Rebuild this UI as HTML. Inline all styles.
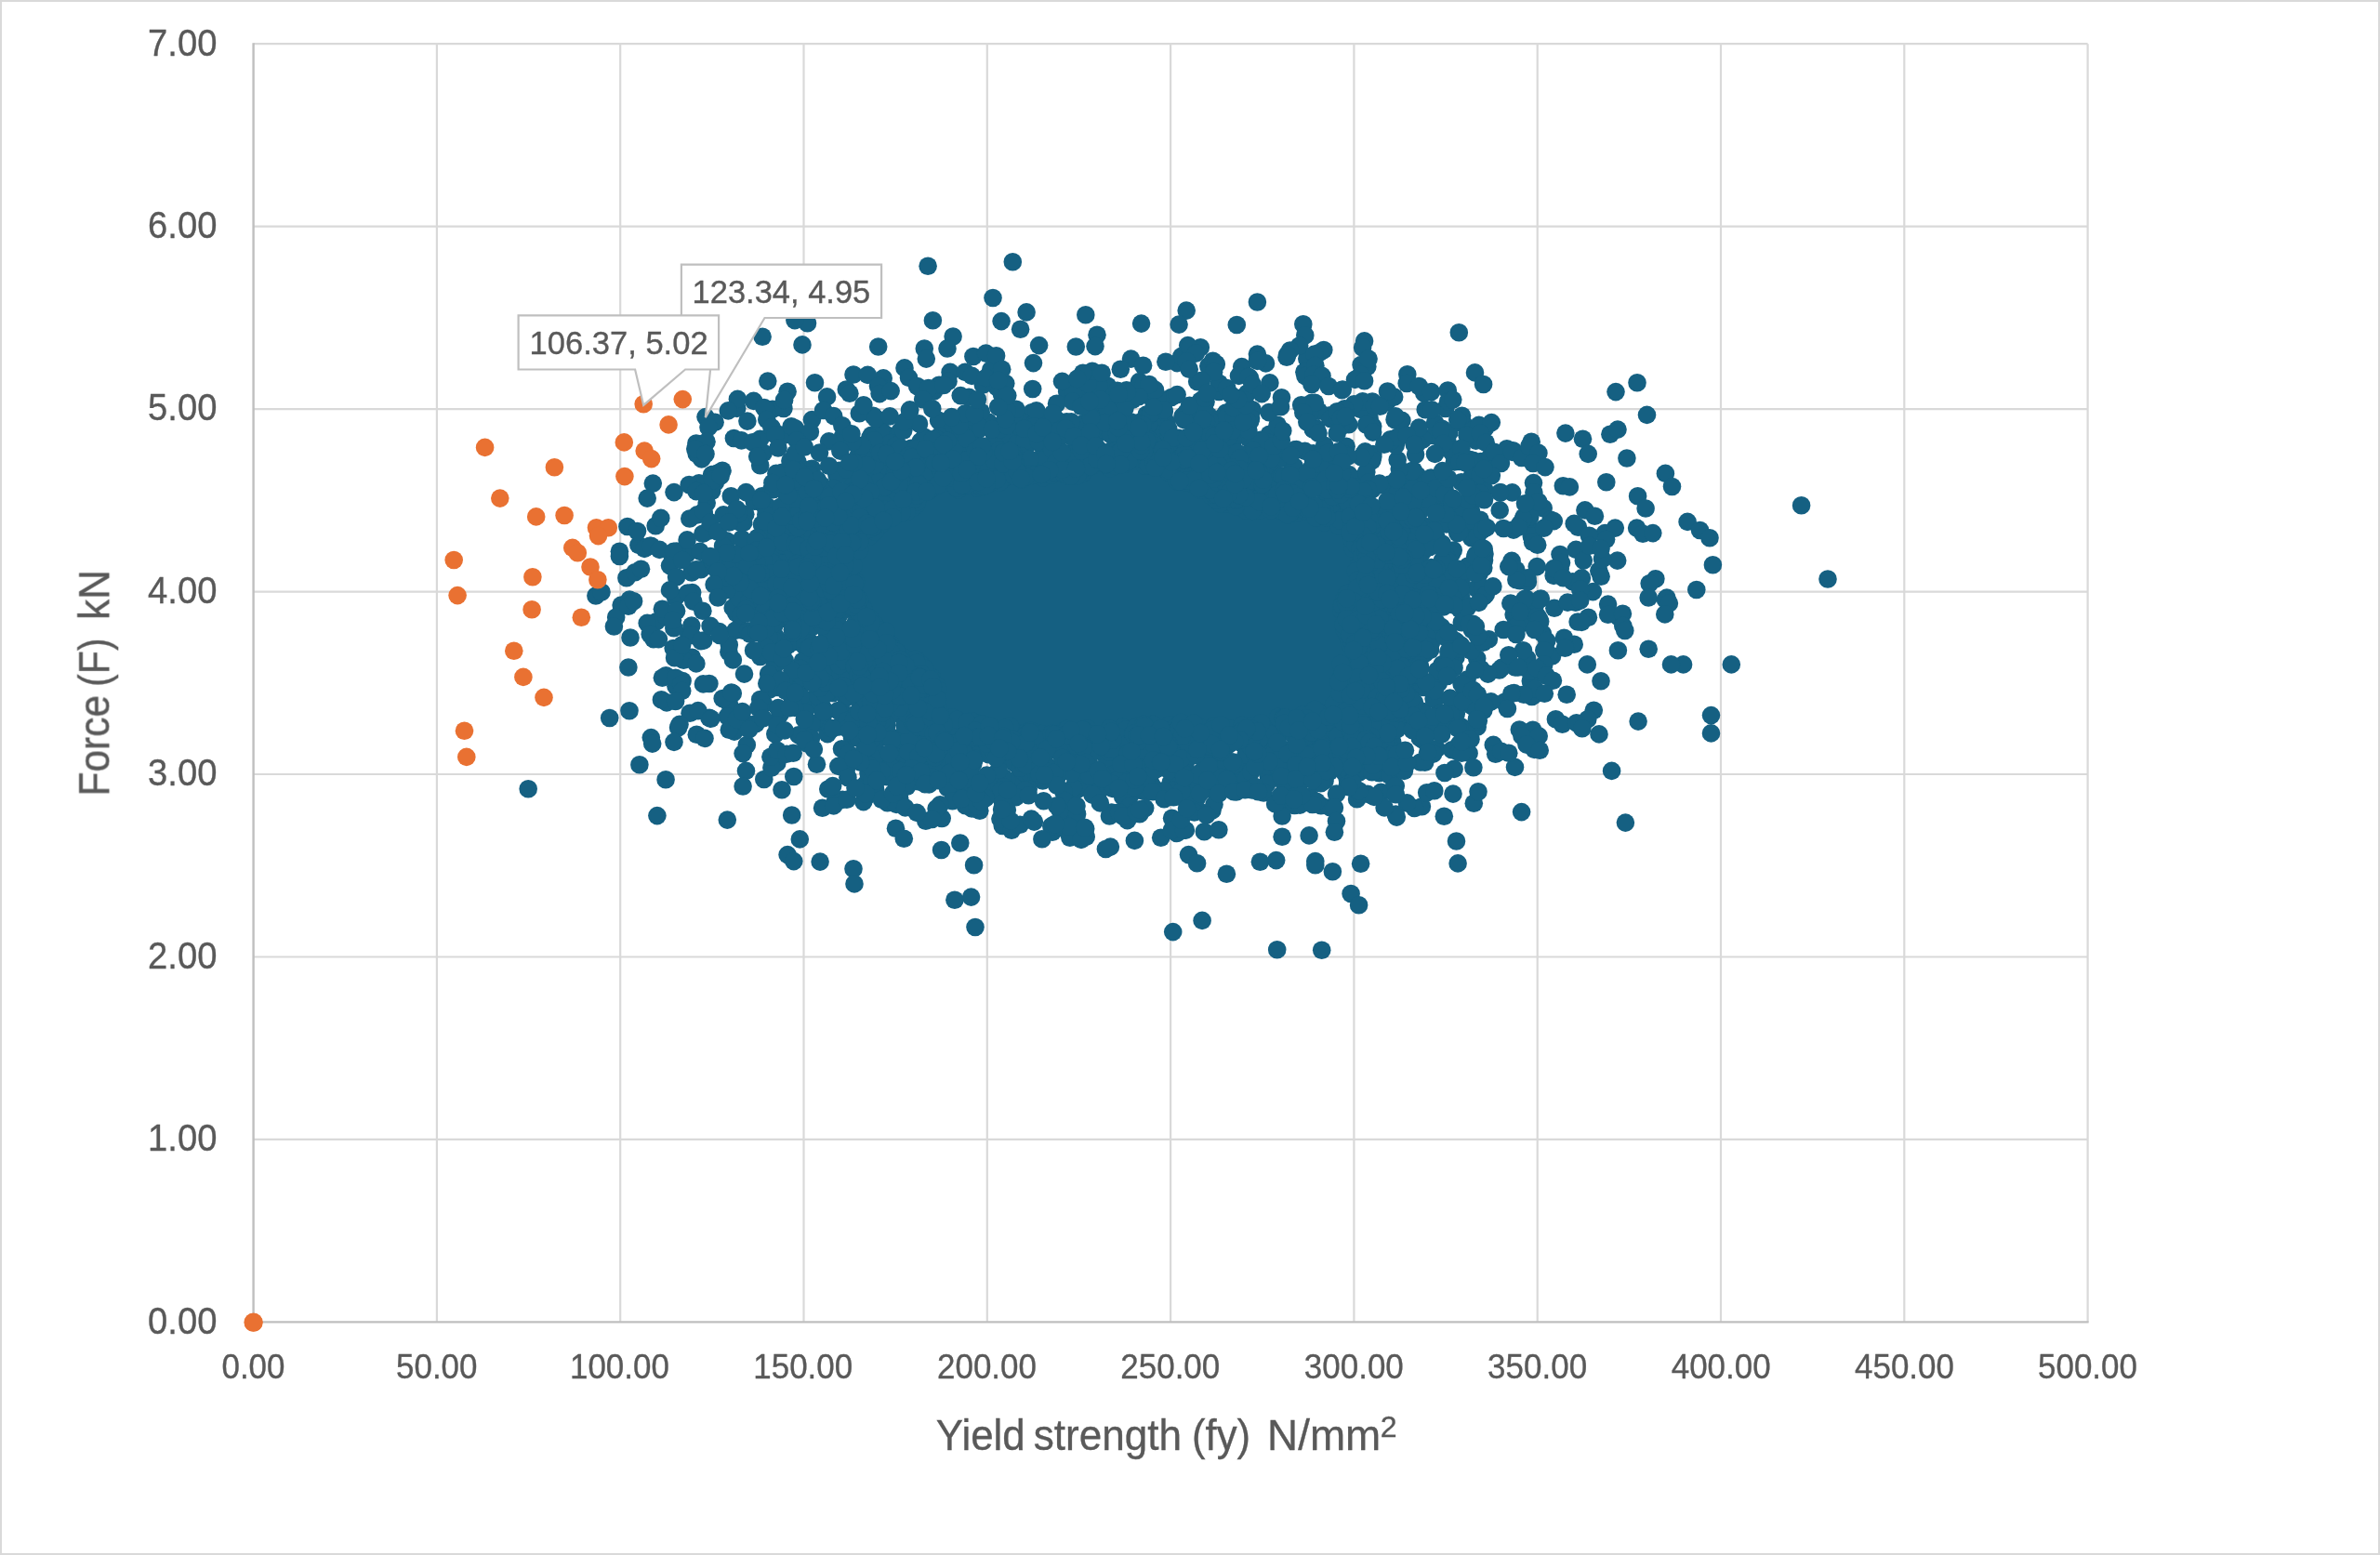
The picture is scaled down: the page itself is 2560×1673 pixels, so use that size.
<!DOCTYPE html><html><head><meta charset="utf-8"><title>chart</title><style>html,body{margin:0;padding:0;background:#fff}svg{display:block}</style></head><body>
<svg width="2560" height="1673" viewBox="0 0 2560 1673" font-family="Liberation Sans, sans-serif">
<defs><filter id="g" x="-5%" y="-30%" width="110%" height="160%" color-interpolation-filters="sRGB"><feOffset dx="0" dy="0"/></filter></defs>
<rect x="0" y="0" width="2560" height="1673" fill="#fff"/>
<rect x="1" y="1" width="2558" height="1671" fill="none" stroke="#D9D9D9" stroke-width="2"/>
<path d="M272.6 1225.9H2245.6M272.6 1029.5H2245.6M272.6 833.0H2245.6M272.6 636.6H2245.6M272.6 440.1H2245.6M272.6 243.7H2245.6M272.6 47.2H2245.6M469.9 47.2V1422.4M667.2 47.2V1422.4M864.5 47.2V1422.4M1061.8 47.2V1422.4M1259.1 47.2V1422.4M1456.4 47.2V1422.4M1653.7 47.2V1422.4M1851.0 47.2V1422.4M2048.3 47.2V1422.4M2245.6 47.2V1422.4" stroke="#D9D9D9" stroke-width="2.2" fill="none"/>
<path d="M272.6 46.2V1422.4M271.6 1422.4H2246.6" stroke="#BFBFBF" stroke-width="2.4" fill="none"/>
<text transform="translate(159.08,1434.70) scale(0.9510,1)" font-size="40.2" fill="#595959" stroke="#595959" stroke-width="0.35" filter="url(#g)" xml:space="preserve">0.00</text>
<text transform="translate(159.08,1238.24) scale(0.9510,1)" font-size="40.2" fill="#595959" stroke="#595959" stroke-width="0.35" filter="url(#g)" xml:space="preserve">1.00</text>
<text transform="translate(159.08,1041.79) scale(0.9510,1)" font-size="40.2" fill="#595959" stroke="#595959" stroke-width="0.35" filter="url(#g)" xml:space="preserve">2.00</text>
<text transform="translate(159.08,845.33) scale(0.9510,1)" font-size="40.2" fill="#595959" stroke="#595959" stroke-width="0.35" filter="url(#g)" xml:space="preserve">3.00</text>
<text transform="translate(159.08,648.87) scale(0.9510,1)" font-size="40.2" fill="#595959" stroke="#595959" stroke-width="0.35" filter="url(#g)" xml:space="preserve">4.00</text>
<text transform="translate(159.08,452.41) scale(0.9510,1)" font-size="40.2" fill="#595959" stroke="#595959" stroke-width="0.35" filter="url(#g)" xml:space="preserve">5.00</text>
<text transform="translate(159.08,255.96) scale(0.9510,1)" font-size="40.2" fill="#595959" stroke="#595959" stroke-width="0.35" filter="url(#g)" xml:space="preserve">6.00</text>
<text transform="translate(159.08,59.50) scale(0.9510,1)" font-size="40.2" fill="#595959" stroke="#595959" stroke-width="0.35" filter="url(#g)" xml:space="preserve">7.00</text>
<text transform="translate(238.44,1483.00) scale(0.9610,1)" font-size="36.4" fill="#595959" stroke="#595959" stroke-width="0.35" filter="url(#g)" xml:space="preserve">0.00</text>
<text transform="translate(425.99,1483.00) scale(0.9610,1)" font-size="36.4" fill="#595959" stroke="#595959" stroke-width="0.35" filter="url(#g)" xml:space="preserve">50.00</text>
<text transform="translate(612.97,1483.00) scale(0.9610,1)" font-size="36.4" fill="#595959" stroke="#595959" stroke-width="0.35" filter="url(#g)" xml:space="preserve">100.00</text>
<text transform="translate(810.27,1483.00) scale(0.9610,1)" font-size="36.4" fill="#595959" stroke="#595959" stroke-width="0.35" filter="url(#g)" xml:space="preserve">150.00</text>
<text transform="translate(1008.01,1483.00) scale(0.9610,1)" font-size="36.4" fill="#595959" stroke="#595959" stroke-width="0.35" filter="url(#g)" xml:space="preserve">200.00</text>
<text transform="translate(1205.31,1483.00) scale(0.9610,1)" font-size="36.4" fill="#595959" stroke="#595959" stroke-width="0.35" filter="url(#g)" xml:space="preserve">250.00</text>
<text transform="translate(1402.82,1483.00) scale(0.9610,1)" font-size="36.4" fill="#595959" stroke="#595959" stroke-width="0.35" filter="url(#g)" xml:space="preserve">300.00</text>
<text transform="translate(1600.12,1483.00) scale(0.9610,1)" font-size="36.4" fill="#595959" stroke="#595959" stroke-width="0.35" filter="url(#g)" xml:space="preserve">350.00</text>
<text transform="translate(1797.69,1483.00) scale(0.9610,1)" font-size="36.4" fill="#595959" stroke="#595959" stroke-width="0.35" filter="url(#g)" xml:space="preserve">400.00</text>
<text transform="translate(1994.99,1483.00) scale(0.9610,1)" font-size="36.4" fill="#595959" stroke="#595959" stroke-width="0.35" filter="url(#g)" xml:space="preserve">450.00</text>
<text transform="translate(2191.98,1483.00) scale(0.9610,1)" font-size="36.4" fill="#595959" stroke="#595959" stroke-width="0.35" filter="url(#g)" xml:space="preserve">500.00</text>
<text transform="translate(1006.81,1560.00) scale(0.9503,1)" font-size="46.2" fill="#595959" stroke="#595959" stroke-width="0.35" filter="url(#g)" xml:space="preserve">Yield</text>
<text transform="translate(1111.69,1560.00) scale(0.9543,1)" font-size="46.2" fill="#595959" stroke="#595959" stroke-width="0.35" filter="url(#g)" xml:space="preserve">strength</text>
<text transform="translate(1281.97,1560.00) scale(0.9461,1)" font-size="46.2" fill="#595959" stroke="#595959" stroke-width="0.35" filter="url(#g)" xml:space="preserve">(fy)</text>
<text transform="translate(1363.12,1560.00) scale(0.9913,1)" font-size="46.2" fill="#595959" stroke="#595959" stroke-width="0.35" filter="url(#g)" xml:space="preserve">N/mm</text>
<text transform="translate(1484.80,1545.80) scale(1.0418,1)" font-size="30.8" fill="#595959" stroke="#595959" stroke-width="0.35" filter="url(#g)" xml:space="preserve">2</text>
<g transform="translate(117.3,853.0) rotate(-90)"><text transform="translate(-3.50,0.00) scale(0.9017,1)" font-size="47.1" fill="#595959" stroke="#595959" stroke-width="0.35" filter="url(#g)" xml:space="preserve">Force</text><text transform="translate(114.14,0.00) scale(0.8695,1)" font-size="47.1" fill="#595959" stroke="#595959" stroke-width="0.35" filter="url(#g)" xml:space="preserve">(F)</text><text transform="translate(186.13,0.00) scale(0.9344,1)" font-size="47.1" fill="#595959" stroke="#595959" stroke-width="0.35" filter="url(#g)" xml:space="preserve">kN</text></g>
<path d="M936 551L935 551L935 551L934 551L934 552L934 552L933 552L933 552L899 595L899 596L899 596L899 596L897 604L897 604L897 605L901 643L901 644L902 644L909 661L909 661L909 662L909 662L930 680L935 685L940 691L943 696L946 702L946 703L946 704L947 704L947 704L947 704L947 705L948 705L948 705L955 709L963 714L970 719L975 724L980 730L984 736L987 742L989 749L989 755L989 764L989 764L989 765L990 765L990 765L990 766L990 766L991 766L991 766L992 767L1000 772L1006 777L1010 781L1010 781L1010 781L1011 781L1011 782L1012 782L1012 782L1012 782L1013 782L1013 782L1091 792L1099 793L1124 797L1124 797L1125 797L1136 797L1136 797L1137 797L1137 797L1159 795L1171 794L1209 792L1209 792L1246 790L1259 789L1272 789L1285 790L1295 791L1296 791L1296 791L1297 791L1297 791L1307 790L1320 790L1346 790L1346 790L1347 790L1347 790L1348 790L1348 790L1349 789L1350 789L1361 786L1373 783L1385 781L1414 776L1415 776L1415 776L1435 771L1435 771L1435 771L1453 764L1454 764L1454 764L1457 762L1457 762L1458 762L1458 761L1458 761L1459 759L1460 759L1460 758L1462 751L1462 750L1462 730L1462 723L1465 716L1468 709L1473 702L1476 698L1477 698L1477 698L1477 697L1477 697L1477 697L1477 696L1477 696L1468 680L1465 673L1464 666L1464 659L1465 652L1468 645L1472 638L1482 624L1482 624L1482 623L1482 623L1482 623L1482 623L1479 609L1479 605L1476 575L1476 575L1476 575L1476 574L1469 565L1468 564L1468 564L1468 564L1467 564L1467 563L1457 559L1445 553L1445 553L1445 553L1444 553L1444 553L1438 552L1425 549L1413 545L1406 542L1405 542L1405 542L1404 542L1404 542L1403 542L1403 542L1392 542L1380 542L1368 541L1356 539L1344 537L1333 534L1322 531L1312 527L1303 523L1294 518L1287 513L1280 508L1275 502L1271 497L1271 497L1271 496L1270 496L1270 496L1270 496L1269 495L1269 495L1268 495L1268 495L1267 495L1262 494L1250 493L1239 490L1228 488L1218 484L1217 484L1217 484L1216 484L1216 484L1215 484L1215 484L1214 483L1214 483L1213 484L1213 484L1212 484L1212 484L1211 484L1211 484L1210 484L1208 486L1198 490L1187 493L1176 496L1164 499L1152 500L1140 501L1095 504L1094 505L1093 505L1058 512L1058 512L1007 522L993 524L989 524L988 524L988 525L987 525L987 525L986 525L986 525L986 525L985 526L979 531L971 536L962 541L953 545L943 549L936 551Z" fill="#156082"/>
<g fill="#156082"><circle cx="827.5" cy="734.5" r="9.8"/><circle cx="1000.6" cy="487.3" r="9.8"/><circle cx="1458.1" cy="685.2" r="9.8"/><circle cx="1500.9" cy="545.9" r="9.8"/><circle cx="1525.1" cy="670.8" r="9.8"/><circle cx="951.5" cy="777.8" r="9.8"/><circle cx="1054.7" cy="499.0" r="9.8"/><circle cx="1351.9" cy="476.9" r="9.8"/><circle cx="1477.1" cy="732.6" r="9.8"/><circle cx="1162.0" cy="816.9" r="9.8"/><circle cx="1448.3" cy="789.9" r="9.8"/><circle cx="986.1" cy="766.9" r="9.8"/><circle cx="801.8" cy="553.3" r="9.8"/><circle cx="1109.4" cy="833.1" r="9.8"/><circle cx="1353.0" cy="521.4" r="9.8"/><circle cx="1551.7" cy="771.3" r="9.8"/><circle cx="905.8" cy="708.0" r="9.8"/><circle cx="1069.9" cy="789.9" r="9.8"/><circle cx="819.4" cy="564.3" r="9.8"/><circle cx="1284.3" cy="457.5" r="9.8"/><circle cx="1237.2" cy="456.1" r="9.8"/><circle cx="1306.2" cy="499.0" r="9.8"/><circle cx="878.4" cy="528.6" r="9.8"/><circle cx="1539.2" cy="539.4" r="9.8"/><circle cx="840.8" cy="547.9" r="9.8"/><circle cx="1242.5" cy="808.2" r="9.8"/><circle cx="1534.6" cy="577.2" r="9.8"/><circle cx="1449.4" cy="525.6" r="9.8"/><circle cx="889.6" cy="615.9" r="9.8"/><circle cx="1160.9" cy="838.7" r="9.8"/><circle cx="993.8" cy="493.2" r="9.8"/><circle cx="1435.3" cy="785.6" r="9.8"/><circle cx="978.5" cy="762.4" r="9.8"/><circle cx="884.5" cy="728.1" r="9.8"/><circle cx="1009.5" cy="773.4" r="9.8"/><circle cx="1277.1" cy="514.6" r="9.8"/><circle cx="1443.0" cy="656.8" r="9.8"/><circle cx="1235.5" cy="471.9" r="9.8"/><circle cx="1337.0" cy="511.2" r="9.8"/><circle cx="1206.0" cy="464.9" r="9.8"/><circle cx="1042.6" cy="506.5" r="9.8"/><circle cx="1232.0" cy="835.3" r="9.8"/><circle cx="792.3" cy="636.0" r="9.8"/><circle cx="898.9" cy="652.1" r="9.8"/><circle cx="1020.5" cy="780.0" r="9.8"/><circle cx="1093.2" cy="467.9" r="9.8"/><circle cx="1508.6" cy="632.5" r="9.8"/><circle cx="1240.9" cy="780.3" r="9.8"/><circle cx="1246.1" cy="502.1" r="9.8"/><circle cx="820.9" cy="679.4" r="9.8"/><circle cx="1237.0" cy="426.7" r="9.8"/><circle cx="1456.3" cy="580.3" r="9.8"/><circle cx="1446.7" cy="818.9" r="9.8"/><circle cx="1152.4" cy="801.3" r="9.8"/><circle cx="1488.0" cy="782.5" r="9.8"/><circle cx="884.4" cy="591.1" r="9.8"/><circle cx="881.3" cy="542.4" r="9.8"/><circle cx="1496.5" cy="608.0" r="9.8"/><circle cx="825.1" cy="572.2" r="9.8"/><circle cx="869.5" cy="688.7" r="9.8"/><circle cx="1121.7" cy="513.6" r="9.8"/><circle cx="983.8" cy="786.0" r="9.8"/><circle cx="953.4" cy="469.4" r="9.8"/><circle cx="1283.4" cy="782.5" r="9.8"/><circle cx="806.0" cy="623.4" r="9.8"/><circle cx="1507.2" cy="686.5" r="9.8"/><circle cx="1517.8" cy="739.1" r="9.8"/><circle cx="1553.1" cy="532.1" r="9.8"/><circle cx="1076.7" cy="484.0" r="9.8"/><circle cx="1254.0" cy="459.4" r="9.8"/><circle cx="841.0" cy="587.5" r="9.8"/><circle cx="1451.8" cy="736.0" r="9.8"/><circle cx="1530.6" cy="630.7" r="9.8"/><circle cx="1503.5" cy="690.2" r="9.8"/><circle cx="1337.0" cy="439.3" r="9.8"/><circle cx="922.7" cy="679.6" r="9.8"/><circle cx="908.3" cy="682.9" r="9.8"/><circle cx="903.0" cy="596.3" r="9.8"/><circle cx="910.2" cy="572.0" r="9.8"/><circle cx="875.5" cy="710.7" r="9.8"/><circle cx="1210.6" cy="498.5" r="9.8"/><circle cx="1443.0" cy="789.8" r="9.8"/><circle cx="905.6" cy="645.1" r="9.8"/><circle cx="1216.2" cy="854.7" r="9.8"/><circle cx="875.9" cy="723.3" r="9.8"/><circle cx="1084.7" cy="441.3" r="9.8"/><circle cx="1518.0" cy="588.9" r="9.8"/><circle cx="923.6" cy="489.5" r="9.8"/><circle cx="1093.2" cy="790.8" r="9.8"/><circle cx="1036.1" cy="848.8" r="9.8"/><circle cx="1141.5" cy="485.6" r="9.8"/><circle cx="949.7" cy="750.5" r="9.8"/><circle cx="1543.3" cy="752.7" r="9.8"/><circle cx="809.2" cy="638.1" r="9.8"/><circle cx="1378.3" cy="492.5" r="9.8"/><circle cx="1467.8" cy="569.4" r="9.8"/><circle cx="1000.2" cy="743.6" r="9.8"/><circle cx="1453.0" cy="566.9" r="9.8"/><circle cx="1591.0" cy="617.4" r="9.8"/><circle cx="948.0" cy="563.9" r="9.8"/><circle cx="1096.8" cy="448.3" r="9.8"/><circle cx="1342.0" cy="542.3" r="9.8"/><circle cx="1514.1" cy="554.6" r="9.8"/><circle cx="1286.7" cy="812.7" r="9.8"/><circle cx="919.3" cy="783.4" r="9.8"/><circle cx="1520.4" cy="778.2" r="9.8"/><circle cx="1255.0" cy="454.8" r="9.8"/><circle cx="1551.2" cy="714.8" r="9.8"/><circle cx="1444.2" cy="750.3" r="9.8"/><circle cx="1299.6" cy="841.4" r="9.8"/><circle cx="896.1" cy="556.1" r="9.8"/><circle cx="1041.3" cy="798.7" r="9.8"/><circle cx="1310.9" cy="504.0" r="9.8"/><circle cx="1201.0" cy="474.0" r="9.8"/><circle cx="1042.5" cy="852.2" r="9.8"/><circle cx="1520.7" cy="600.3" r="9.8"/><circle cx="1169.6" cy="783.7" r="9.8"/><circle cx="982.5" cy="485.4" r="9.8"/><circle cx="961.1" cy="803.0" r="9.8"/><circle cx="1339.6" cy="494.4" r="9.8"/><circle cx="1459.2" cy="648.6" r="9.8"/><circle cx="1601.4" cy="687.7" r="9.8"/><circle cx="902.4" cy="782.0" r="9.8"/><circle cx="895.3" cy="702.7" r="9.8"/><circle cx="1556.6" cy="599.7" r="9.8"/><circle cx="1297.0" cy="432.5" r="9.8"/><circle cx="1152.1" cy="495.3" r="9.8"/><circle cx="1042.2" cy="488.9" r="9.8"/><circle cx="1049.2" cy="502.6" r="9.8"/><circle cx="1470.4" cy="596.4" r="9.8"/><circle cx="1499.4" cy="666.3" r="9.8"/><circle cx="1383.1" cy="520.5" r="9.8"/><circle cx="952.2" cy="816.6" r="9.8"/><circle cx="973.0" cy="792.4" r="9.8"/><circle cx="1259.9" cy="427.5" r="9.8"/><circle cx="1530.4" cy="739.5" r="9.8"/><circle cx="1596.5" cy="602.8" r="9.8"/><circle cx="902.3" cy="569.3" r="9.8"/><circle cx="1335.0" cy="829.9" r="9.8"/><circle cx="1592.1" cy="559.2" r="9.8"/><circle cx="1452.6" cy="761.7" r="9.8"/><circle cx="1295.6" cy="511.4" r="9.8"/><circle cx="1369.1" cy="512.1" r="9.8"/><circle cx="1291.8" cy="788.0" r="9.8"/><circle cx="1588.2" cy="633.4" r="9.8"/><circle cx="1029.6" cy="522.5" r="9.8"/><circle cx="859.0" cy="725.8" r="9.8"/><circle cx="1291.3" cy="784.2" r="9.8"/><circle cx="1011.6" cy="788.0" r="9.8"/><circle cx="1480.4" cy="607.2" r="9.8"/><circle cx="1518.8" cy="715.3" r="9.8"/><circle cx="968.5" cy="754.0" r="9.8"/><circle cx="920.6" cy="626.1" r="9.8"/><circle cx="1485.7" cy="566.0" r="9.8"/><circle cx="1271.5" cy="476.8" r="9.8"/><circle cx="1459.3" cy="719.3" r="9.8"/><circle cx="1388.1" cy="849.2" r="9.8"/><circle cx="820.3" cy="599.4" r="9.8"/><circle cx="1435.4" cy="517.7" r="9.8"/><circle cx="865.2" cy="722.5" r="9.8"/><circle cx="848.0" cy="571.1" r="9.8"/><circle cx="990.3" cy="714.5" r="9.8"/><circle cx="1373.4" cy="531.2" r="9.8"/><circle cx="1136.2" cy="794.0" r="9.8"/><circle cx="1344.7" cy="816.0" r="9.8"/><circle cx="983.1" cy="729.5" r="9.8"/><circle cx="1347.5" cy="817.1" r="9.8"/><circle cx="1529.9" cy="594.4" r="9.8"/><circle cx="863.8" cy="540.3" r="9.8"/><circle cx="880.3" cy="588.3" r="9.8"/><circle cx="1026.4" cy="513.2" r="9.8"/><circle cx="900.1" cy="680.7" r="9.8"/><circle cx="1011.4" cy="454.3" r="9.8"/><circle cx="916.8" cy="608.6" r="9.8"/><circle cx="1557.1" cy="627.8" r="9.8"/><circle cx="988.1" cy="778.7" r="9.8"/><circle cx="875.1" cy="778.9" r="9.8"/><circle cx="1063.3" cy="852.2" r="9.8"/><circle cx="863.2" cy="554.8" r="9.8"/><circle cx="1083.3" cy="481.5" r="9.8"/><circle cx="1503.8" cy="757.3" r="9.8"/><circle cx="952.3" cy="737.4" r="9.8"/><circle cx="999.4" cy="733.4" r="9.8"/><circle cx="1575.2" cy="743.0" r="9.8"/><circle cx="1076.5" cy="787.4" r="9.8"/><circle cx="861.0" cy="655.0" r="9.8"/><circle cx="810.4" cy="617.7" r="9.8"/><circle cx="1149.8" cy="460.1" r="9.8"/><circle cx="1484.1" cy="634.7" r="9.8"/><circle cx="902.8" cy="661.6" r="9.8"/><circle cx="1064.5" cy="848.8" r="9.8"/><circle cx="1257.7" cy="780.0" r="9.8"/><circle cx="1540.5" cy="538.9" r="9.8"/><circle cx="1135.7" cy="506.8" r="9.8"/><circle cx="990.8" cy="506.7" r="9.8"/><circle cx="1443.6" cy="540.2" r="9.8"/><circle cx="1514.6" cy="734.6" r="9.8"/><circle cx="1382.3" cy="829.7" r="9.8"/><circle cx="937.3" cy="696.6" r="9.8"/><circle cx="1449.0" cy="546.8" r="9.8"/><circle cx="1245.4" cy="796.5" r="9.8"/><circle cx="975.5" cy="846.2" r="9.8"/><circle cx="1267.0" cy="856.7" r="9.8"/><circle cx="835.0" cy="574.4" r="9.8"/><circle cx="834.6" cy="685.5" r="9.8"/><circle cx="1166.4" cy="845.0" r="9.8"/><circle cx="1147.3" cy="453.7" r="9.8"/><circle cx="1464.8" cy="712.5" r="9.8"/><circle cx="1249.4" cy="786.2" r="9.8"/><circle cx="1256.7" cy="507.7" r="9.8"/><circle cx="1276.2" cy="783.4" r="9.8"/><circle cx="964.2" cy="748.0" r="9.8"/><circle cx="1255.4" cy="805.7" r="9.8"/><circle cx="1201.9" cy="807.1" r="9.8"/><circle cx="1310.1" cy="502.0" r="9.8"/><circle cx="961.8" cy="757.6" r="9.8"/><circle cx="1283.4" cy="510.0" r="9.8"/><circle cx="955.8" cy="793.0" r="9.8"/><circle cx="1271.4" cy="781.9" r="9.8"/><circle cx="1066.1" cy="510.9" r="9.8"/><circle cx="1037.2" cy="791.5" r="9.8"/><circle cx="845.4" cy="613.1" r="9.8"/><circle cx="982.1" cy="837.4" r="9.8"/><circle cx="1044.1" cy="808.0" r="9.8"/><circle cx="1498.1" cy="548.7" r="9.8"/><circle cx="1442.9" cy="551.1" r="9.8"/><circle cx="1125.7" cy="800.7" r="9.8"/><circle cx="1315.5" cy="448.4" r="9.8"/><circle cx="1301.2" cy="819.1" r="9.8"/><circle cx="1026.9" cy="819.0" r="9.8"/><circle cx="1564.0" cy="636.2" r="9.8"/><circle cx="1407.4" cy="508.5" r="9.8"/><circle cx="894.2" cy="725.2" r="9.8"/><circle cx="1039.2" cy="465.0" r="9.8"/><circle cx="952.7" cy="467.2" r="9.8"/><circle cx="1586.2" cy="675.2" r="9.8"/><circle cx="978.6" cy="490.2" r="9.8"/><circle cx="1566.0" cy="707.0" r="9.8"/><circle cx="1448.1" cy="567.0" r="9.8"/><circle cx="1530.4" cy="796.0" r="9.8"/><circle cx="1233.5" cy="493.4" r="9.8"/><circle cx="1229.2" cy="850.9" r="9.8"/><circle cx="911.6" cy="769.6" r="9.8"/><circle cx="876.1" cy="663.8" r="9.8"/><circle cx="942.9" cy="703.4" r="9.8"/><circle cx="1451.2" cy="799.0" r="9.8"/><circle cx="1227.1" cy="489.2" r="9.8"/><circle cx="920.0" cy="670.6" r="9.8"/><circle cx="1113.8" cy="797.0" r="9.8"/><circle cx="1317.4" cy="538.1" r="9.8"/><circle cx="1358.4" cy="544.7" r="9.8"/><circle cx="1454.7" cy="792.6" r="9.8"/><circle cx="1120.2" cy="478.7" r="9.8"/><circle cx="1179.3" cy="481.2" r="9.8"/><circle cx="1470.3" cy="654.8" r="9.8"/><circle cx="921.8" cy="706.0" r="9.8"/><circle cx="1028.0" cy="779.1" r="9.8"/><circle cx="1389.7" cy="487.2" r="9.8"/><circle cx="990.3" cy="522.2" r="9.8"/><circle cx="1480.5" cy="815.2" r="9.8"/><circle cx="1553.2" cy="611.2" r="9.8"/><circle cx="1515.4" cy="551.3" r="9.8"/><circle cx="934.7" cy="694.7" r="9.8"/><circle cx="1336.6" cy="800.3" r="9.8"/><circle cx="1178.3" cy="420.7" r="9.8"/><circle cx="1418.1" cy="782.0" r="9.8"/><circle cx="1047.0" cy="821.2" r="9.8"/><circle cx="939.9" cy="569.7" r="9.8"/><circle cx="1506.5" cy="543.2" r="9.8"/><circle cx="1341.4" cy="797.6" r="9.8"/><circle cx="846.5" cy="534.6" r="9.8"/><circle cx="1402.9" cy="530.9" r="9.8"/><circle cx="1067.5" cy="487.0" r="9.8"/><circle cx="1482.2" cy="782.7" r="9.8"/><circle cx="871.4" cy="638.1" r="9.8"/><circle cx="1136.0" cy="793.7" r="9.8"/><circle cx="1472.4" cy="557.7" r="9.8"/><circle cx="1465.0" cy="692.4" r="9.8"/><circle cx="1159.0" cy="506.4" r="9.8"/><circle cx="1109.8" cy="443.8" r="9.8"/><circle cx="985.0" cy="492.5" r="9.8"/><circle cx="1099.4" cy="823.0" r="9.8"/><circle cx="1195.3" cy="455.6" r="9.8"/><circle cx="1535.6" cy="699.0" r="9.8"/><circle cx="896.0" cy="684.1" r="9.8"/><circle cx="1487.2" cy="635.9" r="9.8"/><circle cx="880.1" cy="653.9" r="9.8"/><circle cx="1456.3" cy="642.7" r="9.8"/><circle cx="991.6" cy="530.5" r="9.8"/><circle cx="1064.1" cy="505.2" r="9.8"/><circle cx="1255.1" cy="468.8" r="9.8"/><circle cx="967.8" cy="464.5" r="9.8"/><circle cx="1000.6" cy="527.1" r="9.8"/><circle cx="1477.2" cy="665.0" r="9.8"/><circle cx="1494.5" cy="633.7" r="9.8"/><circle cx="1382.0" cy="787.4" r="9.8"/><circle cx="1461.6" cy="536.7" r="9.8"/><circle cx="1300.0" cy="447.2" r="9.8"/><circle cx="1207.5" cy="782.6" r="9.8"/><circle cx="792.4" cy="658.9" r="9.8"/><circle cx="816.8" cy="585.5" r="9.8"/><circle cx="937.4" cy="468.2" r="9.8"/><circle cx="1282.4" cy="789.6" r="9.8"/><circle cx="952.0" cy="682.8" r="9.8"/><circle cx="1003.6" cy="837.2" r="9.8"/><circle cx="1411.2" cy="545.1" r="9.8"/><circle cx="1120.2" cy="813.1" r="9.8"/><circle cx="1237.1" cy="841.2" r="9.8"/><circle cx="1199.8" cy="848.7" r="9.8"/><circle cx="1563.3" cy="592.0" r="9.8"/><circle cx="921.2" cy="506.6" r="9.8"/><circle cx="886.3" cy="767.5" r="9.8"/><circle cx="890.6" cy="713.6" r="9.8"/><circle cx="867.5" cy="799.6" r="9.8"/><circle cx="1424.2" cy="555.9" r="9.8"/><circle cx="899.9" cy="510.8" r="9.8"/><circle cx="1168.3" cy="797.8" r="9.8"/><circle cx="1100.7" cy="836.1" r="9.8"/><circle cx="1319.5" cy="481.9" r="9.8"/><circle cx="1486.0" cy="706.7" r="9.8"/><circle cx="1294.0" cy="805.5" r="9.8"/><circle cx="1455.0" cy="643.0" r="9.8"/><circle cx="882.3" cy="725.5" r="9.8"/><circle cx="1296.0" cy="491.7" r="9.8"/><circle cx="981.2" cy="822.6" r="9.8"/><circle cx="1511.4" cy="517.2" r="9.8"/><circle cx="1516.7" cy="733.0" r="9.8"/><circle cx="889.5" cy="783.8" r="9.8"/><circle cx="1323.2" cy="503.5" r="9.8"/><circle cx="871.0" cy="732.9" r="9.8"/><circle cx="854.8" cy="536.8" r="9.8"/><circle cx="974.7" cy="731.6" r="9.8"/><circle cx="1008.9" cy="761.2" r="9.8"/><circle cx="1399.0" cy="780.0" r="9.8"/><circle cx="1003.7" cy="800.5" r="9.8"/><circle cx="1030.2" cy="797.0" r="9.8"/><circle cx="888.3" cy="642.1" r="9.8"/><circle cx="1271.9" cy="830.2" r="9.8"/><circle cx="1009.6" cy="452.4" r="9.8"/><circle cx="1254.0" cy="461.9" r="9.8"/><circle cx="1357.4" cy="782.8" r="9.8"/><circle cx="1121.6" cy="840.0" r="9.8"/><circle cx="1360.1" cy="821.4" r="9.8"/><circle cx="845.9" cy="666.2" r="9.8"/><circle cx="1226.5" cy="473.9" r="9.8"/><circle cx="1471.3" cy="689.4" r="9.8"/><circle cx="1159.1" cy="849.4" r="9.8"/><circle cx="1195.6" cy="799.1" r="9.8"/><circle cx="924.9" cy="555.3" r="9.8"/><circle cx="1101.0" cy="454.2" r="9.8"/><circle cx="1225.9" cy="829.0" r="9.8"/><circle cx="910.2" cy="750.7" r="9.8"/><circle cx="934.9" cy="528.2" r="9.8"/><circle cx="1472.5" cy="737.9" r="9.8"/><circle cx="1231.9" cy="500.7" r="9.8"/><circle cx="908.0" cy="640.0" r="9.8"/><circle cx="1263.6" cy="783.5" r="9.8"/><circle cx="874.0" cy="629.0" r="9.8"/><circle cx="1292.0" cy="507.9" r="9.8"/><circle cx="1108.3" cy="827.0" r="9.8"/><circle cx="1166.5" cy="810.2" r="9.8"/><circle cx="1534.8" cy="521.2" r="9.8"/><circle cx="989.9" cy="727.4" r="9.8"/><circle cx="1471.9" cy="598.6" r="9.8"/><circle cx="1152.6" cy="802.1" r="9.8"/><circle cx="1447.6" cy="668.2" r="9.8"/><circle cx="1347.1" cy="521.3" r="9.8"/><circle cx="1095.8" cy="836.0" r="9.8"/><circle cx="1304.5" cy="810.7" r="9.8"/><circle cx="1091.1" cy="787.1" r="9.8"/><circle cx="1440.4" cy="556.0" r="9.8"/><circle cx="1122.4" cy="504.5" r="9.8"/><circle cx="1495.1" cy="521.0" r="9.8"/><circle cx="1449.2" cy="838.0" r="9.8"/><circle cx="831.4" cy="618.8" r="9.8"/><circle cx="895.7" cy="745.7" r="9.8"/><circle cx="1544.2" cy="670.8" r="9.8"/><circle cx="1505.2" cy="734.9" r="9.8"/><circle cx="1064.7" cy="800.5" r="9.8"/><circle cx="1040.4" cy="784.9" r="9.8"/><circle cx="832.6" cy="673.5" r="9.8"/><circle cx="941.0" cy="779.0" r="9.8"/><circle cx="1314.2" cy="813.8" r="9.8"/><circle cx="1176.6" cy="790.0" r="9.8"/><circle cx="867.4" cy="708.6" r="9.8"/><circle cx="1245.1" cy="426.8" r="9.8"/><circle cx="1530.3" cy="765.2" r="9.8"/><circle cx="836.4" cy="607.9" r="9.8"/><circle cx="1263.1" cy="506.9" r="9.8"/><circle cx="1546.1" cy="630.4" r="9.8"/><circle cx="1289.2" cy="495.6" r="9.8"/><circle cx="832.0" cy="720.2" r="9.8"/><circle cx="1535.5" cy="789.7" r="9.8"/><circle cx="791.7" cy="659.5" r="9.8"/><circle cx="998.7" cy="528.4" r="9.8"/><circle cx="908.5" cy="728.0" r="9.8"/><circle cx="1461.8" cy="696.5" r="9.8"/><circle cx="1367.0" cy="809.4" r="9.8"/><circle cx="1319.5" cy="530.5" r="9.8"/><circle cx="914.9" cy="650.5" r="9.8"/><circle cx="1167.5" cy="789.1" r="9.8"/><circle cx="1545.6" cy="630.2" r="9.8"/><circle cx="1432.5" cy="807.6" r="9.8"/><circle cx="1010.6" cy="792.1" r="9.8"/><circle cx="1278.6" cy="498.9" r="9.8"/><circle cx="1291.9" cy="462.4" r="9.8"/><circle cx="1416.6" cy="521.1" r="9.8"/><circle cx="940.4" cy="507.1" r="9.8"/><circle cx="1468.7" cy="526.4" r="9.8"/><circle cx="1327.1" cy="485.6" r="9.8"/><circle cx="872.9" cy="663.3" r="9.8"/><circle cx="942.2" cy="674.8" r="9.8"/><circle cx="1148.9" cy="466.9" r="9.8"/><circle cx="1355.1" cy="821.6" r="9.8"/><circle cx="1083.6" cy="504.8" r="9.8"/><circle cx="1441.0" cy="535.4" r="9.8"/><circle cx="857.4" cy="734.8" r="9.8"/><circle cx="939.0" cy="738.9" r="9.8"/><circle cx="1355.2" cy="548.9" r="9.8"/><circle cx="833.2" cy="713.2" r="9.8"/><circle cx="1453.4" cy="785.1" r="9.8"/><circle cx="935.5" cy="790.3" r="9.8"/><circle cx="1444.8" cy="558.3" r="9.8"/><circle cx="1476.8" cy="488.5" r="9.8"/><circle cx="1438.6" cy="549.2" r="9.8"/><circle cx="1327.2" cy="836.5" r="9.8"/><circle cx="1250.5" cy="475.3" r="9.8"/><circle cx="905.4" cy="586.3" r="9.8"/><circle cx="1103.8" cy="788.0" r="9.8"/><circle cx="1321.0" cy="798.1" r="9.8"/><circle cx="1266.5" cy="517.7" r="9.8"/><circle cx="896.5" cy="628.6" r="9.8"/><circle cx="1238.3" cy="473.6" r="9.8"/><circle cx="811.9" cy="642.9" r="9.8"/><circle cx="1515.1" cy="757.8" r="9.8"/><circle cx="1562.9" cy="623.1" r="9.8"/><circle cx="1126.9" cy="805.0" r="9.8"/><circle cx="1229.1" cy="789.7" r="9.8"/><circle cx="1220.9" cy="464.7" r="9.8"/><circle cx="1002.0" cy="791.5" r="9.8"/><circle cx="1448.1" cy="480.2" r="9.8"/><circle cx="882.8" cy="621.5" r="9.8"/><circle cx="1459.6" cy="580.6" r="9.8"/><circle cx="1021.9" cy="507.3" r="9.8"/><circle cx="1537.3" cy="654.9" r="9.8"/><circle cx="1116.9" cy="836.2" r="9.8"/><circle cx="1538.5" cy="699.4" r="9.8"/><circle cx="1462.7" cy="692.1" r="9.8"/><circle cx="879.6" cy="755.2" r="9.8"/><circle cx="1118.7" cy="809.8" r="9.8"/><circle cx="1458.4" cy="584.5" r="9.8"/><circle cx="940.4" cy="693.8" r="9.8"/><circle cx="1065.5" cy="789.5" r="9.8"/><circle cx="905.8" cy="618.3" r="9.8"/><circle cx="968.6" cy="742.7" r="9.8"/><circle cx="930.4" cy="751.3" r="9.8"/><circle cx="1081.1" cy="444.9" r="9.8"/><circle cx="838.3" cy="619.5" r="9.8"/><circle cx="915.8" cy="609.9" r="9.8"/><circle cx="905.5" cy="767.9" r="9.8"/><circle cx="844.5" cy="595.9" r="9.8"/><circle cx="1583.1" cy="759.6" r="9.8"/><circle cx="1325.9" cy="540.1" r="9.8"/><circle cx="1109.8" cy="462.6" r="9.8"/><circle cx="1476.1" cy="586.3" r="9.8"/><circle cx="1373.3" cy="478.6" r="9.8"/><circle cx="1443.5" cy="726.0" r="9.8"/><circle cx="1416.0" cy="778.8" r="9.8"/><circle cx="808.0" cy="614.0" r="9.8"/><circle cx="1395.5" cy="551.9" r="9.8"/><circle cx="1112.4" cy="455.6" r="9.8"/><circle cx="881.6" cy="734.8" r="9.8"/><circle cx="1196.3" cy="832.1" r="9.8"/><circle cx="1153.7" cy="486.6" r="9.8"/><circle cx="1446.7" cy="488.8" r="9.8"/><circle cx="1058.4" cy="787.6" r="9.8"/><circle cx="849.1" cy="593.0" r="9.8"/><circle cx="1527.6" cy="689.7" r="9.8"/><circle cx="781.5" cy="581.7" r="9.8"/><circle cx="1541.0" cy="660.6" r="9.8"/><circle cx="907.9" cy="571.7" r="9.8"/><circle cx="1406.1" cy="783.5" r="9.8"/><circle cx="1517.5" cy="686.6" r="9.8"/><circle cx="1413.9" cy="777.5" r="9.8"/><circle cx="1596.1" cy="641.9" r="9.8"/><circle cx="1512.5" cy="731.8" r="9.8"/><circle cx="934.1" cy="765.0" r="9.8"/><circle cx="962.8" cy="501.7" r="9.8"/><circle cx="917.8" cy="745.2" r="9.8"/><circle cx="1528.2" cy="693.0" r="9.8"/><circle cx="1282.2" cy="491.1" r="9.8"/><circle cx="1151.0" cy="854.5" r="9.8"/><circle cx="950.7" cy="685.0" r="9.8"/><circle cx="1347.0" cy="440.8" r="9.8"/><circle cx="1518.5" cy="525.6" r="9.8"/><circle cx="825.2" cy="659.9" r="9.8"/><circle cx="1459.4" cy="556.8" r="9.8"/><circle cx="866.9" cy="752.8" r="9.8"/><circle cx="1128.2" cy="459.7" r="9.8"/><circle cx="930.1" cy="789.6" r="9.8"/><circle cx="1018.7" cy="793.7" r="9.8"/><circle cx="1061.9" cy="804.0" r="9.8"/><circle cx="1131.1" cy="803.9" r="9.8"/><circle cx="924.0" cy="753.4" r="9.8"/><circle cx="1594.4" cy="632.1" r="9.8"/><circle cx="1493.8" cy="737.2" r="9.8"/><circle cx="947.9" cy="513.7" r="9.8"/><circle cx="868.8" cy="714.7" r="9.8"/><circle cx="1174.0" cy="424.1" r="9.8"/><circle cx="1565.4" cy="557.2" r="9.8"/><circle cx="1235.1" cy="475.0" r="9.8"/><circle cx="891.1" cy="614.9" r="9.8"/><circle cx="825.6" cy="545.0" r="9.8"/><circle cx="843.0" cy="617.0" r="9.8"/><circle cx="1513.0" cy="632.1" r="9.8"/><circle cx="1481.2" cy="705.5" r="9.8"/><circle cx="1239.7" cy="420.5" r="9.8"/><circle cx="1116.2" cy="447.0" r="9.8"/><circle cx="986.2" cy="805.6" r="9.8"/><circle cx="1338.8" cy="797.3" r="9.8"/><circle cx="1582.2" cy="549.4" r="9.8"/><circle cx="1159.4" cy="835.1" r="9.8"/><circle cx="946.5" cy="709.1" r="9.8"/><circle cx="1206.6" cy="491.3" r="9.8"/><circle cx="973.3" cy="525.9" r="9.8"/><circle cx="1187.7" cy="838.3" r="9.8"/><circle cx="889.1" cy="746.2" r="9.8"/><circle cx="1250.0" cy="799.9" r="9.8"/><circle cx="1407.7" cy="508.2" r="9.8"/><circle cx="1489.2" cy="694.8" r="9.8"/><circle cx="1540.7" cy="537.8" r="9.8"/><circle cx="1008.8" cy="502.7" r="9.8"/><circle cx="894.7" cy="725.8" r="9.8"/><circle cx="910.4" cy="827.3" r="9.8"/><circle cx="1217.1" cy="459.8" r="9.8"/><circle cx="941.6" cy="507.3" r="9.8"/><circle cx="1252.6" cy="501.5" r="9.8"/><circle cx="1235.8" cy="448.3" r="9.8"/><circle cx="1350.7" cy="498.7" r="9.8"/><circle cx="1334.0" cy="534.9" r="9.8"/><circle cx="982.7" cy="720.7" r="9.8"/><circle cx="1587.5" cy="596.8" r="9.8"/><circle cx="947.6" cy="462.2" r="9.8"/><circle cx="996.0" cy="756.7" r="9.8"/><circle cx="1305.8" cy="465.3" r="9.8"/><circle cx="1448.4" cy="756.8" r="9.8"/><circle cx="1091.8" cy="486.0" r="9.8"/><circle cx="843.9" cy="587.3" r="9.8"/><circle cx="1475.3" cy="637.5" r="9.8"/><circle cx="867.7" cy="591.0" r="9.8"/><circle cx="1524.4" cy="511.4" r="9.8"/><circle cx="897.4" cy="607.8" r="9.8"/><circle cx="857.4" cy="545.1" r="9.8"/><circle cx="1069.6" cy="468.4" r="9.8"/><circle cx="1424.2" cy="542.1" r="9.8"/><circle cx="1343.1" cy="471.8" r="9.8"/><circle cx="1137.7" cy="798.7" r="9.8"/><circle cx="1271.9" cy="797.6" r="9.8"/><circle cx="1586.1" cy="571.7" r="9.8"/><circle cx="1039.5" cy="808.6" r="9.8"/><circle cx="862.2" cy="736.8" r="9.8"/><circle cx="1321.0" cy="839.2" r="9.8"/><circle cx="984.8" cy="536.5" r="9.8"/><circle cx="1410.3" cy="783.8" r="9.8"/><circle cx="987.5" cy="733.2" r="9.8"/><circle cx="810.9" cy="640.6" r="9.8"/><circle cx="1285.1" cy="842.3" r="9.8"/><circle cx="1203.2" cy="798.9" r="9.8"/><circle cx="935.1" cy="828.9" r="9.8"/><circle cx="1369.5" cy="509.6" r="9.8"/><circle cx="1343.7" cy="524.7" r="9.8"/><circle cx="925.9" cy="692.1" r="9.8"/><circle cx="819.6" cy="533.8" r="9.8"/><circle cx="1429.9" cy="830.3" r="9.8"/><circle cx="925.2" cy="578.2" r="9.8"/><circle cx="833.2" cy="694.3" r="9.8"/><circle cx="1158.2" cy="818.5" r="9.8"/><circle cx="1349.4" cy="502.4" r="9.8"/><circle cx="1164.2" cy="462.4" r="9.8"/><circle cx="1390.8" cy="521.1" r="9.8"/><circle cx="972.8" cy="742.0" r="9.8"/><circle cx="1137.6" cy="804.5" r="9.8"/><circle cx="962.7" cy="523.1" r="9.8"/><circle cx="1217.4" cy="490.9" r="9.8"/><circle cx="1412.7" cy="487.8" r="9.8"/><circle cx="909.9" cy="711.9" r="9.8"/><circle cx="965.7" cy="809.9" r="9.8"/><circle cx="1118.0" cy="830.2" r="9.8"/><circle cx="1163.9" cy="509.5" r="9.8"/><circle cx="1463.9" cy="785.3" r="9.8"/><circle cx="952.1" cy="700.9" r="9.8"/><circle cx="886.0" cy="762.9" r="9.8"/><circle cx="1074.5" cy="509.6" r="9.8"/><circle cx="912.2" cy="771.5" r="9.8"/><circle cx="1338.2" cy="788.3" r="9.8"/><circle cx="1521.3" cy="530.3" r="9.8"/><circle cx="1092.0" cy="843.5" r="9.8"/><circle cx="1535.0" cy="634.4" r="9.8"/><circle cx="931.1" cy="843.7" r="9.8"/><circle cx="1272.0" cy="447.9" r="9.8"/><circle cx="1427.1" cy="543.3" r="9.8"/><circle cx="847.0" cy="662.6" r="9.8"/><circle cx="1517.3" cy="568.4" r="9.8"/><circle cx="1527.1" cy="597.9" r="9.8"/><circle cx="1590.3" cy="684.5" r="9.8"/><circle cx="1159.0" cy="844.7" r="9.8"/><circle cx="1477.9" cy="546.7" r="9.8"/><circle cx="1302.7" cy="508.5" r="9.8"/><circle cx="1451.5" cy="692.3" r="9.8"/><circle cx="1364.1" cy="834.6" r="9.8"/><circle cx="1049.5" cy="451.6" r="9.8"/><circle cx="1453.1" cy="715.9" r="9.8"/><circle cx="1002.2" cy="728.9" r="9.8"/><circle cx="1019.4" cy="847.7" r="9.8"/><circle cx="1231.2" cy="500.7" r="9.8"/><circle cx="928.4" cy="670.4" r="9.8"/><circle cx="1148.8" cy="495.1" r="9.8"/><circle cx="1288.5" cy="460.7" r="9.8"/><circle cx="1582.0" cy="549.1" r="9.8"/><circle cx="881.7" cy="759.7" r="9.8"/><circle cx="1361.6" cy="538.1" r="9.8"/><circle cx="1171.6" cy="792.8" r="9.8"/><circle cx="1343.8" cy="785.9" r="9.8"/><circle cx="1542.7" cy="613.1" r="9.8"/><circle cx="1006.3" cy="518.7" r="9.8"/><circle cx="1408.1" cy="802.8" r="9.8"/><circle cx="1243.4" cy="787.8" r="9.8"/><circle cx="1359.0" cy="507.1" r="9.8"/><circle cx="1457.6" cy="574.0" r="9.8"/><circle cx="937.4" cy="703.3" r="9.8"/><circle cx="1144.9" cy="786.0" r="9.8"/><circle cx="1481.4" cy="629.9" r="9.8"/><circle cx="1223.0" cy="820.3" r="9.8"/><circle cx="1407.0" cy="780.6" r="9.8"/><circle cx="838.2" cy="695.8" r="9.8"/><circle cx="854.9" cy="597.2" r="9.8"/><circle cx="873.6" cy="710.9" r="9.8"/><circle cx="812.8" cy="619.4" r="9.8"/><circle cx="1153.6" cy="470.9" r="9.8"/><circle cx="1370.5" cy="507.8" r="9.8"/><circle cx="859.0" cy="684.0" r="9.8"/><circle cx="1203.1" cy="809.4" r="9.8"/><circle cx="866.7" cy="573.6" r="9.8"/><circle cx="1217.5" cy="810.1" r="9.8"/><circle cx="1449.3" cy="683.8" r="9.8"/><circle cx="1406.7" cy="823.0" r="9.8"/><circle cx="1507.6" cy="763.1" r="9.8"/><circle cx="841.3" cy="508.2" r="9.8"/><circle cx="947.6" cy="793.4" r="9.8"/><circle cx="1101.5" cy="796.4" r="9.8"/><circle cx="952.2" cy="533.5" r="9.8"/><circle cx="1181.9" cy="461.6" r="9.8"/><circle cx="1384.3" cy="520.9" r="9.8"/><circle cx="927.7" cy="535.3" r="9.8"/><circle cx="993.7" cy="794.5" r="9.8"/><circle cx="1134.1" cy="465.0" r="9.8"/><circle cx="1461.0" cy="555.3" r="9.8"/><circle cx="961.7" cy="731.9" r="9.8"/><circle cx="1361.5" cy="814.2" r="9.8"/><circle cx="1169.5" cy="840.6" r="9.8"/><circle cx="1278.2" cy="473.3" r="9.8"/><circle cx="1493.4" cy="729.7" r="9.8"/><circle cx="1240.5" cy="492.3" r="9.8"/><circle cx="1504.9" cy="698.1" r="9.8"/><circle cx="1479.8" cy="608.2" r="9.8"/><circle cx="1180.8" cy="804.4" r="9.8"/><circle cx="886.4" cy="691.7" r="9.8"/><circle cx="1477.0" cy="693.9" r="9.8"/><circle cx="1557.6" cy="600.5" r="9.8"/><circle cx="911.9" cy="743.0" r="9.8"/><circle cx="1250.3" cy="789.1" r="9.8"/><circle cx="893.1" cy="595.9" r="9.8"/><circle cx="921.4" cy="566.6" r="9.8"/><circle cx="1427.6" cy="792.3" r="9.8"/><circle cx="933.9" cy="523.5" r="9.8"/><circle cx="865.3" cy="695.0" r="9.8"/><circle cx="1469.1" cy="690.7" r="9.8"/><circle cx="1220.8" cy="481.2" r="9.8"/><circle cx="975.6" cy="540.8" r="9.8"/><circle cx="1004.9" cy="742.3" r="9.8"/><circle cx="1484.4" cy="588.4" r="9.8"/><circle cx="1379.7" cy="821.1" r="9.8"/><circle cx="829.6" cy="596.9" r="9.8"/><circle cx="957.7" cy="476.5" r="9.8"/><circle cx="1524.6" cy="672.5" r="9.8"/><circle cx="1277.3" cy="493.5" r="9.8"/><circle cx="1238.5" cy="804.1" r="9.8"/><circle cx="1452.1" cy="525.5" r="9.8"/><circle cx="924.3" cy="650.5" r="9.8"/><circle cx="1133.4" cy="797.4" r="9.8"/><circle cx="940.7" cy="671.4" r="9.8"/><circle cx="1305.1" cy="506.2" r="9.8"/><circle cx="1432.8" cy="546.9" r="9.8"/><circle cx="1165.4" cy="841.3" r="9.8"/><circle cx="983.6" cy="754.3" r="9.8"/><circle cx="1506.1" cy="582.6" r="9.8"/><circle cx="806.7" cy="643.4" r="9.8"/><circle cx="986.8" cy="779.0" r="9.8"/><circle cx="1422.2" cy="792.9" r="9.8"/><circle cx="1396.1" cy="799.5" r="9.8"/><circle cx="875.6" cy="662.6" r="9.8"/><circle cx="1056.1" cy="485.9" r="9.8"/><circle cx="844.3" cy="710.7" r="9.8"/><circle cx="1485.1" cy="715.2" r="9.8"/><circle cx="996.9" cy="778.6" r="9.8"/><circle cx="1477.0" cy="753.5" r="9.8"/><circle cx="1091.1" cy="445.8" r="9.8"/><circle cx="798.8" cy="678.2" r="9.8"/><circle cx="1355.0" cy="814.1" r="9.8"/><circle cx="1196.4" cy="848.4" r="9.8"/><circle cx="950.4" cy="703.9" r="9.8"/><circle cx="1255.2" cy="503.8" r="9.8"/><circle cx="1477.5" cy="790.7" r="9.8"/><circle cx="918.2" cy="512.5" r="9.8"/><circle cx="1344.1" cy="543.9" r="9.8"/><circle cx="1292.7" cy="485.3" r="9.8"/><circle cx="890.5" cy="617.2" r="9.8"/><circle cx="1194.0" cy="503.5" r="9.8"/><circle cx="1093.3" cy="793.1" r="9.8"/><circle cx="1443.9" cy="747.9" r="9.8"/><circle cx="860.1" cy="687.4" r="9.8"/><circle cx="1483.5" cy="831.8" r="9.8"/><circle cx="875.5" cy="732.1" r="9.8"/><circle cx="1515.9" cy="635.8" r="9.8"/><circle cx="1522.4" cy="647.7" r="9.8"/><circle cx="1522.1" cy="724.5" r="9.8"/><circle cx="1279.7" cy="513.7" r="9.8"/><circle cx="1211.7" cy="476.0" r="9.8"/><circle cx="1286.6" cy="445.9" r="9.8"/><circle cx="874.7" cy="652.9" r="9.8"/><circle cx="1355.3" cy="781.6" r="9.8"/><circle cx="1009.4" cy="776.3" r="9.8"/><circle cx="1558.0" cy="707.3" r="9.8"/><circle cx="1429.7" cy="812.2" r="9.8"/><circle cx="866.6" cy="604.7" r="9.8"/><circle cx="1038.3" cy="502.1" r="9.8"/><circle cx="1289.1" cy="872.3" r="9.8"/><circle cx="1039.6" cy="457.6" r="9.8"/><circle cx="813.9" cy="539.1" r="9.8"/><circle cx="1471.6" cy="731.8" r="9.8"/><circle cx="1467.0" cy="567.8" r="9.8"/><circle cx="1470.4" cy="580.7" r="9.8"/><circle cx="1487.6" cy="522.3" r="9.8"/><circle cx="863.3" cy="554.1" r="9.8"/><circle cx="1536.3" cy="582.3" r="9.8"/><circle cx="1238.5" cy="483.6" r="9.8"/><circle cx="1164.0" cy="479.8" r="9.8"/><circle cx="1455.4" cy="590.2" r="9.8"/><circle cx="1367.0" cy="518.2" r="9.8"/><circle cx="823.1" cy="545.5" r="9.8"/><circle cx="981.4" cy="546.2" r="9.8"/><circle cx="1131.6" cy="804.3" r="9.8"/><circle cx="919.7" cy="784.1" r="9.8"/><circle cx="964.0" cy="479.2" r="9.8"/><circle cx="1413.8" cy="496.0" r="9.8"/><circle cx="1183.6" cy="464.5" r="9.8"/><circle cx="1089.1" cy="789.2" r="9.8"/><circle cx="1031.2" cy="817.2" r="9.8"/><circle cx="862.7" cy="570.7" r="9.8"/><circle cx="1253.8" cy="491.0" r="9.8"/><circle cx="1518.6" cy="765.3" r="9.8"/><circle cx="1032.0" cy="485.6" r="9.8"/><circle cx="1463.7" cy="586.5" r="9.8"/><circle cx="1347.9" cy="797.2" r="9.8"/><circle cx="1196.7" cy="441.5" r="9.8"/><circle cx="997.5" cy="831.3" r="9.8"/><circle cx="861.9" cy="658.3" r="9.8"/><circle cx="945.9" cy="525.6" r="9.8"/><circle cx="916.5" cy="794.1" r="9.8"/><circle cx="922.5" cy="571.4" r="9.8"/><circle cx="1262.8" cy="795.4" r="9.8"/><circle cx="1504.5" cy="664.2" r="9.8"/><circle cx="1547.6" cy="627.1" r="9.8"/><circle cx="976.2" cy="771.1" r="9.8"/><circle cx="1511.7" cy="590.3" r="9.8"/><circle cx="1514.0" cy="649.9" r="9.8"/><circle cx="1008.6" cy="767.9" r="9.8"/><circle cx="1459.5" cy="548.7" r="9.8"/><circle cx="1366.5" cy="785.6" r="9.8"/><circle cx="1414.7" cy="837.2" r="9.8"/><circle cx="1511.7" cy="578.7" r="9.8"/><circle cx="1504.6" cy="768.8" r="9.8"/><circle cx="1317.7" cy="798.7" r="9.8"/><circle cx="1480.4" cy="737.7" r="9.8"/><circle cx="1472.6" cy="641.1" r="9.8"/><circle cx="1218.3" cy="486.1" r="9.8"/><circle cx="883.9" cy="553.6" r="9.8"/><circle cx="1410.6" cy="503.4" r="9.8"/><circle cx="1314.1" cy="830.6" r="9.8"/><circle cx="966.5" cy="528.9" r="9.8"/><circle cx="1320.9" cy="525.5" r="9.8"/><circle cx="1259.2" cy="841.9" r="9.8"/><circle cx="1511.9" cy="615.8" r="9.8"/><circle cx="1293.5" cy="475.7" r="9.8"/><circle cx="1503.0" cy="569.8" r="9.8"/><circle cx="1557.8" cy="544.2" r="9.8"/><circle cx="849.2" cy="625.6" r="9.8"/><circle cx="1445.9" cy="644.6" r="9.8"/><circle cx="855.5" cy="578.1" r="9.8"/><circle cx="924.9" cy="667.9" r="9.8"/><circle cx="1268.6" cy="779.4" r="9.8"/><circle cx="1502.2" cy="592.0" r="9.8"/><circle cx="1450.7" cy="549.7" r="9.8"/><circle cx="1047.9" cy="499.0" r="9.8"/><circle cx="1153.5" cy="819.9" r="9.8"/><circle cx="917.1" cy="625.7" r="9.8"/><circle cx="1029.9" cy="789.3" r="9.8"/><circle cx="1380.3" cy="492.7" r="9.8"/><circle cx="1301.5" cy="452.6" r="9.8"/><circle cx="970.0" cy="792.1" r="9.8"/><circle cx="1413.7" cy="544.5" r="9.8"/><circle cx="1211.5" cy="785.1" r="9.8"/><circle cx="1459.3" cy="789.2" r="9.8"/><circle cx="1315.4" cy="527.3" r="9.8"/><circle cx="1498.3" cy="706.8" r="9.8"/><circle cx="1582.2" cy="551.7" r="9.8"/><circle cx="1293.1" cy="805.8" r="9.8"/><circle cx="1188.3" cy="493.4" r="9.8"/><circle cx="1171.8" cy="423.3" r="9.8"/><circle cx="919.8" cy="560.8" r="9.8"/><circle cx="901.7" cy="609.6" r="9.8"/><circle cx="924.2" cy="495.7" r="9.8"/><circle cx="1297.1" cy="813.2" r="9.8"/><circle cx="1023.0" cy="464.1" r="9.8"/><circle cx="883.2" cy="733.2" r="9.8"/><circle cx="1431.4" cy="510.9" r="9.8"/><circle cx="818.5" cy="595.4" r="9.8"/><circle cx="1415.4" cy="792.4" r="9.8"/><circle cx="1367.6" cy="808.7" r="9.8"/><circle cx="1373.3" cy="808.6" r="9.8"/><circle cx="1249.9" cy="825.7" r="9.8"/><circle cx="1266.6" cy="812.7" r="9.8"/><circle cx="1432.8" cy="818.7" r="9.8"/><circle cx="1468.3" cy="757.4" r="9.8"/><circle cx="1572.2" cy="627.3" r="9.8"/><circle cx="1404.2" cy="548.9" r="9.8"/><circle cx="1030.5" cy="823.3" r="9.8"/><circle cx="935.0" cy="577.0" r="9.8"/><circle cx="1318.8" cy="444.0" r="9.8"/><circle cx="984.4" cy="747.3" r="9.8"/><circle cx="1397.5" cy="843.8" r="9.8"/><circle cx="1332.7" cy="467.8" r="9.8"/><circle cx="1469.4" cy="716.5" r="9.8"/><circle cx="1235.6" cy="493.5" r="9.8"/><circle cx="1561.3" cy="595.8" r="9.8"/><circle cx="905.5" cy="535.7" r="9.8"/><circle cx="1515.9" cy="575.3" r="9.8"/><circle cx="1534.7" cy="672.8" r="9.8"/><circle cx="920.2" cy="495.7" r="9.8"/><circle cx="1462.4" cy="830.9" r="9.8"/><circle cx="1185.3" cy="832.6" r="9.8"/><circle cx="1226.2" cy="841.0" r="9.8"/><circle cx="1515.7" cy="598.0" r="9.8"/><circle cx="1011.7" cy="809.0" r="9.8"/><circle cx="1419.3" cy="498.3" r="9.8"/><circle cx="932.1" cy="492.0" r="9.8"/><circle cx="1497.0" cy="555.1" r="9.8"/><circle cx="1327.1" cy="514.1" r="9.8"/><circle cx="823.8" cy="553.7" r="9.8"/><circle cx="1565.5" cy="647.5" r="9.8"/><circle cx="1517.4" cy="705.0" r="9.8"/><circle cx="1317.9" cy="532.4" r="9.8"/><circle cx="1126.9" cy="463.9" r="9.8"/><circle cx="1240.4" cy="482.2" r="9.8"/><circle cx="1424.4" cy="829.7" r="9.8"/><circle cx="923.0" cy="690.8" r="9.8"/><circle cx="1036.3" cy="831.8" r="9.8"/><circle cx="1176.3" cy="495.3" r="9.8"/><circle cx="1483.0" cy="767.5" r="9.8"/><circle cx="1563.2" cy="692.7" r="9.8"/><circle cx="1253.9" cy="487.9" r="9.8"/><circle cx="1457.4" cy="576.8" r="9.8"/><circle cx="961.1" cy="707.0" r="9.8"/><circle cx="1088.5" cy="508.4" r="9.8"/><circle cx="946.0" cy="556.7" r="9.8"/><circle cx="864.2" cy="543.9" r="9.8"/><circle cx="853.9" cy="690.6" r="9.8"/><circle cx="1516.3" cy="565.5" r="9.8"/><circle cx="1077.3" cy="496.9" r="9.8"/><circle cx="1297.3" cy="454.2" r="9.8"/><circle cx="1485.1" cy="614.9" r="9.8"/><circle cx="1495.5" cy="621.2" r="9.8"/><circle cx="1425.2" cy="559.6" r="9.8"/><circle cx="1279.0" cy="485.5" r="9.8"/><circle cx="992.2" cy="510.0" r="9.8"/><circle cx="1200.2" cy="804.2" r="9.8"/><circle cx="953.8" cy="780.1" r="9.8"/><circle cx="1381.8" cy="551.5" r="9.8"/><circle cx="1030.8" cy="811.3" r="9.8"/><circle cx="873.3" cy="504.3" r="9.8"/><circle cx="1036.7" cy="484.0" r="9.8"/><circle cx="796.1" cy="595.6" r="9.8"/><circle cx="1363.9" cy="544.2" r="9.8"/><circle cx="958.6" cy="744.9" r="9.8"/><circle cx="1460.5" cy="565.0" r="9.8"/><circle cx="1048.1" cy="843.2" r="9.8"/><circle cx="978.6" cy="535.3" r="9.8"/><circle cx="914.1" cy="498.9" r="9.8"/><circle cx="1224.6" cy="424.4" r="9.8"/><circle cx="1249.2" cy="474.7" r="9.8"/><circle cx="1481.9" cy="828.3" r="9.8"/><circle cx="1180.0" cy="806.0" r="9.8"/><circle cx="1460.8" cy="731.4" r="9.8"/><circle cx="1448.0" cy="812.1" r="9.8"/><circle cx="918.9" cy="774.6" r="9.8"/><circle cx="879.6" cy="748.7" r="9.8"/><circle cx="1424.5" cy="561.5" r="9.8"/><circle cx="887.6" cy="619.8" r="9.8"/><circle cx="808.2" cy="609.0" r="9.8"/><circle cx="1466.1" cy="552.2" r="9.8"/><circle cx="1363.6" cy="528.7" r="9.8"/><circle cx="1091.2" cy="488.0" r="9.8"/><circle cx="1181.7" cy="790.6" r="9.8"/><circle cx="1398.4" cy="816.8" r="9.8"/><circle cx="1542.1" cy="751.8" r="9.8"/><circle cx="962.2" cy="531.3" r="9.8"/><circle cx="1473.5" cy="587.7" r="9.8"/><circle cx="902.0" cy="552.9" r="9.8"/><circle cx="1571.9" cy="782.0" r="9.8"/><circle cx="818.7" cy="539.3" r="9.8"/><circle cx="1090.0" cy="846.1" r="9.8"/><circle cx="972.7" cy="533.7" r="9.8"/><circle cx="1078.1" cy="836.1" r="9.8"/><circle cx="1539.1" cy="514.0" r="9.8"/><circle cx="1103.9" cy="479.7" r="9.8"/><circle cx="1502.0" cy="630.1" r="9.8"/><circle cx="877.8" cy="595.8" r="9.8"/><circle cx="1457.4" cy="533.6" r="9.8"/><circle cx="1582.5" cy="578.6" r="9.8"/><circle cx="912.3" cy="540.2" r="9.8"/><circle cx="1166.5" cy="419.4" r="9.8"/><circle cx="833.3" cy="665.1" r="9.8"/><circle cx="1049.0" cy="795.0" r="9.8"/><circle cx="1175.6" cy="470.3" r="9.8"/><circle cx="878.1" cy="649.3" r="9.8"/><circle cx="1468.4" cy="726.7" r="9.8"/><circle cx="845.0" cy="563.6" r="9.8"/><circle cx="911.3" cy="593.8" r="9.8"/><circle cx="971.0" cy="765.1" r="9.8"/><circle cx="1216.4" cy="802.8" r="9.8"/><circle cx="1200.5" cy="475.6" r="9.8"/><circle cx="902.8" cy="506.2" r="9.8"/><circle cx="1280.7" cy="859.4" r="9.8"/><circle cx="1183.3" cy="485.7" r="9.8"/><circle cx="788.2" cy="653.9" r="9.8"/><circle cx="910.8" cy="614.0" r="9.8"/><circle cx="1010.4" cy="469.1" r="9.8"/><circle cx="1408.8" cy="819.7" r="9.8"/><circle cx="886.0" cy="581.4" r="9.8"/><circle cx="1509.1" cy="622.5" r="9.8"/><circle cx="1050.7" cy="445.4" r="9.8"/><circle cx="894.3" cy="599.6" r="9.8"/><circle cx="1466.3" cy="701.5" r="9.8"/><circle cx="1056.4" cy="794.1" r="9.8"/><circle cx="1513.1" cy="538.1" r="9.8"/><circle cx="1432.5" cy="552.0" r="9.8"/><circle cx="1516.0" cy="718.7" r="9.8"/><circle cx="942.4" cy="702.4" r="9.8"/><circle cx="1357.6" cy="475.2" r="9.8"/><circle cx="1408.6" cy="523.6" r="9.8"/><circle cx="1299.8" cy="501.3" r="9.8"/><circle cx="828.3" cy="740.4" r="9.8"/><circle cx="1124.0" cy="792.1" r="9.8"/><circle cx="1559.7" cy="751.1" r="9.8"/><circle cx="1303.9" cy="791.0" r="9.8"/><circle cx="791.0" cy="678.4" r="9.8"/><circle cx="1258.0" cy="490.2" r="9.8"/><circle cx="869.6" cy="625.4" r="9.8"/><circle cx="1468.6" cy="627.4" r="9.8"/><circle cx="911.0" cy="628.5" r="9.8"/><circle cx="1395.1" cy="838.0" r="9.8"/><circle cx="1536.7" cy="543.4" r="9.8"/><circle cx="1237.1" cy="782.5" r="9.8"/><circle cx="954.9" cy="690.5" r="9.8"/><circle cx="949.4" cy="520.7" r="9.8"/><circle cx="886.3" cy="700.3" r="9.8"/><circle cx="1173.2" cy="807.6" r="9.8"/><circle cx="840.6" cy="571.6" r="9.8"/><circle cx="1316.7" cy="504.8" r="9.8"/><circle cx="912.0" cy="748.2" r="9.8"/><circle cx="1519.9" cy="584.0" r="9.8"/><circle cx="985.0" cy="782.2" r="9.8"/><circle cx="938.0" cy="556.2" r="9.8"/><circle cx="833.0" cy="695.3" r="9.8"/><circle cx="899.2" cy="670.8" r="9.8"/><circle cx="1441.5" cy="766.3" r="9.8"/><circle cx="1094.8" cy="466.6" r="9.8"/><circle cx="855.6" cy="586.0" r="9.8"/><circle cx="1120.9" cy="825.1" r="9.8"/><circle cx="921.3" cy="767.4" r="9.8"/><circle cx="1241.3" cy="487.4" r="9.8"/><circle cx="1135.6" cy="497.3" r="9.8"/><circle cx="1336.8" cy="821.1" r="9.8"/><circle cx="1462.6" cy="765.9" r="9.8"/><circle cx="1008.4" cy="514.7" r="9.8"/><circle cx="1023.5" cy="502.0" r="9.8"/><circle cx="863.4" cy="711.2" r="9.8"/><circle cx="1019.5" cy="809.2" r="9.8"/><circle cx="1568.9" cy="556.1" r="9.8"/><circle cx="1377.0" cy="533.8" r="9.8"/><circle cx="1482.5" cy="812.9" r="9.8"/><circle cx="1092.9" cy="440.3" r="9.8"/><circle cx="1295.0" cy="809.2" r="9.8"/><circle cx="1362.6" cy="513.1" r="9.8"/><circle cx="1370.7" cy="804.4" r="9.8"/><circle cx="1035.4" cy="476.3" r="9.8"/><circle cx="1453.0" cy="782.9" r="9.8"/><circle cx="1007.6" cy="737.8" r="9.8"/><circle cx="1458.0" cy="783.3" r="9.8"/><circle cx="944.5" cy="709.5" r="9.8"/><circle cx="1179.4" cy="434.2" r="9.8"/><circle cx="1243.0" cy="491.9" r="9.8"/><circle cx="916.0" cy="540.1" r="9.8"/><circle cx="1583.4" cy="677.5" r="9.8"/><circle cx="1304.0" cy="871.8" r="9.8"/><circle cx="1051.1" cy="524.9" r="9.8"/><circle cx="1270.1" cy="782.8" r="9.8"/><circle cx="936.8" cy="551.8" r="9.8"/><circle cx="998.1" cy="774.5" r="9.8"/><circle cx="1510.9" cy="778.0" r="9.8"/><circle cx="1250.5" cy="448.5" r="9.8"/><circle cx="1006.2" cy="758.0" r="9.8"/><circle cx="913.6" cy="706.7" r="9.8"/><circle cx="1233.1" cy="446.1" r="9.8"/><circle cx="1188.4" cy="796.3" r="9.8"/><circle cx="829.0" cy="728.2" r="9.8"/><circle cx="903.7" cy="531.3" r="9.8"/><circle cx="1570.3" cy="655.5" r="9.8"/><circle cx="1469.7" cy="650.3" r="9.8"/><circle cx="1181.1" cy="799.8" r="9.8"/><circle cx="1469.7" cy="623.2" r="9.8"/><circle cx="1248.8" cy="823.5" r="9.8"/><circle cx="1545.0" cy="683.2" r="9.8"/><circle cx="940.0" cy="773.4" r="9.8"/><circle cx="905.2" cy="712.6" r="9.8"/><circle cx="1528.2" cy="548.5" r="9.8"/><circle cx="947.5" cy="545.2" r="9.8"/><circle cx="1434.8" cy="771.3" r="9.8"/><circle cx="1000.9" cy="804.3" r="9.8"/><circle cx="865.8" cy="615.0" r="9.8"/><circle cx="896.4" cy="702.7" r="9.8"/><circle cx="869.2" cy="505.5" r="9.8"/><circle cx="1096.7" cy="500.7" r="9.8"/><circle cx="1578.3" cy="651.6" r="9.8"/><circle cx="1478.5" cy="615.4" r="9.8"/><circle cx="897.5" cy="647.7" r="9.8"/><circle cx="1420.0" cy="512.2" r="9.8"/><circle cx="928.9" cy="743.4" r="9.8"/><circle cx="935.8" cy="471.0" r="9.8"/><circle cx="1350.0" cy="505.8" r="9.8"/><circle cx="1376.2" cy="514.5" r="9.8"/><circle cx="1234.7" cy="785.9" r="9.8"/><circle cx="1360.0" cy="539.9" r="9.8"/><circle cx="1282.1" cy="447.3" r="9.8"/><circle cx="1170.0" cy="411.9" r="9.8"/><circle cx="1242.4" cy="419.4" r="9.8"/><circle cx="988.9" cy="763.9" r="9.8"/><circle cx="1467.6" cy="707.5" r="9.8"/><circle cx="1454.4" cy="580.8" r="9.8"/><circle cx="1322.0" cy="800.8" r="9.8"/><circle cx="930.2" cy="754.7" r="9.8"/><circle cx="963.9" cy="507.1" r="9.8"/><circle cx="1308.6" cy="807.6" r="9.8"/><circle cx="930.9" cy="745.5" r="9.8"/><circle cx="787.4" cy="599.4" r="9.8"/><circle cx="1083.5" cy="813.6" r="9.8"/><circle cx="1322.5" cy="784.0" r="9.8"/><circle cx="1119.6" cy="789.5" r="9.8"/><circle cx="848.5" cy="620.0" r="9.8"/><circle cx="1240.3" cy="788.7" r="9.8"/><circle cx="1417.6" cy="789.9" r="9.8"/><circle cx="1476.8" cy="491.6" r="9.8"/><circle cx="1462.2" cy="709.0" r="9.8"/><circle cx="1434.7" cy="791.0" r="9.8"/><circle cx="1548.4" cy="585.5" r="9.8"/><circle cx="1228.1" cy="800.0" r="9.8"/><circle cx="1559.7" cy="619.3" r="9.8"/><circle cx="1281.4" cy="472.3" r="9.8"/><circle cx="1234.2" cy="818.5" r="9.8"/><circle cx="949.9" cy="743.8" r="9.8"/><circle cx="962.1" cy="813.7" r="9.8"/><circle cx="916.3" cy="714.1" r="9.8"/><circle cx="1067.5" cy="793.2" r="9.8"/><circle cx="856.1" cy="594.9" r="9.8"/><circle cx="1234.6" cy="851.7" r="9.8"/><circle cx="1011.7" cy="775.0" r="9.8"/><circle cx="1007.0" cy="472.3" r="9.8"/><circle cx="1465.4" cy="697.7" r="9.8"/><circle cx="1544.7" cy="577.4" r="9.8"/><circle cx="1342.5" cy="538.1" r="9.8"/><circle cx="1477.7" cy="767.4" r="9.8"/><circle cx="995.8" cy="783.0" r="9.8"/><circle cx="1399.1" cy="772.4" r="9.8"/><circle cx="1503.2" cy="530.7" r="9.8"/><circle cx="1515.4" cy="768.5" r="9.8"/><circle cx="928.5" cy="654.5" r="9.8"/><circle cx="991.8" cy="804.8" r="9.8"/><circle cx="1517.5" cy="733.6" r="9.8"/><circle cx="1320.9" cy="542.2" r="9.8"/><circle cx="1209.0" cy="820.9" r="9.8"/><circle cx="1212.7" cy="850.3" r="9.8"/><circle cx="1325.9" cy="474.7" r="9.8"/><circle cx="1394.3" cy="483.6" r="9.8"/><circle cx="1107.4" cy="500.7" r="9.8"/><circle cx="1353.8" cy="783.8" r="9.8"/><circle cx="1211.7" cy="419.8" r="9.8"/><circle cx="922.1" cy="591.9" r="9.8"/><circle cx="1508.1" cy="680.4" r="9.8"/><circle cx="1208.0" cy="497.9" r="9.8"/><circle cx="1513.3" cy="622.3" r="9.8"/><circle cx="1340.8" cy="837.6" r="9.8"/><circle cx="1086.0" cy="469.8" r="9.8"/><circle cx="941.0" cy="571.9" r="9.8"/><circle cx="844.4" cy="650.8" r="9.8"/><circle cx="1030.8" cy="526.7" r="9.8"/><circle cx="1134.3" cy="481.5" r="9.8"/><circle cx="1189.5" cy="463.2" r="9.8"/><circle cx="1524.2" cy="631.8" r="9.8"/><circle cx="1483.3" cy="730.9" r="9.8"/><circle cx="1038.2" cy="506.0" r="9.8"/><circle cx="1375.3" cy="816.3" r="9.8"/><circle cx="1506.3" cy="751.4" r="9.8"/><circle cx="1543.5" cy="649.0" r="9.8"/><circle cx="1151.9" cy="458.1" r="9.8"/><circle cx="1239.4" cy="470.1" r="9.8"/><circle cx="1014.3" cy="487.4" r="9.8"/><circle cx="1527.8" cy="567.9" r="9.8"/><circle cx="1310.7" cy="533.6" r="9.8"/><circle cx="1015.0" cy="511.6" r="9.8"/><circle cx="872.4" cy="521.0" r="9.8"/><circle cx="1077.5" cy="786.9" r="9.8"/><circle cx="1511.1" cy="597.4" r="9.8"/><circle cx="1102.9" cy="791.3" r="9.8"/><circle cx="1386.7" cy="514.9" r="9.8"/><circle cx="962.1" cy="713.3" r="9.8"/><circle cx="1297.6" cy="803.3" r="9.8"/><circle cx="1320.0" cy="505.9" r="9.8"/><circle cx="1050.5" cy="777.8" r="9.8"/><circle cx="971.6" cy="458.1" r="9.8"/><circle cx="1515.7" cy="571.9" r="9.8"/><circle cx="1186.5" cy="494.7" r="9.8"/><circle cx="934.8" cy="569.4" r="9.8"/><circle cx="985.8" cy="542.7" r="9.8"/><circle cx="1145.5" cy="828.9" r="9.8"/><circle cx="1485.9" cy="673.2" r="9.8"/><circle cx="1555.5" cy="597.9" r="9.8"/><circle cx="1466.7" cy="553.9" r="9.8"/><circle cx="928.4" cy="670.5" r="9.8"/><circle cx="1181.4" cy="483.5" r="9.8"/><circle cx="1467.1" cy="685.2" r="9.8"/><circle cx="1469.5" cy="584.1" r="9.8"/><circle cx="954.1" cy="774.9" r="9.8"/><circle cx="1241.2" cy="823.2" r="9.8"/><circle cx="1472.1" cy="640.2" r="9.8"/><circle cx="1476.3" cy="582.6" r="9.8"/><circle cx="941.9" cy="540.5" r="9.8"/><circle cx="1233.8" cy="497.8" r="9.8"/><circle cx="1501.1" cy="663.8" r="9.8"/><circle cx="1580.9" cy="610.4" r="9.8"/><circle cx="1477.2" cy="633.0" r="9.8"/><circle cx="987.9" cy="529.7" r="9.8"/><circle cx="1446.0" cy="677.3" r="9.8"/><circle cx="953.4" cy="715.4" r="9.8"/><circle cx="1399.1" cy="513.0" r="9.8"/><circle cx="1464.8" cy="514.1" r="9.8"/><circle cx="1293.6" cy="508.6" r="9.8"/><circle cx="791.3" cy="637.5" r="9.8"/><circle cx="967.2" cy="705.4" r="9.8"/><circle cx="1520.4" cy="506.3" r="9.8"/><circle cx="1176.2" cy="419.6" r="9.8"/><circle cx="1275.7" cy="444.2" r="9.8"/><circle cx="907.5" cy="679.4" r="9.8"/><circle cx="1491.7" cy="676.3" r="9.8"/><circle cx="1077.4" cy="516.9" r="9.8"/><circle cx="1485.4" cy="756.6" r="9.8"/><circle cx="1528.4" cy="576.9" r="9.8"/><circle cx="1537.8" cy="588.5" r="9.8"/><circle cx="1518.7" cy="700.3" r="9.8"/><circle cx="1450.9" cy="510.6" r="9.8"/><circle cx="1385.8" cy="544.7" r="9.8"/><circle cx="980.2" cy="806.3" r="9.8"/><circle cx="856.1" cy="679.6" r="9.8"/><circle cx="1508.6" cy="565.5" r="9.8"/><circle cx="1295.3" cy="784.7" r="9.8"/><circle cx="1365.9" cy="788.8" r="9.8"/><circle cx="1351.8" cy="814.4" r="9.8"/><circle cx="1316.0" cy="526.9" r="9.8"/><circle cx="1042.1" cy="473.1" r="9.8"/><circle cx="1552.8" cy="652.9" r="9.8"/><circle cx="1136.8" cy="836.5" r="9.8"/><circle cx="1154.5" cy="847.0" r="9.8"/><circle cx="1003.0" cy="770.8" r="9.8"/><circle cx="894.1" cy="652.6" r="9.8"/><circle cx="807.9" cy="600.0" r="9.8"/><circle cx="1028.0" cy="513.4" r="9.8"/><circle cx="986.0" cy="837.7" r="9.8"/><circle cx="1515.5" cy="621.3" r="9.8"/><circle cx="1131.6" cy="829.9" r="9.8"/><circle cx="1158.3" cy="791.1" r="9.8"/><circle cx="1291.7" cy="451.6" r="9.8"/><circle cx="1133.0" cy="504.6" r="9.8"/><circle cx="1339.1" cy="490.8" r="9.8"/><circle cx="1090.8" cy="820.7" r="9.8"/><circle cx="1041.0" cy="810.0" r="9.8"/><circle cx="1292.1" cy="456.7" r="9.8"/><circle cx="867.2" cy="792.0" r="9.8"/><circle cx="781.0" cy="632.4" r="9.8"/><circle cx="1476.9" cy="610.3" r="9.8"/><circle cx="909.2" cy="595.4" r="9.8"/><circle cx="870.0" cy="732.4" r="9.8"/><circle cx="917.2" cy="643.9" r="9.8"/><circle cx="1166.0" cy="817.5" r="9.8"/><circle cx="1208.7" cy="822.7" r="9.8"/><circle cx="1497.8" cy="798.7" r="9.8"/><circle cx="968.3" cy="768.6" r="9.8"/><circle cx="1202.4" cy="811.2" r="9.8"/><circle cx="983.1" cy="779.8" r="9.8"/><circle cx="1463.0" cy="727.7" r="9.8"/><circle cx="1203.6" cy="792.6" r="9.8"/><circle cx="1134.2" cy="806.7" r="9.8"/><circle cx="1137.2" cy="504.1" r="9.8"/><circle cx="1272.2" cy="816.1" r="9.8"/><circle cx="1465.3" cy="763.8" r="9.8"/><circle cx="1505.0" cy="616.1" r="9.8"/><circle cx="887.9" cy="611.1" r="9.8"/><circle cx="1192.0" cy="792.1" r="9.8"/><circle cx="999.6" cy="499.3" r="9.8"/><circle cx="1322.0" cy="484.9" r="9.8"/><circle cx="1465.1" cy="704.5" r="9.8"/><circle cx="954.8" cy="788.9" r="9.8"/><circle cx="1089.0" cy="509.8" r="9.8"/><circle cx="1324.1" cy="531.2" r="9.8"/><circle cx="1292.1" cy="830.4" r="9.8"/><circle cx="1486.8" cy="722.8" r="9.8"/><circle cx="860.4" cy="725.8" r="9.8"/><circle cx="1215.9" cy="453.7" r="9.8"/><circle cx="1450.1" cy="643.6" r="9.8"/><circle cx="1302.9" cy="533.5" r="9.8"/><circle cx="1583.0" cy="556.1" r="9.8"/><circle cx="1023.3" cy="799.8" r="9.8"/><circle cx="1482.0" cy="780.0" r="9.8"/><circle cx="1051.1" cy="504.2" r="9.8"/><circle cx="1164.4" cy="831.1" r="9.8"/><circle cx="1042.0" cy="498.7" r="9.8"/><circle cx="1099.4" cy="492.8" r="9.8"/><circle cx="776.6" cy="607.7" r="9.8"/><circle cx="985.2" cy="532.1" r="9.8"/><circle cx="1287.2" cy="858.9" r="9.8"/><circle cx="1020.5" cy="511.8" r="9.8"/><circle cx="1449.0" cy="539.5" r="9.8"/><circle cx="1374.9" cy="478.5" r="9.8"/><circle cx="928.4" cy="737.7" r="9.8"/><circle cx="943.8" cy="534.8" r="9.8"/><circle cx="962.0" cy="817.0" r="9.8"/><circle cx="1158.1" cy="499.6" r="9.8"/><circle cx="867.7" cy="518.9" r="9.8"/><circle cx="1246.1" cy="472.1" r="9.8"/><circle cx="995.7" cy="768.5" r="9.8"/><circle cx="1463.0" cy="563.1" r="9.8"/><circle cx="1333.9" cy="786.6" r="9.8"/><circle cx="1202.1" cy="818.4" r="9.8"/><circle cx="1490.5" cy="682.2" r="9.8"/><circle cx="1500.2" cy="699.9" r="9.8"/><circle cx="1267.5" cy="784.3" r="9.8"/><circle cx="1024.2" cy="772.1" r="9.8"/><circle cx="1173.9" cy="410.9" r="9.8"/><circle cx="1178.5" cy="807.3" r="9.8"/><circle cx="985.8" cy="792.9" r="9.8"/><circle cx="1009.1" cy="477.8" r="9.8"/><circle cx="1423.1" cy="503.2" r="9.8"/><circle cx="885.4" cy="586.2" r="9.8"/><circle cx="1475.9" cy="495.5" r="9.8"/><circle cx="1265.4" cy="516.7" r="9.8"/><circle cx="1217.6" cy="464.6" r="9.8"/><circle cx="1075.9" cy="495.2" r="9.8"/><circle cx="1296.0" cy="811.7" r="9.8"/><circle cx="1030.8" cy="776.2" r="9.8"/><circle cx="1471.1" cy="553.2" r="9.8"/><circle cx="1475.8" cy="526.7" r="9.8"/><circle cx="1058.5" cy="506.6" r="9.8"/><circle cx="1195.8" cy="450.5" r="9.8"/><circle cx="1455.7" cy="798.8" r="9.8"/><circle cx="1180.6" cy="799.1" r="9.8"/><circle cx="1240.0" cy="779.4" r="9.8"/><circle cx="1365.4" cy="467.3" r="9.8"/><circle cx="1443.5" cy="558.0" r="9.8"/><circle cx="1392.3" cy="792.6" r="9.8"/><circle cx="871.3" cy="615.8" r="9.8"/><circle cx="811.2" cy="539.3" r="9.8"/><circle cx="1187.0" cy="806.4" r="9.8"/><circle cx="935.6" cy="765.6" r="9.8"/><circle cx="1291.2" cy="455.7" r="9.8"/><circle cx="1364.7" cy="797.5" r="9.8"/><circle cx="1392.0" cy="819.0" r="9.8"/><circle cx="958.4" cy="534.4" r="9.8"/><circle cx="826.7" cy="667.2" r="9.8"/><circle cx="909.4" cy="628.1" r="9.8"/><circle cx="1335.5" cy="500.3" r="9.8"/><circle cx="1147.6" cy="499.7" r="9.8"/><circle cx="1497.8" cy="754.1" r="9.8"/><circle cx="1224.1" cy="454.7" r="9.8"/><circle cx="1460.6" cy="692.0" r="9.8"/><circle cx="986.4" cy="539.7" r="9.8"/><circle cx="1063.0" cy="454.0" r="9.8"/><circle cx="1469.8" cy="507.8" r="9.8"/><circle cx="1047.8" cy="803.2" r="9.8"/><circle cx="1330.4" cy="531.4" r="9.8"/><circle cx="1007.8" cy="511.9" r="9.8"/><circle cx="823.9" cy="686.1" r="9.8"/><circle cx="1045.1" cy="775.7" r="9.8"/><circle cx="934.0" cy="831.8" r="9.8"/><circle cx="1545.4" cy="805.6" r="9.8"/><circle cx="1573.8" cy="546.1" r="9.8"/><circle cx="1466.4" cy="489.3" r="9.8"/><circle cx="1315.2" cy="798.5" r="9.8"/><circle cx="1377.8" cy="804.8" r="9.8"/><circle cx="955.8" cy="545.7" r="9.8"/><circle cx="1343.1" cy="488.9" r="9.8"/><circle cx="1022.2" cy="781.2" r="9.8"/><circle cx="1485.5" cy="668.1" r="9.8"/><circle cx="1152.5" cy="831.5" r="9.8"/><circle cx="1348.2" cy="518.3" r="9.8"/><circle cx="1518.4" cy="506.8" r="9.8"/><circle cx="1187.3" cy="803.7" r="9.8"/><circle cx="835.0" cy="696.8" r="9.8"/><circle cx="1374.1" cy="457.3" r="9.8"/><circle cx="1592.7" cy="603.7" r="9.8"/><circle cx="1202.4" cy="839.3" r="9.8"/><circle cx="1344.1" cy="822.1" r="9.8"/><circle cx="945.4" cy="733.1" r="9.8"/><circle cx="1096.7" cy="482.4" r="9.8"/><circle cx="1158.5" cy="500.2" r="9.8"/><circle cx="1541.6" cy="811.1" r="9.8"/><circle cx="928.8" cy="724.5" r="9.8"/><circle cx="931.1" cy="493.4" r="9.8"/><circle cx="1159.8" cy="499.4" r="9.8"/><circle cx="1301.1" cy="848.6" r="9.8"/><circle cx="982.6" cy="715.7" r="9.8"/><circle cx="1453.3" cy="806.8" r="9.8"/><circle cx="1235.7" cy="456.0" r="9.8"/><circle cx="1312.8" cy="541.8" r="9.8"/><circle cx="1364.9" cy="443.6" r="9.8"/><circle cx="909.4" cy="601.5" r="9.8"/><circle cx="883.1" cy="560.4" r="9.8"/><circle cx="1570.8" cy="693.8" r="9.8"/><circle cx="862.4" cy="616.2" r="9.8"/><circle cx="1508.8" cy="574.2" r="9.8"/><circle cx="952.0" cy="507.4" r="9.8"/><circle cx="1330.9" cy="507.0" r="9.8"/><circle cx="1289.6" cy="503.5" r="9.8"/><circle cx="1468.0" cy="804.2" r="9.8"/><circle cx="1185.2" cy="444.5" r="9.8"/><circle cx="1495.4" cy="628.2" r="9.8"/><circle cx="1498.2" cy="568.4" r="9.8"/><circle cx="1417.9" cy="824.5" r="9.8"/><circle cx="1193.6" cy="431.2" r="9.8"/><circle cx="1190.0" cy="460.5" r="9.8"/><circle cx="1059.5" cy="512.4" r="9.8"/><circle cx="984.5" cy="809.6" r="9.8"/><circle cx="863.3" cy="613.5" r="9.8"/><circle cx="1584.3" cy="671.2" r="9.8"/><circle cx="1391.8" cy="776.3" r="9.8"/><circle cx="1196.1" cy="490.9" r="9.8"/><circle cx="1183.3" cy="804.1" r="9.8"/><circle cx="1550.2" cy="682.0" r="9.8"/><circle cx="1334.1" cy="786.2" r="9.8"/><circle cx="987.0" cy="768.9" r="9.8"/><circle cx="1403.6" cy="485.4" r="9.8"/><circle cx="1352.0" cy="813.2" r="9.8"/><circle cx="1108.6" cy="786.3" r="9.8"/><circle cx="884.5" cy="773.0" r="9.8"/><circle cx="1092.3" cy="806.4" r="9.8"/><circle cx="1386.9" cy="519.4" r="9.8"/><circle cx="1372.3" cy="812.0" r="9.8"/><circle cx="1190.3" cy="454.1" r="9.8"/><circle cx="833.5" cy="703.2" r="9.8"/><circle cx="1409.8" cy="826.7" r="9.8"/><circle cx="1560.6" cy="637.0" r="9.8"/><circle cx="1394.6" cy="790.6" r="9.8"/><circle cx="1511.2" cy="589.2" r="9.8"/><circle cx="941.7" cy="527.9" r="9.8"/><circle cx="901.4" cy="672.8" r="9.8"/><circle cx="937.5" cy="673.1" r="9.8"/><circle cx="799.7" cy="562.4" r="9.8"/><circle cx="1250.8" cy="489.1" r="9.8"/><circle cx="961.5" cy="710.5" r="9.8"/><circle cx="892.5" cy="569.5" r="9.8"/><circle cx="1479.7" cy="674.5" r="9.8"/><circle cx="1588.7" cy="708.5" r="9.8"/><circle cx="1148.4" cy="796.2" r="9.8"/><circle cx="1579.0" cy="609.0" r="9.8"/><circle cx="1491.4" cy="703.4" r="9.8"/><circle cx="1083.2" cy="441.7" r="9.8"/><circle cx="1517.6" cy="545.0" r="9.8"/><circle cx="1022.8" cy="519.1" r="9.8"/><circle cx="1292.7" cy="783.3" r="9.8"/><circle cx="1510.6" cy="652.3" r="9.8"/><circle cx="1009.5" cy="813.2" r="9.8"/><circle cx="1425.2" cy="549.4" r="9.8"/><circle cx="1506.3" cy="632.4" r="9.8"/><circle cx="880.9" cy="630.4" r="9.8"/><circle cx="930.2" cy="677.4" r="9.8"/><circle cx="1349.6" cy="809.5" r="9.8"/><circle cx="1391.3" cy="549.1" r="9.8"/><circle cx="1353.3" cy="536.3" r="9.8"/><circle cx="1571.5" cy="641.6" r="9.8"/><circle cx="915.3" cy="787.9" r="9.8"/><circle cx="981.5" cy="777.4" r="9.8"/><circle cx="1464.8" cy="597.6" r="9.8"/><circle cx="1319.8" cy="448.8" r="9.8"/><circle cx="948.4" cy="826.8" r="9.8"/><circle cx="1086.3" cy="781.4" r="9.8"/><circle cx="1089.5" cy="806.1" r="9.8"/><circle cx="1406.3" cy="832.7" r="9.8"/><circle cx="1513.7" cy="768.4" r="9.8"/><circle cx="1189.4" cy="493.3" r="9.8"/><circle cx="961.9" cy="519.7" r="9.8"/><circle cx="1152.2" cy="421.1" r="9.8"/><circle cx="1547.3" cy="735.1" r="9.8"/><circle cx="1188.9" cy="499.5" r="9.8"/><circle cx="807.2" cy="591.2" r="9.8"/><circle cx="1495.4" cy="680.4" r="9.8"/><circle cx="879.1" cy="585.0" r="9.8"/><circle cx="951.9" cy="535.5" r="9.8"/><circle cx="1445.4" cy="769.1" r="9.8"/><circle cx="841.4" cy="659.8" r="9.8"/><circle cx="836.0" cy="739.5" r="9.8"/><circle cx="1493.4" cy="799.6" r="9.8"/><circle cx="1245.9" cy="824.3" r="9.8"/><circle cx="1597.0" cy="596.0" r="9.8"/><circle cx="1243.1" cy="489.7" r="9.8"/><circle cx="1067.5" cy="494.4" r="9.8"/><circle cx="861.4" cy="687.2" r="9.8"/><circle cx="1461.3" cy="622.1" r="9.8"/><circle cx="880.6" cy="543.5" r="9.8"/><circle cx="962.1" cy="500.4" r="9.8"/><circle cx="1557.5" cy="603.5" r="9.8"/><circle cx="1295.6" cy="799.0" r="9.8"/><circle cx="1374.8" cy="771.6" r="9.8"/><circle cx="868.2" cy="587.1" r="9.8"/><circle cx="1506.9" cy="769.1" r="9.8"/><circle cx="1405.8" cy="769.1" r="9.8"/><circle cx="1097.1" cy="826.3" r="9.8"/><circle cx="1340.0" cy="548.8" r="9.8"/><circle cx="1129.4" cy="500.8" r="9.8"/><circle cx="968.0" cy="514.8" r="9.8"/><circle cx="1271.2" cy="825.6" r="9.8"/><circle cx="1085.7" cy="474.8" r="9.8"/><circle cx="1524.2" cy="579.7" r="9.8"/><circle cx="1077.8" cy="456.3" r="9.8"/><circle cx="1392.8" cy="483.9" r="9.8"/><circle cx="1495.4" cy="654.7" r="9.8"/><circle cx="869.5" cy="645.4" r="9.8"/><circle cx="1505.3" cy="504.6" r="9.8"/><circle cx="935.1" cy="664.7" r="9.8"/><circle cx="1068.8" cy="500.3" r="9.8"/><circle cx="995.0" cy="493.2" r="9.8"/><circle cx="1344.7" cy="453.3" r="9.8"/><circle cx="1469.2" cy="765.7" r="9.8"/><circle cx="973.3" cy="708.0" r="9.8"/><circle cx="1457.7" cy="523.9" r="9.8"/><circle cx="1535.4" cy="612.7" r="9.8"/><circle cx="1203.7" cy="464.0" r="9.8"/><circle cx="1233.3" cy="488.5" r="9.8"/><circle cx="949.2" cy="691.8" r="9.8"/><circle cx="1464.0" cy="760.0" r="9.8"/><circle cx="1490.6" cy="800.6" r="9.8"/><circle cx="1483.5" cy="609.2" r="9.8"/><circle cx="939.2" cy="554.0" r="9.8"/><circle cx="915.3" cy="554.8" r="9.8"/><circle cx="1391.9" cy="536.4" r="9.8"/><circle cx="899.7" cy="538.9" r="9.8"/><circle cx="1465.4" cy="776.4" r="9.8"/><circle cx="917.6" cy="713.3" r="9.8"/><circle cx="1252.3" cy="442.7" r="9.8"/><circle cx="1242.5" cy="789.2" r="9.8"/><circle cx="973.7" cy="755.7" r="9.8"/><circle cx="1365.1" cy="476.6" r="9.8"/><circle cx="879.6" cy="543.2" r="9.8"/><circle cx="928.7" cy="755.0" r="9.8"/><circle cx="1017.3" cy="822.4" r="9.8"/><circle cx="1131.0" cy="511.1" r="9.8"/><circle cx="978.5" cy="772.9" r="9.8"/><circle cx="911.6" cy="566.6" r="9.8"/><circle cx="1464.0" cy="766.1" r="9.8"/><circle cx="1247.9" cy="815.7" r="9.8"/><circle cx="848.1" cy="611.5" r="9.8"/><circle cx="1499.1" cy="696.3" r="9.8"/><circle cx="880.9" cy="529.3" r="9.8"/><circle cx="1304.9" cy="815.9" r="9.8"/><circle cx="892.0" cy="728.6" r="9.8"/><circle cx="901.3" cy="764.6" r="9.8"/><circle cx="872.6" cy="511.5" r="9.8"/><circle cx="1079.2" cy="486.7" r="9.8"/><circle cx="1566.3" cy="767.9" r="9.8"/><circle cx="1485.9" cy="808.1" r="9.8"/><circle cx="920.6" cy="498.2" r="9.8"/><circle cx="1029.4" cy="774.4" r="9.8"/><circle cx="951.8" cy="777.5" r="9.8"/><circle cx="1135.0" cy="794.5" r="9.8"/><circle cx="911.7" cy="635.8" r="9.8"/><circle cx="1097.8" cy="811.7" r="9.8"/><circle cx="984.6" cy="778.5" r="9.8"/><circle cx="1389.2" cy="507.0" r="9.8"/><circle cx="892.1" cy="581.0" r="9.8"/><circle cx="1194.7" cy="467.5" r="9.8"/><circle cx="1236.8" cy="445.9" r="9.8"/><circle cx="1072.8" cy="839.6" r="9.8"/><circle cx="945.9" cy="678.0" r="9.8"/><circle cx="1288.1" cy="846.4" r="9.8"/><circle cx="1221.7" cy="782.6" r="9.8"/><circle cx="1433.1" cy="501.3" r="9.8"/><circle cx="967.0" cy="734.2" r="9.8"/><circle cx="1481.4" cy="766.9" r="9.8"/><circle cx="1453.6" cy="754.0" r="9.8"/><circle cx="1334.2" cy="436.6" r="9.8"/><circle cx="1395.9" cy="794.4" r="9.8"/><circle cx="1065.1" cy="808.4" r="9.8"/><circle cx="1585.2" cy="577.1" r="9.8"/><circle cx="955.9" cy="530.2" r="9.8"/><circle cx="1093.4" cy="477.7" r="9.8"/><circle cx="1521.5" cy="755.9" r="9.8"/><circle cx="1495.7" cy="670.6" r="9.8"/><circle cx="1356.3" cy="504.4" r="9.8"/><circle cx="868.4" cy="602.5" r="9.8"/><circle cx="1080.8" cy="783.5" r="9.8"/><circle cx="1342.5" cy="804.6" r="9.8"/><circle cx="1301.0" cy="466.6" r="9.8"/><circle cx="829.8" cy="527.0" r="9.8"/><circle cx="1235.5" cy="500.4" r="9.8"/><circle cx="888.1" cy="747.1" r="9.8"/><circle cx="1255.1" cy="487.5" r="9.8"/><circle cx="1491.8" cy="580.2" r="9.8"/><circle cx="1485.0" cy="749.4" r="9.8"/><circle cx="1189.0" cy="793.4" r="9.8"/><circle cx="804.5" cy="678.7" r="9.8"/><circle cx="1266.3" cy="785.7" r="9.8"/><circle cx="1180.9" cy="796.0" r="9.8"/><circle cx="1502.4" cy="575.9" r="9.8"/><circle cx="1061.0" cy="797.6" r="9.8"/><circle cx="1257.7" cy="469.3" r="9.8"/><circle cx="849.0" cy="517.7" r="9.8"/><circle cx="1434.7" cy="785.2" r="9.8"/><circle cx="1449.8" cy="718.8" r="9.8"/><circle cx="1168.9" cy="811.4" r="9.8"/><circle cx="1559.3" cy="699.4" r="9.8"/><circle cx="794.9" cy="643.5" r="9.8"/><circle cx="861.0" cy="719.3" r="9.8"/><circle cx="1356.0" cy="539.4" r="9.8"/><circle cx="1175.3" cy="826.3" r="9.8"/><circle cx="925.3" cy="586.5" r="9.8"/><circle cx="1074.9" cy="519.1" r="9.8"/><circle cx="1087.7" cy="853.7" r="9.8"/><circle cx="915.7" cy="520.8" r="9.8"/><circle cx="1514.0" cy="652.7" r="9.8"/><circle cx="946.2" cy="817.7" r="9.8"/><circle cx="890.4" cy="590.4" r="9.8"/><circle cx="1157.5" cy="793.5" r="9.8"/><circle cx="936.0" cy="559.1" r="9.8"/><circle cx="1582.6" cy="700.3" r="9.8"/><circle cx="941.1" cy="565.4" r="9.8"/><circle cx="1266.6" cy="796.7" r="9.8"/><circle cx="1197.8" cy="804.9" r="9.8"/><circle cx="1291.4" cy="527.2" r="9.8"/><circle cx="1220.9" cy="475.1" r="9.8"/><circle cx="1263.8" cy="832.2" r="9.8"/><circle cx="889.4" cy="680.8" r="9.8"/><circle cx="916.4" cy="505.0" r="9.8"/><circle cx="912.9" cy="641.6" r="9.8"/><circle cx="831.4" cy="688.0" r="9.8"/><circle cx="1355.2" cy="496.4" r="9.8"/><circle cx="1001.5" cy="824.5" r="9.8"/><circle cx="1523.0" cy="717.0" r="9.8"/><circle cx="1100.9" cy="491.1" r="9.8"/><circle cx="1440.3" cy="566.1" r="9.8"/><circle cx="1386.8" cy="553.2" r="9.8"/><circle cx="941.3" cy="560.2" r="9.8"/><circle cx="1308.7" cy="537.7" r="9.8"/><circle cx="927.3" cy="523.2" r="9.8"/><circle cx="1096.2" cy="488.4" r="9.8"/><circle cx="847.2" cy="694.2" r="9.8"/><circle cx="847.0" cy="611.1" r="9.8"/><circle cx="1458.4" cy="648.7" r="9.8"/><circle cx="1436.2" cy="530.1" r="9.8"/><circle cx="1063.6" cy="811.7" r="9.8"/><circle cx="1406.3" cy="800.5" r="9.8"/><circle cx="1273.2" cy="786.3" r="9.8"/><circle cx="1281.9" cy="520.0" r="9.8"/><circle cx="1101.7" cy="800.4" r="9.8"/><circle cx="910.6" cy="617.9" r="9.8"/><circle cx="881.1" cy="720.8" r="9.8"/><circle cx="1292.6" cy="846.5" r="9.8"/><circle cx="914.1" cy="632.9" r="9.8"/><circle cx="1233.1" cy="823.0" r="9.8"/><circle cx="996.2" cy="781.3" r="9.8"/><circle cx="863.8" cy="659.7" r="9.8"/><circle cx="964.6" cy="734.7" r="9.8"/><circle cx="886.5" cy="648.4" r="9.8"/><circle cx="1251.9" cy="440.9" r="9.8"/><circle cx="1482.3" cy="661.8" r="9.8"/><circle cx="984.2" cy="533.6" r="9.8"/><circle cx="1461.3" cy="608.7" r="9.8"/><circle cx="1514.0" cy="640.2" r="9.8"/><circle cx="1043.0" cy="805.4" r="9.8"/><circle cx="1189.5" cy="801.2" r="9.8"/><circle cx="1479.9" cy="695.9" r="9.8"/><circle cx="1386.0" cy="530.0" r="9.8"/><circle cx="871.0" cy="695.6" r="9.8"/><circle cx="1428.5" cy="504.1" r="9.8"/><circle cx="1273.0" cy="488.2" r="9.8"/><circle cx="1355.8" cy="473.3" r="9.8"/><circle cx="796.7" cy="661.6" r="9.8"/><circle cx="1493.9" cy="766.9" r="9.8"/><circle cx="1434.3" cy="763.4" r="9.8"/><circle cx="1399.3" cy="543.6" r="9.8"/><circle cx="1518.4" cy="728.0" r="9.8"/><circle cx="841.5" cy="606.3" r="9.8"/><circle cx="996.5" cy="732.2" r="9.8"/><circle cx="1468.3" cy="548.7" r="9.8"/><circle cx="1476.6" cy="573.6" r="9.8"/><circle cx="997.5" cy="779.3" r="9.8"/><circle cx="944.6" cy="529.3" r="9.8"/><circle cx="1477.2" cy="568.6" r="9.8"/><circle cx="931.5" cy="497.7" r="9.8"/><circle cx="953.7" cy="703.9" r="9.8"/><circle cx="1563.6" cy="650.5" r="9.8"/><circle cx="1372.0" cy="527.1" r="9.8"/><circle cx="1564.1" cy="643.7" r="9.8"/><circle cx="1496.0" cy="759.9" r="9.8"/><circle cx="1469.7" cy="619.4" r="9.8"/><circle cx="1515.6" cy="685.4" r="9.8"/><circle cx="1517.6" cy="752.0" r="9.8"/><circle cx="820.0" cy="651.9" r="9.8"/><circle cx="1170.4" cy="808.8" r="9.8"/><circle cx="972.4" cy="730.9" r="9.8"/><circle cx="990.2" cy="474.9" r="9.8"/><circle cx="1482.7" cy="757.7" r="9.8"/><circle cx="945.0" cy="518.5" r="9.8"/><circle cx="1481.0" cy="716.6" r="9.8"/><circle cx="1082.0" cy="858.7" r="9.8"/><circle cx="1439.5" cy="767.7" r="9.8"/><circle cx="1592.0" cy="568.8" r="9.8"/><circle cx="1332.8" cy="515.5" r="9.8"/><circle cx="1278.4" cy="513.3" r="9.8"/><circle cx="912.2" cy="547.0" r="9.8"/><circle cx="830.4" cy="605.1" r="9.8"/><circle cx="1479.3" cy="650.3" r="9.8"/><circle cx="958.8" cy="527.6" r="9.8"/><circle cx="1576.9" cy="614.2" r="9.8"/><circle cx="1015.2" cy="780.2" r="9.8"/><circle cx="1502.8" cy="784.6" r="9.8"/><circle cx="1300.8" cy="516.3" r="9.8"/><circle cx="989.4" cy="723.7" r="9.8"/><circle cx="980.1" cy="482.4" r="9.8"/><circle cx="1326.5" cy="529.6" r="9.8"/><circle cx="1306.5" cy="780.8" r="9.8"/><circle cx="1380.2" cy="772.2" r="9.8"/><circle cx="1380.5" cy="773.0" r="9.8"/><circle cx="870.7" cy="646.6" r="9.8"/><circle cx="1401.0" cy="516.1" r="9.8"/><circle cx="985.9" cy="738.2" r="9.8"/><circle cx="1197.9" cy="445.5" r="9.8"/><circle cx="1096.0" cy="511.2" r="9.8"/><circle cx="1275.2" cy="821.6" r="9.8"/><circle cx="1439.3" cy="791.6" r="9.8"/><circle cx="994.9" cy="719.3" r="9.8"/><circle cx="1300.3" cy="805.7" r="9.8"/><circle cx="962.1" cy="511.2" r="9.8"/><circle cx="1554.0" cy="526.5" r="9.8"/><circle cx="960.0" cy="716.2" r="9.8"/><circle cx="1318.6" cy="821.4" r="9.8"/><circle cx="1019.5" cy="484.0" r="9.8"/><circle cx="863.4" cy="728.8" r="9.8"/><circle cx="1416.9" cy="547.2" r="9.8"/><circle cx="1001.7" cy="827.3" r="9.8"/><circle cx="1061.6" cy="503.0" r="9.8"/><circle cx="1055.2" cy="443.3" r="9.8"/><circle cx="1192.8" cy="425.4" r="9.8"/><circle cx="969.8" cy="744.2" r="9.8"/><circle cx="1305.6" cy="532.0" r="9.8"/><circle cx="1116.2" cy="495.3" r="9.8"/><circle cx="1083.2" cy="493.1" r="9.8"/><circle cx="1114.8" cy="441.8" r="9.8"/><circle cx="1337.5" cy="524.6" r="9.8"/><circle cx="912.0" cy="639.8" r="9.8"/><circle cx="1494.9" cy="778.2" r="9.8"/><circle cx="1371.4" cy="523.2" r="9.8"/><circle cx="1461.3" cy="550.0" r="9.8"/><circle cx="1560.2" cy="768.9" r="9.8"/><circle cx="1382.0" cy="776.1" r="9.8"/><circle cx="1301.4" cy="526.9" r="9.8"/><circle cx="899.6" cy="638.8" r="9.8"/><circle cx="1186.8" cy="495.7" r="9.8"/><circle cx="988.5" cy="530.2" r="9.8"/><circle cx="1207.6" cy="857.0" r="9.8"/><circle cx="1471.2" cy="794.9" r="9.8"/><circle cx="1451.2" cy="562.5" r="9.8"/><circle cx="1014.9" cy="493.8" r="9.8"/><circle cx="1445.8" cy="830.8" r="9.8"/><circle cx="1463.3" cy="668.3" r="9.8"/><circle cx="1327.4" cy="448.8" r="9.8"/><circle cx="1241.2" cy="479.0" r="9.8"/><circle cx="1432.8" cy="488.6" r="9.8"/><circle cx="1036.7" cy="521.7" r="9.8"/><circle cx="1472.3" cy="518.9" r="9.8"/><circle cx="1225.5" cy="410.6" r="9.8"/><circle cx="1492.9" cy="587.9" r="9.8"/><circle cx="983.8" cy="783.5" r="9.8"/><circle cx="1230.2" cy="779.4" r="9.8"/><circle cx="1150.3" cy="511.8" r="9.8"/><circle cx="1454.8" cy="810.4" r="9.8"/><circle cx="907.0" cy="556.7" r="9.8"/><circle cx="1199.4" cy="500.7" r="9.8"/><circle cx="1533.2" cy="631.5" r="9.8"/><circle cx="924.2" cy="731.4" r="9.8"/><circle cx="1165.3" cy="455.5" r="9.8"/><circle cx="1262.2" cy="850.5" r="9.8"/><circle cx="1566.8" cy="690.6" r="9.8"/><circle cx="1488.9" cy="763.0" r="9.8"/><circle cx="911.6" cy="689.1" r="9.8"/><circle cx="917.8" cy="528.9" r="9.8"/><circle cx="810.2" cy="659.5" r="9.8"/><circle cx="1545.9" cy="721.4" r="9.8"/><circle cx="826.6" cy="724.9" r="9.8"/><circle cx="1368.2" cy="548.3" r="9.8"/><circle cx="1302.2" cy="837.2" r="9.8"/><circle cx="876.8" cy="634.0" r="9.8"/><circle cx="1053.0" cy="461.6" r="9.8"/><circle cx="1070.3" cy="478.7" r="9.8"/><circle cx="1339.9" cy="812.3" r="9.8"/><circle cx="1327.4" cy="518.9" r="9.8"/><circle cx="1217.6" cy="795.9" r="9.8"/><circle cx="992.1" cy="528.2" r="9.8"/><circle cx="1347.8" cy="485.0" r="9.8"/><circle cx="1059.7" cy="503.3" r="9.8"/><circle cx="821.4" cy="625.7" r="9.8"/><circle cx="943.5" cy="817.6" r="9.8"/><circle cx="1478.4" cy="705.9" r="9.8"/><circle cx="922.3" cy="683.0" r="9.8"/><circle cx="977.4" cy="795.0" r="9.8"/><circle cx="1257.8" cy="828.7" r="9.8"/><circle cx="972.9" cy="780.3" r="9.8"/><circle cx="1353.2" cy="501.8" r="9.8"/><circle cx="1131.2" cy="487.8" r="9.8"/><circle cx="917.7" cy="535.1" r="9.8"/><circle cx="1465.2" cy="814.8" r="9.8"/><circle cx="1477.1" cy="639.2" r="9.8"/><circle cx="1373.5" cy="821.8" r="9.8"/><circle cx="1042.1" cy="808.2" r="9.8"/><circle cx="822.8" cy="560.5" r="9.8"/><circle cx="1183.0" cy="849.9" r="9.8"/><circle cx="910.8" cy="691.6" r="9.8"/><circle cx="1473.2" cy="756.5" r="9.8"/><circle cx="1292.6" cy="799.3" r="9.8"/><circle cx="1413.0" cy="805.5" r="9.8"/><circle cx="1316.5" cy="801.3" r="9.8"/><circle cx="1441.9" cy="757.1" r="9.8"/><circle cx="780.2" cy="604.4" r="9.8"/><circle cx="1001.8" cy="522.8" r="9.8"/><circle cx="1512.0" cy="637.8" r="9.8"/><circle cx="1025.1" cy="807.2" r="9.8"/><circle cx="930.8" cy="566.4" r="9.8"/><circle cx="1013.5" cy="480.2" r="9.8"/><circle cx="1504.1" cy="741.4" r="9.8"/><circle cx="1291.3" cy="803.2" r="9.8"/><circle cx="1471.1" cy="573.4" r="9.8"/><circle cx="1156.7" cy="501.2" r="9.8"/><circle cx="1041.1" cy="494.9" r="9.8"/><circle cx="1473.6" cy="655.2" r="9.8"/><circle cx="1052.1" cy="515.8" r="9.8"/><circle cx="1532.9" cy="703.0" r="9.8"/><circle cx="1565.3" cy="689.4" r="9.8"/><circle cx="1469.9" cy="804.5" r="9.8"/><circle cx="926.9" cy="791.4" r="9.8"/><circle cx="1504.8" cy="767.4" r="9.8"/><circle cx="1112.5" cy="458.7" r="9.8"/><circle cx="1443.7" cy="651.3" r="9.8"/><circle cx="1342.9" cy="463.1" r="9.8"/><circle cx="876.9" cy="696.1" r="9.8"/><circle cx="1122.5" cy="495.0" r="9.8"/><circle cx="1065.1" cy="519.2" r="9.8"/><circle cx="1422.5" cy="802.9" r="9.8"/><circle cx="1595.4" cy="691.2" r="9.8"/><circle cx="1559.4" cy="705.0" r="9.8"/><circle cx="1158.9" cy="485.7" r="9.8"/><circle cx="1291.3" cy="431.1" r="9.8"/><circle cx="1102.0" cy="483.7" r="9.8"/><circle cx="971.3" cy="533.7" r="9.8"/><circle cx="1142.2" cy="490.3" r="9.8"/><circle cx="1205.0" cy="494.5" r="9.8"/><circle cx="1518.7" cy="590.3" r="9.8"/><circle cx="1352.9" cy="805.4" r="9.8"/><circle cx="875.2" cy="588.3" r="9.8"/><circle cx="1280.2" cy="845.3" r="9.8"/><circle cx="987.6" cy="840.8" r="9.8"/><circle cx="884.9" cy="723.7" r="9.8"/><circle cx="817.8" cy="706.5" r="9.8"/><circle cx="821.3" cy="602.8" r="9.8"/><circle cx="1347.0" cy="549.4" r="9.8"/><circle cx="902.8" cy="715.8" r="9.8"/><circle cx="946.6" cy="492.2" r="9.8"/><circle cx="1417.6" cy="832.0" r="9.8"/><circle cx="889.2" cy="694.7" r="9.8"/><circle cx="1007.7" cy="484.4" r="9.8"/><circle cx="1496.9" cy="590.1" r="9.8"/><circle cx="1224.0" cy="843.2" r="9.8"/><circle cx="923.2" cy="562.1" r="9.8"/><circle cx="830.9" cy="672.0" r="9.8"/><circle cx="1004.9" cy="829.3" r="9.8"/><circle cx="1503.4" cy="576.6" r="9.8"/><circle cx="1119.4" cy="796.4" r="9.8"/><circle cx="1374.0" cy="821.4" r="9.8"/><circle cx="960.0" cy="537.5" r="9.8"/><circle cx="832.1" cy="526.5" r="9.8"/><circle cx="1499.0" cy="767.1" r="9.8"/><circle cx="1547.6" cy="531.7" r="9.8"/><circle cx="1231.2" cy="781.2" r="9.8"/><circle cx="1261.5" cy="800.1" r="9.8"/><circle cx="981.2" cy="776.6" r="9.8"/><circle cx="1445.9" cy="747.2" r="9.8"/><circle cx="1101.9" cy="474.2" r="9.8"/><circle cx="1514.9" cy="619.8" r="9.8"/><circle cx="1474.6" cy="742.4" r="9.8"/><circle cx="1308.0" cy="531.7" r="9.8"/><circle cx="883.9" cy="589.3" r="9.8"/><circle cx="874.8" cy="673.8" r="9.8"/><circle cx="959.2" cy="795.8" r="9.8"/><circle cx="1037.9" cy="448.5" r="9.8"/><circle cx="1139.6" cy="796.8" r="9.8"/><circle cx="1051.5" cy="792.7" r="9.8"/><circle cx="1500.4" cy="711.0" r="9.8"/><circle cx="1483.8" cy="520.1" r="9.8"/><circle cx="836.1" cy="513.0" r="9.8"/><circle cx="940.7" cy="713.0" r="9.8"/><circle cx="956.6" cy="531.7" r="9.8"/><circle cx="941.5" cy="805.0" r="9.8"/><circle cx="1468.4" cy="485.9" r="9.8"/><circle cx="974.1" cy="491.4" r="9.8"/><circle cx="1472.3" cy="632.9" r="9.8"/><circle cx="1239.7" cy="476.4" r="9.8"/><circle cx="1040.0" cy="776.9" r="9.8"/><circle cx="955.6" cy="703.5" r="9.8"/><circle cx="902.5" cy="654.1" r="9.8"/><circle cx="934.8" cy="710.7" r="9.8"/><circle cx="1089.1" cy="795.1" r="9.8"/><circle cx="994.4" cy="470.3" r="9.8"/><circle cx="1222.7" cy="795.4" r="9.8"/><circle cx="1421.7" cy="547.3" r="9.8"/><circle cx="975.0" cy="768.0" r="9.8"/><circle cx="1238.4" cy="444.4" r="9.8"/><circle cx="1047.9" cy="479.6" r="9.8"/><circle cx="883.9" cy="522.2" r="9.8"/><circle cx="1501.5" cy="572.5" r="9.8"/><circle cx="862.1" cy="670.4" r="9.8"/><circle cx="827.0" cy="685.9" r="9.8"/><circle cx="1575.1" cy="654.0" r="9.8"/><circle cx="1288.5" cy="838.7" r="9.8"/><circle cx="1068.5" cy="487.3" r="9.8"/><circle cx="902.6" cy="545.2" r="9.8"/><circle cx="1230.1" cy="414.2" r="9.8"/><circle cx="1302.9" cy="496.1" r="9.8"/><circle cx="1363.2" cy="524.0" r="9.8"/><circle cx="806.9" cy="682.2" r="9.8"/><circle cx="1133.5" cy="508.4" r="9.8"/><circle cx="965.3" cy="837.5" r="9.8"/><circle cx="1535.8" cy="537.4" r="9.8"/><circle cx="1488.5" cy="753.4" r="9.8"/><circle cx="1376.4" cy="831.6" r="9.8"/><circle cx="1184.4" cy="798.6" r="9.8"/><circle cx="1572.3" cy="669.8" r="9.8"/><circle cx="1539.6" cy="691.0" r="9.8"/><circle cx="1469.7" cy="652.7" r="9.8"/><circle cx="1336.1" cy="780.2" r="9.8"/><circle cx="923.3" cy="793.5" r="9.8"/><circle cx="1327.5" cy="822.7" r="9.8"/><circle cx="812.4" cy="538.4" r="9.8"/><circle cx="860.7" cy="602.5" r="9.8"/><circle cx="1237.0" cy="823.3" r="9.8"/><circle cx="1117.2" cy="474.9" r="9.8"/><circle cx="1424.7" cy="479.4" r="9.8"/><circle cx="818.2" cy="647.8" r="9.8"/><circle cx="1506.2" cy="824.1" r="9.8"/><circle cx="1048.0" cy="453.0" r="9.8"/><circle cx="1545.6" cy="624.9" r="9.8"/><circle cx="861.2" cy="749.8" r="9.8"/><circle cx="982.9" cy="522.9" r="9.8"/><circle cx="830.0" cy="616.8" r="9.8"/><circle cx="1543.6" cy="678.1" r="9.8"/><circle cx="1066.8" cy="854.1" r="9.8"/><circle cx="1417.2" cy="789.2" r="9.8"/><circle cx="1363.4" cy="824.3" r="9.8"/><circle cx="1463.0" cy="729.3" r="9.8"/><circle cx="913.3" cy="571.9" r="9.8"/><circle cx="1161.8" cy="414.1" r="9.8"/><circle cx="1345.6" cy="450.0" r="9.8"/><circle cx="958.2" cy="693.4" r="9.8"/><circle cx="953.9" cy="533.1" r="9.8"/><circle cx="1371.0" cy="809.5" r="9.8"/><circle cx="1193.0" cy="497.5" r="9.8"/><circle cx="1379.3" cy="808.1" r="9.8"/><circle cx="1218.1" cy="430.2" r="9.8"/><circle cx="1339.9" cy="489.5" r="9.8"/><circle cx="1106.1" cy="807.2" r="9.8"/><circle cx="1302.6" cy="793.0" r="9.8"/><circle cx="861.4" cy="595.9" r="9.8"/><circle cx="1331.2" cy="533.6" r="9.8"/><circle cx="1226.6" cy="458.9" r="9.8"/><circle cx="870.9" cy="696.9" r="9.8"/><circle cx="1257.1" cy="791.3" r="9.8"/><circle cx="1329.0" cy="544.5" r="9.8"/><circle cx="1301.6" cy="843.6" r="9.8"/><circle cx="1352.4" cy="798.6" r="9.8"/><circle cx="842.2" cy="586.4" r="9.8"/><circle cx="842.1" cy="642.8" r="9.8"/><circle cx="1028.4" cy="805.3" r="9.8"/><circle cx="851.9" cy="665.1" r="9.8"/><circle cx="1003.0" cy="472.7" r="9.8"/><circle cx="1191.4" cy="415.3" r="9.8"/><circle cx="1446.4" cy="801.8" r="9.8"/><circle cx="943.1" cy="715.0" r="9.8"/><circle cx="966.8" cy="719.4" r="9.8"/><circle cx="1458.2" cy="585.7" r="9.8"/><circle cx="1151.2" cy="489.4" r="9.8"/><circle cx="1421.6" cy="822.3" r="9.8"/><circle cx="1316.7" cy="497.3" r="9.8"/><circle cx="1238.8" cy="799.9" r="9.8"/><circle cx="1196.2" cy="447.9" r="9.8"/><circle cx="1241.2" cy="496.9" r="9.8"/><circle cx="1415.5" cy="518.1" r="9.8"/><circle cx="1160.7" cy="498.1" r="9.8"/><circle cx="1375.3" cy="826.4" r="9.8"/><circle cx="1147.9" cy="784.6" r="9.8"/><circle cx="1137.1" cy="832.7" r="9.8"/><circle cx="1164.4" cy="504.2" r="9.8"/><circle cx="1075.5" cy="461.5" r="9.8"/><circle cx="1428.5" cy="528.2" r="9.8"/><circle cx="824.1" cy="676.1" r="9.8"/><circle cx="921.1" cy="592.0" r="9.8"/><circle cx="924.4" cy="773.2" r="9.8"/><circle cx="1495.4" cy="710.2" r="9.8"/><circle cx="1511.9" cy="666.5" r="9.8"/><circle cx="1231.6" cy="482.4" r="9.8"/><circle cx="917.9" cy="608.8" r="9.8"/><circle cx="1213.5" cy="429.8" r="9.8"/><circle cx="1236.0" cy="413.5" r="9.8"/><circle cx="890.1" cy="683.9" r="9.8"/><circle cx="1147.6" cy="420.9" r="9.8"/><circle cx="853.5" cy="594.5" r="9.8"/><circle cx="896.4" cy="627.5" r="9.8"/><circle cx="1106.2" cy="849.0" r="9.8"/><circle cx="1512.5" cy="746.4" r="9.8"/><circle cx="1383.2" cy="774.1" r="9.8"/><circle cx="987.5" cy="781.7" r="9.8"/><circle cx="1014.1" cy="492.1" r="9.8"/><circle cx="831.7" cy="644.4" r="9.8"/><circle cx="1425.7" cy="528.8" r="9.8"/><circle cx="1054.8" cy="460.6" r="9.8"/><circle cx="964.3" cy="529.1" r="9.8"/><circle cx="1478.2" cy="583.2" r="9.8"/><circle cx="1522.4" cy="699.3" r="9.8"/><circle cx="1270.7" cy="794.9" r="9.8"/><circle cx="922.7" cy="525.8" r="9.8"/><circle cx="1143.8" cy="509.6" r="9.8"/><circle cx="1257.3" cy="505.6" r="9.8"/><circle cx="856.6" cy="629.5" r="9.8"/><circle cx="984.4" cy="709.2" r="9.8"/><circle cx="865.7" cy="529.5" r="9.8"/><circle cx="1169.6" cy="803.9" r="9.8"/><circle cx="1311.1" cy="471.7" r="9.8"/><circle cx="1532.2" cy="618.3" r="9.8"/><circle cx="953.5" cy="698.1" r="9.8"/><circle cx="797.9" cy="579.8" r="9.8"/><circle cx="1159.3" cy="418.7" r="9.8"/><circle cx="1260.2" cy="475.8" r="9.8"/><circle cx="988.5" cy="455.9" r="9.8"/><circle cx="1154.3" cy="500.9" r="9.8"/><circle cx="1469.4" cy="553.7" r="9.8"/><circle cx="949.0" cy="707.5" r="9.8"/><circle cx="1448.6" cy="667.7" r="9.8"/><circle cx="1469.8" cy="620.5" r="9.8"/><circle cx="1000.0" cy="774.2" r="9.8"/><circle cx="880.6" cy="698.1" r="9.8"/><circle cx="1035.9" cy="513.6" r="9.8"/><circle cx="1400.9" cy="769.2" r="9.8"/><circle cx="1475.7" cy="672.8" r="9.8"/><circle cx="1471.6" cy="527.0" r="9.8"/><circle cx="1441.3" cy="559.9" r="9.8"/><circle cx="1279.2" cy="832.2" r="9.8"/><circle cx="861.2" cy="676.6" r="9.8"/><circle cx="888.2" cy="600.5" r="9.8"/><circle cx="1231.4" cy="482.3" r="9.8"/><circle cx="1459.2" cy="556.6" r="9.8"/><circle cx="1578.5" cy="653.5" r="9.8"/><circle cx="1300.9" cy="496.9" r="9.8"/><circle cx="1399.8" cy="824.5" r="9.8"/><circle cx="967.7" cy="760.9" r="9.8"/><circle cx="1513.0" cy="730.6" r="9.8"/><circle cx="1365.6" cy="789.9" r="9.8"/><circle cx="999.8" cy="793.3" r="9.8"/><circle cx="1500.7" cy="745.9" r="9.8"/><circle cx="775.3" cy="627.1" r="9.8"/><circle cx="1551.2" cy="603.3" r="9.8"/><circle cx="885.2" cy="673.4" r="9.8"/><circle cx="1033.0" cy="463.6" r="9.8"/><circle cx="1314.1" cy="802.7" r="9.8"/><circle cx="933.9" cy="820.8" r="9.8"/><circle cx="1452.7" cy="821.2" r="9.8"/><circle cx="854.0" cy="651.0" r="9.8"/><circle cx="900.3" cy="656.7" r="9.8"/><circle cx="1291.5" cy="505.0" r="9.8"/><circle cx="1275.9" cy="518.9" r="9.8"/><circle cx="1304.4" cy="512.6" r="9.8"/><circle cx="781.9" cy="634.7" r="9.8"/><circle cx="1466.7" cy="669.9" r="9.8"/><circle cx="1345.8" cy="781.6" r="9.8"/><circle cx="1413.2" cy="812.4" r="9.8"/><circle cx="1170.3" cy="487.7" r="9.8"/><circle cx="953.2" cy="745.3" r="9.8"/><circle cx="1484.3" cy="688.3" r="9.8"/><circle cx="1393.1" cy="774.1" r="9.8"/><circle cx="1164.9" cy="785.2" r="9.8"/><circle cx="1544.5" cy="525.0" r="9.8"/><circle cx="1466.7" cy="528.9" r="9.8"/><circle cx="879.0" cy="516.1" r="9.8"/><circle cx="1496.7" cy="735.2" r="9.8"/><circle cx="1330.9" cy="487.0" r="9.8"/><circle cx="1056.5" cy="778.7" r="9.8"/><circle cx="1259.9" cy="495.6" r="9.8"/><circle cx="914.8" cy="703.8" r="9.8"/><circle cx="1043.8" cy="447.6" r="9.8"/><circle cx="1580.4" cy="671.2" r="9.8"/><circle cx="1449.1" cy="638.5" r="9.8"/><circle cx="1462.7" cy="643.1" r="9.8"/><circle cx="906.3" cy="470.0" r="9.8"/><circle cx="1356.4" cy="777.8" r="9.8"/><circle cx="914.8" cy="652.5" r="9.8"/><circle cx="814.0" cy="605.1" r="9.8"/><circle cx="814.7" cy="578.5" r="9.8"/><circle cx="1193.4" cy="784.0" r="9.8"/><circle cx="939.7" cy="778.6" r="9.8"/><circle cx="966.0" cy="485.3" r="9.8"/><circle cx="905.7" cy="610.8" r="9.8"/><circle cx="950.1" cy="693.5" r="9.8"/><circle cx="999.6" cy="755.5" r="9.8"/><circle cx="973.8" cy="825.4" r="9.8"/><circle cx="1521.4" cy="536.2" r="9.8"/><circle cx="1554.1" cy="531.5" r="9.8"/><circle cx="818.2" cy="588.0" r="9.8"/><circle cx="965.1" cy="518.4" r="9.8"/><circle cx="1194.1" cy="485.6" r="9.8"/><circle cx="1345.5" cy="783.7" r="9.8"/><circle cx="1160.8" cy="491.6" r="9.8"/><circle cx="1489.6" cy="749.9" r="9.8"/><circle cx="1315.4" cy="809.6" r="9.8"/><circle cx="1082.6" cy="838.9" r="9.8"/><circle cx="1460.1" cy="575.1" r="9.8"/><circle cx="941.0" cy="500.4" r="9.8"/><circle cx="1298.7" cy="836.6" r="9.8"/><circle cx="969.2" cy="481.9" r="9.8"/><circle cx="1172.1" cy="834.9" r="9.8"/><circle cx="1131.7" cy="483.5" r="9.8"/><circle cx="1419.6" cy="806.1" r="9.8"/><circle cx="1181.9" cy="414.9" r="9.8"/><circle cx="970.2" cy="517.9" r="9.8"/><circle cx="1056.0" cy="488.2" r="9.8"/><circle cx="1471.7" cy="543.3" r="9.8"/><circle cx="782.1" cy="621.1" r="9.8"/><circle cx="940.0" cy="816.8" r="9.8"/><circle cx="1278.6" cy="802.1" r="9.8"/><circle cx="908.2" cy="578.4" r="9.8"/><circle cx="941.4" cy="745.2" r="9.8"/><circle cx="1505.6" cy="632.2" r="9.8"/><circle cx="1464.3" cy="554.9" r="9.8"/><circle cx="1112.8" cy="509.7" r="9.8"/><circle cx="973.7" cy="713.6" r="9.8"/><circle cx="930.2" cy="737.4" r="9.8"/><circle cx="1402.3" cy="793.1" r="9.8"/><circle cx="1275.1" cy="834.7" r="9.8"/><circle cx="1160.2" cy="820.8" r="9.8"/><circle cx="1273.8" cy="517.3" r="9.8"/><circle cx="923.5" cy="658.4" r="9.8"/><circle cx="1140.6" cy="469.8" r="9.8"/><circle cx="1050.3" cy="813.3" r="9.8"/><circle cx="1479.0" cy="688.2" r="9.8"/><circle cx="901.2" cy="511.7" r="9.8"/><circle cx="1561.7" cy="539.0" r="9.8"/><circle cx="1106.6" cy="500.4" r="9.8"/><circle cx="1423.6" cy="527.8" r="9.8"/><circle cx="1260.2" cy="820.7" r="9.8"/><circle cx="842.0" cy="583.4" r="9.8"/><circle cx="1586.7" cy="598.9" r="9.8"/><circle cx="1158.8" cy="511.5" r="9.8"/><circle cx="852.9" cy="680.9" r="9.8"/><circle cx="1470.6" cy="717.7" r="9.8"/><circle cx="828.3" cy="633.2" r="9.8"/><circle cx="999.3" cy="843.9" r="9.8"/><circle cx="1427.9" cy="808.5" r="9.8"/><circle cx="822.1" cy="701.5" r="9.8"/><circle cx="1345.7" cy="830.6" r="9.8"/><circle cx="1481.3" cy="584.3" r="9.8"/><circle cx="881.9" cy="740.0" r="9.8"/><circle cx="1118.4" cy="828.1" r="9.8"/><circle cx="881.1" cy="573.7" r="9.8"/><circle cx="872.4" cy="605.3" r="9.8"/><circle cx="1025.8" cy="817.4" r="9.8"/><circle cx="1550.6" cy="674.6" r="9.8"/><circle cx="1513.2" cy="623.7" r="9.8"/><circle cx="1218.9" cy="833.1" r="9.8"/><circle cx="1507.7" cy="716.7" r="9.8"/><circle cx="937.8" cy="676.2" r="9.8"/><circle cx="1464.6" cy="492.0" r="9.8"/><circle cx="1009.1" cy="521.5" r="9.8"/><circle cx="1290.0" cy="803.8" r="9.8"/><circle cx="940.8" cy="481.8" r="9.8"/><circle cx="987.0" cy="531.1" r="9.8"/><circle cx="796.6" cy="562.3" r="9.8"/><circle cx="1544.7" cy="777.0" r="9.8"/><circle cx="1144.0" cy="803.6" r="9.8"/><circle cx="948.3" cy="829.5" r="9.8"/><circle cx="1106.9" cy="505.8" r="9.8"/><circle cx="1459.0" cy="740.7" r="9.8"/><circle cx="1055.5" cy="842.6" r="9.8"/><circle cx="1255.5" cy="494.1" r="9.8"/><circle cx="891.8" cy="654.3" r="9.8"/><circle cx="1333.3" cy="493.1" r="9.8"/><circle cx="1293.4" cy="481.7" r="9.8"/><circle cx="1008.8" cy="742.2" r="9.8"/><circle cx="1593.0" cy="719.8" r="9.8"/><circle cx="972.7" cy="527.3" r="9.8"/><circle cx="1334.3" cy="505.0" r="9.8"/><circle cx="908.2" cy="710.9" r="9.8"/><circle cx="1218.2" cy="477.3" r="9.8"/><circle cx="851.2" cy="560.6" r="9.8"/><circle cx="1516.3" cy="529.5" r="9.8"/><circle cx="898.1" cy="551.2" r="9.8"/><circle cx="1483.5" cy="708.3" r="9.8"/><circle cx="864.6" cy="615.9" r="9.8"/><circle cx="1313.0" cy="836.6" r="9.8"/><circle cx="1070.9" cy="849.0" r="9.8"/><circle cx="899.4" cy="624.2" r="9.8"/><circle cx="1522.6" cy="643.4" r="9.8"/><circle cx="1215.5" cy="840.0" r="9.8"/><circle cx="1134.6" cy="449.7" r="9.8"/><circle cx="1044.2" cy="831.5" r="9.8"/><circle cx="1247.9" cy="786.1" r="9.8"/><circle cx="877.7" cy="561.8" r="9.8"/><circle cx="1419.9" cy="805.1" r="9.8"/><circle cx="853.1" cy="672.7" r="9.8"/><circle cx="1467.7" cy="709.3" r="9.8"/><circle cx="1433.5" cy="534.4" r="9.8"/><circle cx="933.7" cy="564.1" r="9.8"/><circle cx="912.0" cy="571.2" r="9.8"/><circle cx="823.4" cy="696.1" r="9.8"/><circle cx="1235.7" cy="472.9" r="9.8"/><circle cx="1239.5" cy="798.2" r="9.8"/><circle cx="883.9" cy="592.3" r="9.8"/><circle cx="937.1" cy="795.6" r="9.8"/><circle cx="1097.7" cy="490.5" r="9.8"/><circle cx="1589.4" cy="684.6" r="9.8"/><circle cx="1289.8" cy="475.3" r="9.8"/><circle cx="1488.4" cy="727.7" r="9.8"/><circle cx="1360.6" cy="539.2" r="9.8"/><circle cx="1103.0" cy="799.5" r="9.8"/><circle cx="1550.1" cy="767.1" r="9.8"/><circle cx="1377.4" cy="548.8" r="9.8"/><circle cx="877.9" cy="665.7" r="9.8"/><circle cx="1190.3" cy="815.2" r="9.8"/><circle cx="893.9" cy="626.0" r="9.8"/><circle cx="977.0" cy="809.1" r="9.8"/><circle cx="1330.6" cy="797.1" r="9.8"/><circle cx="1271.1" cy="792.2" r="9.8"/><circle cx="904.1" cy="700.8" r="9.8"/><circle cx="1107.7" cy="787.9" r="9.8"/><circle cx="1026.3" cy="483.6" r="9.8"/><circle cx="929.2" cy="745.3" r="9.8"/><circle cx="1477.9" cy="672.4" r="9.8"/><circle cx="1329.8" cy="538.1" r="9.8"/><circle cx="1554.2" cy="685.4" r="9.8"/><circle cx="1348.9" cy="796.4" r="9.8"/><circle cx="1079.3" cy="792.3" r="9.8"/><circle cx="883.0" cy="597.4" r="9.8"/><circle cx="994.5" cy="782.6" r="9.8"/><circle cx="1135.8" cy="451.3" r="9.8"/><circle cx="1350.5" cy="813.0" r="9.8"/><circle cx="979.4" cy="514.3" r="9.8"/><circle cx="812.8" cy="581.8" r="9.8"/><circle cx="918.9" cy="716.6" r="9.8"/><circle cx="1231.7" cy="481.5" r="9.8"/><circle cx="919.3" cy="717.0" r="9.8"/><circle cx="1477.8" cy="704.7" r="9.8"/><circle cx="1072.8" cy="514.4" r="9.8"/><circle cx="1426.2" cy="515.7" r="9.8"/><circle cx="1107.8" cy="494.0" r="9.8"/><circle cx="1501.5" cy="652.3" r="9.8"/><circle cx="1280.7" cy="473.9" r="9.8"/><circle cx="1441.9" cy="531.9" r="9.8"/><circle cx="1087.9" cy="798.2" r="9.8"/><circle cx="1078.5" cy="851.2" r="9.8"/><circle cx="1457.1" cy="662.1" r="9.8"/><circle cx="1395.4" cy="802.3" r="9.8"/><circle cx="1059.9" cy="516.9" r="9.8"/><circle cx="1457.4" cy="722.9" r="9.8"/><circle cx="1077.6" cy="840.1" r="9.8"/><circle cx="963.8" cy="547.6" r="9.8"/><circle cx="940.5" cy="473.7" r="9.8"/><circle cx="1024.5" cy="497.8" r="9.8"/><circle cx="1497.2" cy="720.5" r="9.8"/><circle cx="1119.7" cy="510.1" r="9.8"/><circle cx="1377.6" cy="479.9" r="9.8"/><circle cx="874.9" cy="614.2" r="9.8"/><circle cx="900.4" cy="614.3" r="9.8"/><circle cx="1100.1" cy="821.2" r="9.8"/><circle cx="1460.6" cy="708.8" r="9.8"/><circle cx="1500.4" cy="686.1" r="9.8"/><circle cx="1090.2" cy="488.8" r="9.8"/><circle cx="890.1" cy="789.6" r="9.8"/><circle cx="1257.3" cy="800.9" r="9.8"/><circle cx="1378.8" cy="483.1" r="9.8"/><circle cx="894.7" cy="528.8" r="9.8"/><circle cx="986.2" cy="713.5" r="9.8"/><circle cx="1373.7" cy="798.8" r="9.8"/><circle cx="1459.3" cy="828.0" r="9.8"/><circle cx="1418.0" cy="766.2" r="9.8"/><circle cx="1434.7" cy="757.7" r="9.8"/><circle cx="847.0" cy="548.3" r="9.8"/><circle cx="1239.4" cy="845.4" r="9.8"/><circle cx="1418.4" cy="772.8" r="9.8"/><circle cx="1512.0" cy="654.9" r="9.8"/><circle cx="1233.5" cy="475.2" r="9.8"/><circle cx="1544.9" cy="611.9" r="9.8"/><circle cx="1493.9" cy="574.6" r="9.8"/><circle cx="938.9" cy="719.6" r="9.8"/><circle cx="1462.9" cy="590.6" r="9.8"/><circle cx="1460.4" cy="662.8" r="9.8"/><circle cx="1039.6" cy="471.7" r="9.8"/><circle cx="1416.7" cy="774.9" r="9.8"/><circle cx="939.4" cy="566.6" r="9.8"/><circle cx="1478.6" cy="559.1" r="9.8"/><circle cx="975.0" cy="550.7" r="9.8"/><circle cx="1252.9" cy="482.7" r="9.8"/><circle cx="929.8" cy="751.9" r="9.8"/><circle cx="984.7" cy="530.7" r="9.8"/><circle cx="1171.3" cy="792.6" r="9.8"/><circle cx="1278.7" cy="856.6" r="9.8"/><circle cx="880.9" cy="581.4" r="9.8"/><circle cx="1263.0" cy="820.5" r="9.8"/><circle cx="883.9" cy="618.4" r="9.8"/><circle cx="1032.1" cy="457.8" r="9.8"/><circle cx="908.5" cy="604.9" r="9.8"/><circle cx="1382.7" cy="772.4" r="9.8"/><circle cx="1007.1" cy="766.5" r="9.8"/><circle cx="919.9" cy="694.0" r="9.8"/><circle cx="777.6" cy="587.4" r="9.8"/><circle cx="1466.9" cy="562.1" r="9.8"/><circle cx="923.0" cy="726.3" r="9.8"/><circle cx="1038.2" cy="444.9" r="9.8"/><circle cx="1448.7" cy="721.5" r="9.8"/><circle cx="982.7" cy="526.9" r="9.8"/><circle cx="1295.6" cy="440.4" r="9.8"/><circle cx="1044.6" cy="502.2" r="9.8"/><circle cx="1365.1" cy="819.0" r="9.8"/><circle cx="1295.9" cy="475.4" r="9.8"/><circle cx="1453.1" cy="786.7" r="9.8"/><circle cx="1497.9" cy="703.0" r="9.8"/><circle cx="1536.4" cy="566.7" r="9.8"/><circle cx="1324.4" cy="502.9" r="9.8"/><circle cx="1210.0" cy="439.0" r="9.8"/><circle cx="1514.8" cy="558.9" r="9.8"/><circle cx="995.0" cy="739.6" r="9.8"/><circle cx="1240.9" cy="821.5" r="9.8"/><circle cx="1049.1" cy="786.1" r="9.8"/><circle cx="1465.9" cy="560.3" r="9.8"/><circle cx="1381.4" cy="778.2" r="9.8"/><circle cx="929.1" cy="484.1" r="9.8"/><circle cx="946.3" cy="555.3" r="9.8"/><circle cx="1471.9" cy="556.3" r="9.8"/><circle cx="1543.7" cy="642.0" r="9.8"/><circle cx="883.6" cy="608.6" r="9.8"/><circle cx="1029.2" cy="525.0" r="9.8"/><circle cx="1522.2" cy="599.5" r="9.8"/><circle cx="927.6" cy="530.8" r="9.8"/><circle cx="1452.1" cy="526.4" r="9.8"/><circle cx="1411.5" cy="780.1" r="9.8"/><circle cx="927.7" cy="552.7" r="9.8"/><circle cx="910.4" cy="504.9" r="9.8"/><circle cx="1441.4" cy="745.7" r="9.8"/><circle cx="1455.3" cy="740.9" r="9.8"/><circle cx="1496.8" cy="672.4" r="9.8"/><circle cx="942.3" cy="689.5" r="9.8"/><circle cx="1345.2" cy="803.4" r="9.8"/><circle cx="1273.0" cy="832.5" r="9.8"/><circle cx="1390.1" cy="530.7" r="9.8"/><circle cx="1523.5" cy="591.2" r="9.8"/><circle cx="1458.9" cy="635.5" r="9.8"/><circle cx="881.3" cy="639.5" r="9.8"/><circle cx="819.3" cy="648.6" r="9.8"/><circle cx="870.5" cy="642.2" r="9.8"/><circle cx="1412.2" cy="811.0" r="9.8"/><circle cx="1310.8" cy="500.6" r="9.8"/><circle cx="1570.9" cy="571.1" r="9.8"/><circle cx="1548.4" cy="560.8" r="9.8"/><circle cx="1167.0" cy="794.8" r="9.8"/><circle cx="1099.2" cy="515.9" r="9.8"/><circle cx="1274.9" cy="514.2" r="9.8"/><circle cx="1390.6" cy="537.3" r="9.8"/><circle cx="1595.8" cy="611.1" r="9.8"/><circle cx="1298.1" cy="479.3" r="9.8"/><circle cx="1529.1" cy="648.3" r="9.8"/><circle cx="951.2" cy="555.5" r="9.8"/><circle cx="1452.7" cy="645.4" r="9.8"/><circle cx="987.9" cy="813.7" r="9.8"/><circle cx="1504.3" cy="591.5" r="9.8"/><circle cx="1505.3" cy="541.4" r="9.8"/><circle cx="1454.6" cy="753.5" r="9.8"/><circle cx="1322.3" cy="469.4" r="9.8"/><circle cx="1480.2" cy="647.8" r="9.8"/><circle cx="959.5" cy="697.0" r="9.8"/><circle cx="1533.2" cy="699.4" r="9.8"/><circle cx="1475.8" cy="830.7" r="9.8"/><circle cx="932.9" cy="488.0" r="9.8"/><circle cx="1292.8" cy="813.9" r="9.8"/><circle cx="1492.3" cy="550.0" r="9.8"/><circle cx="1126.2" cy="823.7" r="9.8"/><circle cx="1299.5" cy="802.5" r="9.8"/><circle cx="1489.4" cy="579.9" r="9.8"/><circle cx="852.5" cy="624.2" r="9.8"/><circle cx="954.1" cy="835.8" r="9.8"/><circle cx="854.7" cy="585.6" r="9.8"/><circle cx="1589.1" cy="576.5" r="9.8"/><circle cx="896.1" cy="525.1" r="9.8"/><circle cx="1108.8" cy="509.8" r="9.8"/><circle cx="1373.7" cy="531.9" r="9.8"/><circle cx="858.2" cy="567.5" r="9.8"/><circle cx="905.5" cy="805.8" r="9.8"/><circle cx="1055.4" cy="524.0" r="9.8"/><circle cx="1497.1" cy="635.5" r="9.8"/><circle cx="929.7" cy="737.3" r="9.8"/><circle cx="1486.6" cy="644.5" r="9.8"/><circle cx="1047.8" cy="815.9" r="9.8"/><circle cx="876.2" cy="587.7" r="9.8"/><circle cx="858.6" cy="587.6" r="9.8"/><circle cx="924.5" cy="591.8" r="9.8"/><circle cx="888.3" cy="607.9" r="9.8"/><circle cx="1382.2" cy="484.7" r="9.8"/><circle cx="927.4" cy="479.3" r="9.8"/><circle cx="1091.8" cy="498.4" r="9.8"/><circle cx="998.1" cy="496.7" r="9.8"/><circle cx="1167.0" cy="804.7" r="9.8"/><circle cx="1525.3" cy="725.6" r="9.8"/><circle cx="1289.6" cy="845.7" r="9.8"/><circle cx="1001.7" cy="742.6" r="9.8"/><circle cx="1465.2" cy="658.3" r="9.8"/><circle cx="966.1" cy="735.5" r="9.8"/><circle cx="836.4" cy="658.2" r="9.8"/><circle cx="1136.6" cy="434.3" r="9.8"/><circle cx="905.8" cy="614.7" r="9.8"/><circle cx="1581.8" cy="559.8" r="9.8"/><circle cx="834.6" cy="702.5" r="9.8"/><circle cx="1208.3" cy="802.5" r="9.8"/><circle cx="1474.9" cy="792.4" r="9.8"/><circle cx="1427.2" cy="527.1" r="9.8"/><circle cx="1302.8" cy="803.2" r="9.8"/><circle cx="1453.1" cy="523.4" r="9.8"/><circle cx="1464.8" cy="575.4" r="9.8"/><circle cx="904.0" cy="637.4" r="9.8"/><circle cx="1479.5" cy="615.0" r="9.8"/><circle cx="1340.8" cy="451.6" r="9.8"/><circle cx="1367.3" cy="493.3" r="9.8"/><circle cx="829.5" cy="701.9" r="9.8"/><circle cx="1539.5" cy="610.6" r="9.8"/><circle cx="1001.4" cy="758.2" r="9.8"/><circle cx="1090.6" cy="512.1" r="9.8"/><circle cx="1438.3" cy="769.9" r="9.8"/><circle cx="1454.0" cy="690.0" r="9.8"/><circle cx="814.1" cy="678.7" r="9.8"/><circle cx="1513.1" cy="669.0" r="9.8"/><circle cx="1598.3" cy="639.6" r="9.8"/><circle cx="948.0" cy="775.7" r="9.8"/><circle cx="1494.1" cy="631.9" r="9.8"/><circle cx="1480.8" cy="604.2" r="9.8"/><circle cx="1551.3" cy="585.0" r="9.8"/><circle cx="1335.1" cy="787.0" r="9.8"/><circle cx="1104.0" cy="823.0" r="9.8"/><circle cx="1302.1" cy="526.9" r="9.8"/><circle cx="1118.8" cy="824.5" r="9.8"/><circle cx="1270.7" cy="851.6" r="9.8"/><circle cx="1384.8" cy="553.9" r="9.8"/><circle cx="1527.5" cy="562.9" r="9.8"/><circle cx="1240.9" cy="438.1" r="9.8"/><circle cx="897.0" cy="660.4" r="9.8"/><circle cx="1586.6" cy="616.8" r="9.8"/><circle cx="1564.1" cy="718.5" r="9.8"/><circle cx="1465.7" cy="673.6" r="9.8"/><circle cx="882.3" cy="651.9" r="9.8"/><circle cx="1152.3" cy="453.9" r="9.8"/><circle cx="909.8" cy="593.2" r="9.8"/><circle cx="1380.9" cy="842.1" r="9.8"/><circle cx="1543.3" cy="742.8" r="9.8"/><circle cx="891.3" cy="705.8" r="9.8"/><circle cx="1396.4" cy="800.4" r="9.8"/><circle cx="1526.9" cy="667.6" r="9.8"/><circle cx="1321.3" cy="535.7" r="9.8"/><circle cx="1319.5" cy="802.2" r="9.8"/><circle cx="1569.9" cy="698.2" r="9.8"/><circle cx="1551.2" cy="589.1" r="9.8"/><circle cx="1503.2" cy="494.7" r="9.8"/><circle cx="1079.2" cy="836.2" r="9.8"/><circle cx="1256.8" cy="461.7" r="9.8"/><circle cx="912.4" cy="585.1" r="9.8"/><circle cx="858.1" cy="497.1" r="9.8"/><circle cx="1413.0" cy="543.5" r="9.8"/><circle cx="908.6" cy="642.7" r="9.8"/><circle cx="1020.5" cy="845.6" r="9.8"/><circle cx="1314.2" cy="794.2" r="9.8"/><circle cx="1148.4" cy="511.7" r="9.8"/><circle cx="1154.5" cy="423.6" r="9.8"/><circle cx="944.7" cy="695.2" r="9.8"/><circle cx="1061.5" cy="800.1" r="9.8"/><circle cx="1362.7" cy="843.5" r="9.8"/><circle cx="1555.9" cy="563.9" r="9.8"/><circle cx="1191.6" cy="440.5" r="9.8"/><circle cx="1466.0" cy="779.8" r="9.8"/><circle cx="1151.9" cy="512.1" r="9.8"/><circle cx="1110.8" cy="511.4" r="9.8"/><circle cx="794.8" cy="612.6" r="9.8"/><circle cx="950.3" cy="525.0" r="9.8"/><circle cx="819.3" cy="635.3" r="9.8"/><circle cx="951.8" cy="548.4" r="9.8"/><circle cx="1456.0" cy="823.9" r="9.8"/><circle cx="984.5" cy="839.1" r="9.8"/><circle cx="990.5" cy="724.7" r="9.8"/><circle cx="806.1" cy="646.5" r="9.8"/><circle cx="1072.3" cy="515.9" r="9.8"/><circle cx="911.0" cy="775.5" r="9.8"/><circle cx="1039.3" cy="495.1" r="9.8"/><circle cx="1520.0" cy="525.8" r="9.8"/><circle cx="1454.0" cy="564.9" r="9.8"/><circle cx="1570.9" cy="632.9" r="9.8"/><circle cx="1448.9" cy="663.8" r="9.8"/><circle cx="1399.2" cy="815.8" r="9.8"/><circle cx="1174.1" cy="495.4" r="9.8"/><circle cx="1519.4" cy="541.5" r="9.8"/><circle cx="804.4" cy="608.7" r="9.8"/><circle cx="1504.5" cy="577.1" r="9.8"/><circle cx="931.7" cy="500.5" r="9.8"/><circle cx="1074.7" cy="484.7" r="9.8"/><circle cx="1399.8" cy="545.7" r="9.8"/><circle cx="1022.4" cy="831.2" r="9.8"/><circle cx="1354.4" cy="539.5" r="9.8"/><circle cx="1350.1" cy="824.8" r="9.8"/><circle cx="814.3" cy="591.9" r="9.8"/><circle cx="1462.6" cy="753.1" r="9.8"/><circle cx="971.7" cy="463.2" r="9.8"/><circle cx="1461.1" cy="703.9" r="9.8"/><circle cx="1409.6" cy="548.0" r="9.8"/><circle cx="1174.9" cy="501.1" r="9.8"/><circle cx="1036.8" cy="809.8" r="9.8"/><circle cx="1464.8" cy="597.9" r="9.8"/><circle cx="1557.9" cy="701.2" r="9.8"/><circle cx="1154.4" cy="817.0" r="9.8"/><circle cx="899.7" cy="654.7" r="9.8"/><circle cx="1353.8" cy="796.2" r="9.8"/><circle cx="943.9" cy="775.1" r="9.8"/><circle cx="1442.1" cy="714.2" r="9.8"/><circle cx="958.2" cy="696.9" r="9.8"/><circle cx="1273.8" cy="488.5" r="9.8"/><circle cx="992.8" cy="509.7" r="9.8"/><circle cx="1173.4" cy="448.3" r="9.8"/><circle cx="782.3" cy="610.6" r="9.8"/><circle cx="959.0" cy="519.5" r="9.8"/><circle cx="1527.2" cy="793.8" r="9.8"/><circle cx="1195.6" cy="843.2" r="9.8"/><circle cx="980.3" cy="738.9" r="9.8"/><circle cx="920.2" cy="641.8" r="9.8"/><circle cx="1233.6" cy="474.3" r="9.8"/><circle cx="928.2" cy="762.8" r="9.8"/><circle cx="1131.3" cy="789.2" r="9.8"/><circle cx="1445.0" cy="672.1" r="9.8"/><circle cx="1567.7" cy="573.6" r="9.8"/><circle cx="937.7" cy="723.4" r="9.8"/><circle cx="1230.1" cy="807.4" r="9.8"/><circle cx="1452.6" cy="813.5" r="9.8"/><circle cx="1225.6" cy="797.0" r="9.8"/><circle cx="954.1" cy="716.4" r="9.8"/><circle cx="1578.1" cy="731.1" r="9.8"/><circle cx="834.9" cy="628.4" r="9.8"/><circle cx="953.2" cy="679.4" r="9.8"/><circle cx="1523.3" cy="556.5" r="9.8"/><circle cx="887.4" cy="614.8" r="9.8"/><circle cx="1403.8" cy="549.4" r="9.8"/><circle cx="852.6" cy="555.2" r="9.8"/><circle cx="878.3" cy="661.9" r="9.8"/><circle cx="872.5" cy="553.9" r="9.8"/><circle cx="1414.3" cy="763.3" r="9.8"/><circle cx="1555.5" cy="776.9" r="9.8"/><circle cx="911.6" cy="784.0" r="9.8"/><circle cx="1345.6" cy="797.4" r="9.8"/><circle cx="996.2" cy="765.5" r="9.8"/><circle cx="900.2" cy="677.7" r="9.8"/><circle cx="960.4" cy="735.9" r="9.8"/><circle cx="1057.8" cy="523.2" r="9.8"/><circle cx="1164.8" cy="808.3" r="9.8"/><circle cx="894.4" cy="635.3" r="9.8"/><circle cx="924.6" cy="582.7" r="9.8"/><circle cx="1329.9" cy="852.0" r="9.8"/><circle cx="996.9" cy="736.7" r="9.8"/><circle cx="1267.6" cy="471.4" r="9.8"/><circle cx="977.6" cy="518.1" r="9.8"/><circle cx="831.6" cy="664.9" r="9.8"/><circle cx="973.1" cy="717.0" r="9.8"/><circle cx="852.3" cy="677.6" r="9.8"/><circle cx="889.1" cy="668.6" r="9.8"/><circle cx="1386.2" cy="783.1" r="9.8"/><circle cx="919.3" cy="777.3" r="9.8"/><circle cx="1357.6" cy="521.6" r="9.8"/><circle cx="1461.8" cy="634.2" r="9.8"/><circle cx="1352.7" cy="810.7" r="9.8"/><circle cx="925.6" cy="545.0" r="9.8"/><circle cx="1444.6" cy="811.6" r="9.8"/><circle cx="1178.9" cy="808.4" r="9.8"/><circle cx="1188.4" cy="454.6" r="9.8"/><circle cx="1453.9" cy="746.4" r="9.8"/><circle cx="1452.3" cy="555.8" r="9.8"/><circle cx="1230.4" cy="485.9" r="9.8"/><circle cx="1232.6" cy="838.8" r="9.8"/><circle cx="1536.8" cy="654.8" r="9.8"/><circle cx="818.2" cy="616.9" r="9.8"/><circle cx="1392.5" cy="502.3" r="9.8"/><circle cx="1130.9" cy="470.7" r="9.8"/><circle cx="918.3" cy="774.2" r="9.8"/><circle cx="1349.3" cy="808.4" r="9.8"/><circle cx="1139.6" cy="463.3" r="9.8"/><circle cx="864.0" cy="536.4" r="9.8"/><circle cx="1405.1" cy="772.8" r="9.8"/><circle cx="1069.5" cy="495.1" r="9.8"/><circle cx="1385.1" cy="811.3" r="9.8"/><circle cx="943.8" cy="788.1" r="9.8"/><circle cx="1208.4" cy="456.1" r="9.8"/><circle cx="856.9" cy="606.6" r="9.8"/><circle cx="1183.7" cy="429.8" r="9.8"/><circle cx="1435.8" cy="521.7" r="9.8"/><circle cx="1451.7" cy="683.4" r="9.8"/><circle cx="1157.5" cy="801.6" r="9.8"/><circle cx="902.7" cy="589.5" r="9.8"/><circle cx="1157.1" cy="491.9" r="9.8"/><circle cx="983.4" cy="536.5" r="9.8"/><circle cx="928.4" cy="664.1" r="9.8"/><circle cx="1224.7" cy="426.7" r="9.8"/><circle cx="1067.4" cy="461.6" r="9.8"/><circle cx="1461.2" cy="696.4" r="9.8"/><circle cx="1135.7" cy="497.6" r="9.8"/><circle cx="871.4" cy="650.1" r="9.8"/><circle cx="1442.7" cy="809.7" r="9.8"/><circle cx="1503.4" cy="678.7" r="9.8"/><circle cx="1304.0" cy="785.2" r="9.8"/><circle cx="1153.8" cy="432.1" r="9.8"/><circle cx="1499.6" cy="818.5" r="9.8"/><circle cx="1457.0" cy="785.7" r="9.8"/><circle cx="1405.9" cy="547.4" r="9.8"/><circle cx="1013.6" cy="490.4" r="9.8"/><circle cx="1270.5" cy="777.3" r="9.8"/><circle cx="1077.7" cy="808.8" r="9.8"/><circle cx="1428.3" cy="487.3" r="9.8"/><circle cx="1469.9" cy="735.1" r="9.8"/><circle cx="1330.4" cy="537.2" r="9.8"/><circle cx="1164.3" cy="785.3" r="9.8"/><circle cx="1352.3" cy="786.9" r="9.8"/><circle cx="1405.9" cy="813.1" r="9.8"/><circle cx="1494.2" cy="765.2" r="9.8"/><circle cx="887.6" cy="734.0" r="9.8"/><circle cx="1319.6" cy="838.4" r="9.8"/><circle cx="900.7" cy="537.6" r="9.8"/><circle cx="1089.8" cy="491.7" r="9.8"/><circle cx="1273.5" cy="451.5" r="9.8"/><circle cx="853.0" cy="521.8" r="9.8"/><circle cx="983.3" cy="776.9" r="9.8"/><circle cx="1017.8" cy="500.8" r="9.8"/><circle cx="1476.3" cy="620.3" r="9.8"/><circle cx="1491.2" cy="752.3" r="9.8"/><circle cx="1339.6" cy="523.6" r="9.8"/><circle cx="1478.1" cy="814.1" r="9.8"/><circle cx="1276.9" cy="516.8" r="9.8"/><circle cx="1201.5" cy="466.8" r="9.8"/><circle cx="1050.4" cy="793.3" r="9.8"/><circle cx="1460.5" cy="742.8" r="9.8"/><circle cx="870.8" cy="511.4" r="9.8"/><circle cx="984.7" cy="483.4" r="9.8"/><circle cx="1054.8" cy="792.8" r="9.8"/><circle cx="1359.2" cy="853.0" r="9.8"/><circle cx="1526.3" cy="566.9" r="9.8"/><circle cx="936.3" cy="767.2" r="9.8"/><circle cx="1485.5" cy="621.0" r="9.8"/><circle cx="1460.7" cy="696.5" r="9.8"/><circle cx="952.1" cy="559.7" r="9.8"/><circle cx="1192.7" cy="808.9" r="9.8"/><circle cx="790.3" cy="596.1" r="9.8"/><circle cx="1583.0" cy="555.2" r="9.8"/><circle cx="1369.9" cy="479.7" r="9.8"/><circle cx="1242.6" cy="503.2" r="9.8"/><circle cx="1394.0" cy="822.7" r="9.8"/><circle cx="1394.8" cy="800.8" r="9.8"/><circle cx="986.6" cy="519.3" r="9.8"/><circle cx="1024.4" cy="514.3" r="9.8"/><circle cx="781.6" cy="594.8" r="9.8"/><circle cx="1101.6" cy="461.2" r="9.8"/><circle cx="1145.0" cy="791.3" r="9.8"/><circle cx="1572.1" cy="735.8" r="9.8"/><circle cx="1458.3" cy="614.6" r="9.8"/><circle cx="951.6" cy="523.5" r="9.8"/><circle cx="1103.3" cy="512.9" r="9.8"/><circle cx="1234.0" cy="835.0" r="9.8"/><circle cx="1213.7" cy="496.4" r="9.8"/><circle cx="938.0" cy="839.0" r="9.8"/><circle cx="1507.0" cy="606.3" r="9.8"/><circle cx="1449.9" cy="491.0" r="9.8"/><circle cx="964.3" cy="701.3" r="9.8"/><circle cx="1469.4" cy="595.5" r="9.8"/><circle cx="882.4" cy="693.3" r="9.8"/><circle cx="1572.0" cy="694.9" r="9.8"/><circle cx="1528.5" cy="652.8" r="9.8"/><circle cx="1471.4" cy="679.4" r="9.8"/><circle cx="924.7" cy="645.1" r="9.8"/><circle cx="1469.3" cy="621.9" r="9.8"/><circle cx="874.2" cy="664.1" r="9.8"/><circle cx="1146.2" cy="461.0" r="9.8"/><circle cx="853.5" cy="639.7" r="9.8"/><circle cx="1469.9" cy="568.9" r="9.8"/><circle cx="956.8" cy="757.3" r="9.8"/><circle cx="891.7" cy="628.3" r="9.8"/><circle cx="1378.2" cy="835.3" r="9.8"/><circle cx="893.0" cy="542.7" r="9.8"/><circle cx="1134.2" cy="831.2" r="9.8"/><circle cx="1425.1" cy="839.9" r="9.8"/><circle cx="1049.3" cy="485.3" r="9.8"/><circle cx="1212.3" cy="421.8" r="9.8"/><circle cx="1242.6" cy="789.9" r="9.8"/><circle cx="1405.1" cy="777.8" r="9.8"/><circle cx="1493.8" cy="813.2" r="9.8"/><circle cx="1270.7" cy="816.0" r="9.8"/><circle cx="873.6" cy="647.6" r="9.8"/><circle cx="1218.8" cy="789.5" r="9.8"/><circle cx="1118.1" cy="832.9" r="9.8"/><circle cx="884.0" cy="527.7" r="9.8"/><circle cx="958.0" cy="825.2" r="9.8"/><circle cx="985.3" cy="778.9" r="9.8"/><circle cx="928.6" cy="560.3" r="9.8"/><circle cx="1163.4" cy="485.2" r="9.8"/><circle cx="1510.0" cy="600.2" r="9.8"/><circle cx="1068.9" cy="797.6" r="9.8"/><circle cx="944.1" cy="717.6" r="9.8"/><circle cx="843.3" cy="652.5" r="9.8"/><circle cx="1143.9" cy="851.7" r="9.8"/><circle cx="958.2" cy="701.7" r="9.8"/><circle cx="924.1" cy="765.8" r="9.8"/><circle cx="948.9" cy="766.8" r="9.8"/><circle cx="1444.4" cy="776.5" r="9.8"/><circle cx="1346.8" cy="850.0" r="9.8"/><circle cx="1133.8" cy="790.2" r="9.8"/><circle cx="1165.2" cy="803.9" r="9.8"/><circle cx="1285.2" cy="516.2" r="9.8"/><circle cx="841.2" cy="627.9" r="9.8"/><circle cx="1314.6" cy="467.5" r="9.8"/><circle cx="1503.0" cy="719.5" r="9.8"/><circle cx="900.6" cy="606.6" r="9.8"/><circle cx="1537.8" cy="784.9" r="9.8"/><circle cx="1515.1" cy="662.1" r="9.8"/><circle cx="1007.9" cy="485.9" r="9.8"/><circle cx="931.2" cy="753.6" r="9.8"/><circle cx="1596.2" cy="590.6" r="9.8"/><circle cx="968.7" cy="709.6" r="9.8"/><circle cx="802.5" cy="655.5" r="9.8"/><circle cx="1472.6" cy="673.3" r="9.8"/><circle cx="1491.9" cy="621.7" r="9.8"/><circle cx="1310.3" cy="519.0" r="9.8"/><circle cx="918.6" cy="687.3" r="9.8"/><circle cx="1047.2" cy="817.5" r="9.8"/><circle cx="1155.4" cy="469.2" r="9.8"/><circle cx="1333.9" cy="533.2" r="9.8"/><circle cx="1394.8" cy="772.8" r="9.8"/><circle cx="885.8" cy="564.3" r="9.8"/><circle cx="1579.6" cy="538.3" r="9.8"/><circle cx="1020.7" cy="832.3" r="9.8"/><circle cx="895.8" cy="561.6" r="9.8"/><circle cx="1515.3" cy="727.4" r="9.8"/><circle cx="866.0" cy="766.5" r="9.8"/><circle cx="1526.5" cy="680.5" r="9.8"/><circle cx="1494.8" cy="597.1" r="9.8"/><circle cx="1222.6" cy="467.9" r="9.8"/><circle cx="946.8" cy="710.9" r="9.8"/><circle cx="1340.0" cy="534.8" r="9.8"/><circle cx="1459.5" cy="651.5" r="9.8"/><circle cx="970.1" cy="551.5" r="9.8"/><circle cx="1569.6" cy="572.2" r="9.8"/><circle cx="1002.0" cy="772.2" r="9.8"/><circle cx="916.8" cy="652.6" r="9.8"/><circle cx="1483.9" cy="665.5" r="9.8"/><circle cx="872.8" cy="778.6" r="9.8"/><circle cx="1508.3" cy="638.7" r="9.8"/><circle cx="1567.0" cy="611.7" r="9.8"/><circle cx="1019.0" cy="474.4" r="9.8"/><circle cx="1520.6" cy="618.3" r="9.8"/><circle cx="1513.2" cy="698.2" r="9.8"/><circle cx="1263.2" cy="822.2" r="9.8"/><circle cx="925.2" cy="557.0" r="9.8"/><circle cx="1288.8" cy="834.1" r="9.8"/><circle cx="1004.2" cy="789.1" r="9.8"/><circle cx="970.3" cy="518.9" r="9.8"/><circle cx="1519.5" cy="663.2" r="9.8"/><circle cx="887.3" cy="546.8" r="9.8"/><circle cx="851.9" cy="631.9" r="9.8"/><circle cx="824.5" cy="589.1" r="9.8"/><circle cx="1533.7" cy="733.5" r="9.8"/><circle cx="1525.7" cy="656.0" r="9.8"/><circle cx="1167.8" cy="820.5" r="9.8"/><circle cx="893.4" cy="783.3" r="9.8"/><circle cx="1229.1" cy="457.3" r="9.8"/><circle cx="1415.2" cy="557.1" r="9.8"/><circle cx="928.8" cy="730.0" r="9.8"/><circle cx="1261.5" cy="471.3" r="9.8"/><circle cx="1304.0" cy="505.2" r="9.8"/><circle cx="898.5" cy="552.9" r="9.8"/><circle cx="1126.4" cy="806.1" r="9.8"/><circle cx="1048.1" cy="445.6" r="9.8"/><circle cx="917.0" cy="475.5" r="9.8"/><circle cx="1593.1" cy="608.0" r="9.8"/><circle cx="1379.0" cy="511.9" r="9.8"/><circle cx="1465.5" cy="759.3" r="9.8"/><circle cx="851.7" cy="651.6" r="9.8"/><circle cx="908.0" cy="624.8" r="9.8"/><circle cx="860.1" cy="550.6" r="9.8"/><circle cx="1473.8" cy="677.4" r="9.8"/><circle cx="1507.1" cy="740.7" r="9.8"/><circle cx="933.9" cy="822.2" r="9.8"/><circle cx="852.0" cy="721.2" r="9.8"/><circle cx="1507.6" cy="608.2" r="9.8"/><circle cx="977.6" cy="490.2" r="9.8"/><circle cx="1209.8" cy="472.0" r="9.8"/><circle cx="891.7" cy="538.4" r="9.8"/><circle cx="916.0" cy="565.1" r="9.8"/><circle cx="1325.3" cy="463.2" r="9.8"/><circle cx="1527.2" cy="715.7" r="9.8"/><circle cx="962.9" cy="507.0" r="9.8"/><circle cx="1142.9" cy="505.1" r="9.8"/><circle cx="1447.9" cy="733.1" r="9.8"/><circle cx="1464.2" cy="657.3" r="9.8"/><circle cx="1544.3" cy="668.5" r="9.8"/><circle cx="1087.2" cy="491.8" r="9.8"/><circle cx="1011.5" cy="505.0" r="9.8"/><circle cx="1530.2" cy="663.3" r="9.8"/><circle cx="1491.9" cy="539.2" r="9.8"/><circle cx="1199.0" cy="485.6" r="9.8"/><circle cx="1522.9" cy="662.6" r="9.8"/><circle cx="1195.1" cy="806.2" r="9.8"/><circle cx="929.5" cy="711.4" r="9.8"/><circle cx="956.6" cy="810.5" r="9.8"/><circle cx="814.3" cy="617.0" r="9.8"/><circle cx="1064.2" cy="781.1" r="9.8"/><circle cx="1554.8" cy="717.0" r="9.8"/><circle cx="816.2" cy="669.4" r="9.8"/><circle cx="806.7" cy="633.6" r="9.8"/><circle cx="1353.8" cy="507.8" r="9.8"/><circle cx="979.2" cy="737.4" r="9.8"/><circle cx="950.6" cy="710.2" r="9.8"/><circle cx="1460.7" cy="623.8" r="9.8"/><circle cx="953.8" cy="691.7" r="9.8"/><circle cx="929.7" cy="806.6" r="9.8"/><circle cx="1558.1" cy="680.2" r="9.8"/><circle cx="1550.7" cy="790.0" r="9.8"/><circle cx="1145.1" cy="861.2" r="9.8"/><circle cx="908.4" cy="533.6" r="9.8"/><circle cx="1057.9" cy="486.2" r="9.8"/><circle cx="1172.7" cy="501.6" r="9.8"/><circle cx="1489.8" cy="594.5" r="9.8"/><circle cx="1132.5" cy="444.7" r="9.8"/><circle cx="1483.3" cy="693.6" r="9.8"/><circle cx="1427.1" cy="556.6" r="9.8"/><circle cx="1299.8" cy="493.7" r="9.8"/><circle cx="1146.5" cy="791.5" r="9.8"/><circle cx="932.8" cy="563.1" r="9.8"/><circle cx="1498.8" cy="687.6" r="9.8"/><circle cx="1556.6" cy="727.5" r="9.8"/><circle cx="1594.1" cy="570.6" r="9.8"/><circle cx="987.6" cy="835.5" r="9.8"/><circle cx="966.9" cy="521.5" r="9.8"/><circle cx="986.4" cy="500.3" r="9.8"/><circle cx="975.6" cy="503.2" r="9.8"/><circle cx="1074.5" cy="844.3" r="9.8"/><circle cx="1443.4" cy="509.8" r="9.8"/><circle cx="929.4" cy="519.7" r="9.8"/><circle cx="796.4" cy="626.7" r="9.8"/><circle cx="1416.7" cy="781.1" r="9.8"/><circle cx="982.0" cy="726.4" r="9.8"/><circle cx="1462.0" cy="754.4" r="9.8"/><circle cx="802.1" cy="659.7" r="9.8"/><circle cx="915.5" cy="676.3" r="9.8"/><circle cx="990.4" cy="740.9" r="9.8"/><circle cx="854.9" cy="537.0" r="9.8"/><circle cx="1074.1" cy="828.2" r="9.8"/><circle cx="1118.9" cy="814.8" r="9.8"/><circle cx="869.8" cy="590.1" r="9.8"/><circle cx="1250.5" cy="484.4" r="9.8"/><circle cx="1203.0" cy="459.7" r="9.8"/><circle cx="1405.2" cy="509.7" r="9.8"/><circle cx="1035.2" cy="795.0" r="9.8"/><circle cx="1476.0" cy="680.2" r="9.8"/><circle cx="932.6" cy="804.0" r="9.8"/><circle cx="1128.8" cy="505.7" r="9.8"/><circle cx="1536.5" cy="639.5" r="9.8"/><circle cx="961.8" cy="513.5" r="9.8"/><circle cx="1459.8" cy="632.6" r="9.8"/><circle cx="1001.1" cy="765.5" r="9.8"/><circle cx="1471.0" cy="566.8" r="9.8"/><circle cx="1080.7" cy="851.2" r="9.8"/><circle cx="1082.9" cy="457.9" r="9.8"/><circle cx="1079.6" cy="846.7" r="9.8"/><circle cx="1443.6" cy="825.1" r="9.8"/><circle cx="1173.6" cy="449.6" r="9.8"/><circle cx="1030.8" cy="807.2" r="9.8"/><circle cx="1450.4" cy="829.9" r="9.8"/><circle cx="1061.0" cy="521.5" r="9.8"/><circle cx="1505.4" cy="660.6" r="9.8"/><circle cx="1563.5" cy="644.0" r="9.8"/><circle cx="1203.6" cy="486.8" r="9.8"/><circle cx="1325.9" cy="819.8" r="9.8"/><circle cx="1181.3" cy="829.2" r="9.8"/><circle cx="974.1" cy="716.3" r="9.8"/><circle cx="1567.1" cy="564.1" r="9.8"/><circle cx="1425.1" cy="777.8" r="9.8"/><circle cx="1248.5" cy="783.9" r="9.8"/><circle cx="1498.8" cy="676.0" r="9.8"/><circle cx="1411.0" cy="787.8" r="9.8"/><circle cx="937.1" cy="670.2" r="9.8"/><circle cx="1120.2" cy="510.4" r="9.8"/><circle cx="1438.9" cy="526.9" r="9.8"/><circle cx="1232.6" cy="840.5" r="9.8"/><circle cx="1397.2" cy="785.9" r="9.8"/><circle cx="1456.4" cy="650.3" r="9.8"/><circle cx="901.6" cy="555.6" r="9.8"/><circle cx="1459.2" cy="736.7" r="9.8"/><circle cx="1584.6" cy="759.6" r="9.8"/><circle cx="1390.7" cy="546.3" r="9.8"/><circle cx="1447.1" cy="765.4" r="9.8"/><circle cx="1063.3" cy="791.4" r="9.8"/><circle cx="1274.3" cy="494.4" r="9.8"/><circle cx="1078.7" cy="794.3" r="9.8"/><circle cx="1388.3" cy="489.9" r="9.8"/><circle cx="967.0" cy="713.2" r="9.8"/><circle cx="1226.7" cy="485.1" r="9.8"/><circle cx="1463.0" cy="719.0" r="9.8"/><circle cx="1000.2" cy="738.1" r="9.8"/><circle cx="873.9" cy="603.7" r="9.8"/><circle cx="1037.3" cy="791.5" r="9.8"/><circle cx="1242.3" cy="828.5" r="9.8"/><circle cx="1380.8" cy="513.3" r="9.8"/><circle cx="1464.5" cy="802.5" r="9.8"/><circle cx="1505.6" cy="735.9" r="9.8"/><circle cx="861.6" cy="560.1" r="9.8"/><circle cx="1301.8" cy="468.4" r="9.8"/><circle cx="1317.7" cy="519.4" r="9.8"/><circle cx="1179.8" cy="493.7" r="9.8"/><circle cx="1455.1" cy="794.3" r="9.8"/><circle cx="1444.2" cy="727.8" r="9.8"/><circle cx="1014.6" cy="513.9" r="9.8"/><circle cx="840.7" cy="612.1" r="9.8"/><circle cx="1227.5" cy="478.6" r="9.8"/><circle cx="841.1" cy="653.7" r="9.8"/><circle cx="882.6" cy="729.7" r="9.8"/><circle cx="1260.3" cy="497.3" r="9.8"/><circle cx="1475.2" cy="677.1" r="9.8"/><circle cx="1452.6" cy="780.6" r="9.8"/><circle cx="1459.0" cy="807.5" r="9.8"/><circle cx="1462.3" cy="713.9" r="9.8"/><circle cx="1346.3" cy="516.5" r="9.8"/><circle cx="1541.4" cy="771.3" r="9.8"/><circle cx="1332.7" cy="532.3" r="9.8"/><circle cx="958.5" cy="518.4" r="9.8"/><circle cx="842.1" cy="659.2" r="9.8"/><circle cx="906.5" cy="738.0" r="9.8"/><circle cx="936.5" cy="691.9" r="9.8"/><circle cx="1457.6" cy="692.3" r="9.8"/><circle cx="1115.1" cy="466.6" r="9.8"/><circle cx="1196.9" cy="795.8" r="9.8"/><circle cx="1151.9" cy="785.7" r="9.8"/><circle cx="1460.4" cy="729.1" r="9.8"/><circle cx="876.7" cy="588.1" r="9.8"/><circle cx="841.9" cy="708.0" r="9.8"/><circle cx="1594.5" cy="589.7" r="9.8"/><circle cx="1305.4" cy="515.1" r="9.8"/><circle cx="990.4" cy="732.9" r="9.8"/><circle cx="1367.3" cy="548.9" r="9.8"/><circle cx="1056.3" cy="479.9" r="9.8"/><circle cx="1039.9" cy="521.5" r="9.8"/><circle cx="933.7" cy="777.1" r="9.8"/><circle cx="926.7" cy="727.5" r="9.8"/><circle cx="1452.3" cy="747.9" r="9.8"/><circle cx="968.9" cy="829.5" r="9.8"/><circle cx="891.9" cy="534.2" r="9.8"/><circle cx="1077.2" cy="850.5" r="9.8"/><circle cx="1584.8" cy="742.6" r="9.8"/><circle cx="1466.8" cy="576.6" r="9.8"/><circle cx="1456.1" cy="647.1" r="9.8"/><circle cx="1337.3" cy="454.4" r="9.8"/><circle cx="986.3" cy="532.8" r="9.8"/><circle cx="979.7" cy="737.0" r="9.8"/><circle cx="1519.2" cy="785.5" r="9.8"/><circle cx="935.7" cy="690.2" r="9.8"/><circle cx="959.9" cy="548.0" r="9.8"/><circle cx="840.0" cy="545.0" r="9.8"/><circle cx="1206.2" cy="484.6" r="9.8"/><circle cx="1051.9" cy="491.3" r="9.8"/><circle cx="980.4" cy="492.3" r="9.8"/><circle cx="873.6" cy="734.5" r="9.8"/><circle cx="1519.4" cy="645.3" r="9.8"/><circle cx="908.5" cy="608.6" r="9.8"/><circle cx="936.1" cy="529.5" r="9.8"/><circle cx="851.2" cy="748.4" r="9.8"/><circle cx="974.6" cy="842.3" r="9.8"/><circle cx="1061.3" cy="834.1" r="9.8"/><circle cx="1440.0" cy="522.6" r="9.8"/><circle cx="1354.4" cy="490.5" r="9.8"/><circle cx="924.8" cy="515.5" r="9.8"/><circle cx="1002.4" cy="836.0" r="9.8"/><circle cx="1507.6" cy="601.5" r="9.8"/><circle cx="1297.8" cy="483.5" r="9.8"/><circle cx="891.5" cy="543.8" r="9.8"/><circle cx="1387.8" cy="511.0" r="9.8"/><circle cx="1417.5" cy="785.0" r="9.8"/><circle cx="893.1" cy="585.0" r="9.8"/><circle cx="866.9" cy="517.5" r="9.8"/><circle cx="995.4" cy="482.9" r="9.8"/><circle cx="1464.7" cy="741.9" r="9.8"/><circle cx="1326.2" cy="512.9" r="9.8"/><circle cx="894.3" cy="619.5" r="9.8"/><circle cx="1032.7" cy="819.7" r="9.8"/><circle cx="1493.8" cy="571.9" r="9.8"/><circle cx="1005.4" cy="814.7" r="9.8"/><circle cx="1378.3" cy="473.7" r="9.8"/><circle cx="988.0" cy="521.1" r="9.8"/><circle cx="1172.8" cy="464.9" r="9.8"/><circle cx="1321.7" cy="530.6" r="9.8"/><circle cx="1475.9" cy="760.6" r="9.8"/><circle cx="917.3" cy="583.6" r="9.8"/><circle cx="946.7" cy="487.4" r="9.8"/><circle cx="924.6" cy="716.6" r="9.8"/><circle cx="1469.5" cy="795.6" r="9.8"/><circle cx="1466.1" cy="686.2" r="9.8"/><circle cx="916.2" cy="584.4" r="9.8"/><circle cx="960.2" cy="556.8" r="9.8"/><circle cx="1448.1" cy="807.0" r="9.8"/><circle cx="1170.2" cy="412.7" r="9.8"/><circle cx="871.9" cy="646.4" r="9.8"/><circle cx="1488.1" cy="593.3" r="9.8"/><circle cx="1241.8" cy="801.9" r="9.8"/><circle cx="1091.7" cy="500.7" r="9.8"/><circle cx="1439.9" cy="733.4" r="9.8"/><circle cx="817.8" cy="641.4" r="9.8"/><circle cx="1455.9" cy="699.5" r="9.8"/><circle cx="1213.2" cy="810.8" r="9.8"/><circle cx="1482.4" cy="636.9" r="9.8"/><circle cx="1599.1" cy="567.5" r="9.8"/><circle cx="1223.2" cy="791.5" r="9.8"/><circle cx="816.0" cy="681.0" r="9.8"/><circle cx="1121.8" cy="459.9" r="9.8"/><circle cx="1428.9" cy="771.2" r="9.8"/><circle cx="843.3" cy="697.8" r="9.8"/><circle cx="1444.5" cy="723.6" r="9.8"/><circle cx="1321.8" cy="794.2" r="9.8"/><circle cx="1339.4" cy="787.0" r="9.8"/><circle cx="899.5" cy="685.8" r="9.8"/><circle cx="1136.8" cy="845.0" r="9.8"/><circle cx="1573.3" cy="754.6" r="9.8"/><circle cx="1326.8" cy="438.5" r="9.8"/><circle cx="1006.5" cy="811.4" r="9.8"/><circle cx="1519.9" cy="770.2" r="9.8"/><circle cx="1487.2" cy="713.3" r="9.8"/><circle cx="1289.4" cy="525.4" r="9.8"/><circle cx="1478.9" cy="721.4" r="9.8"/><circle cx="1142.4" cy="487.1" r="9.8"/><circle cx="1015.1" cy="477.8" r="9.8"/><circle cx="1303.2" cy="800.5" r="9.8"/><circle cx="1524.4" cy="616.3" r="9.8"/><circle cx="834.9" cy="568.0" r="9.8"/><circle cx="1079.2" cy="487.1" r="9.8"/><circle cx="1419.6" cy="820.4" r="9.8"/><circle cx="1340.9" cy="783.9" r="9.8"/><circle cx="1212.0" cy="841.7" r="9.8"/><circle cx="1205.3" cy="500.0" r="9.8"/><circle cx="1447.7" cy="648.5" r="9.8"/><circle cx="1078.9" cy="498.9" r="9.8"/><circle cx="1542.1" cy="613.1" r="9.8"/><circle cx="858.7" cy="609.5" r="9.8"/><circle cx="936.6" cy="755.1" r="9.8"/><circle cx="1311.9" cy="483.2" r="9.8"/><circle cx="1448.4" cy="665.7" r="9.8"/><circle cx="1195.3" cy="787.4" r="9.8"/><circle cx="1306.1" cy="469.2" r="9.8"/><circle cx="1587.4" cy="674.0" r="9.8"/><circle cx="1219.8" cy="847.1" r="9.8"/><circle cx="1300.0" cy="823.7" r="9.8"/><circle cx="858.1" cy="505.8" r="9.8"/><circle cx="949.8" cy="722.5" r="9.8"/><circle cx="1500.5" cy="690.7" r="9.8"/><circle cx="1410.8" cy="524.1" r="9.8"/><circle cx="1605.9" cy="630.9" r="9.8"/><circle cx="1394.0" cy="838.3" r="9.8"/><circle cx="1457.1" cy="571.5" r="9.8"/><circle cx="1564.2" cy="651.1" r="9.8"/><circle cx="1509.3" cy="535.1" r="9.8"/><circle cx="1102.7" cy="849.7" r="9.8"/><circle cx="886.2" cy="618.6" r="9.8"/><circle cx="1337.5" cy="515.5" r="9.8"/><circle cx="1240.5" cy="817.9" r="9.8"/><circle cx="1269.0" cy="517.6" r="9.8"/><circle cx="1502.4" cy="515.8" r="9.8"/><circle cx="1046.5" cy="846.3" r="9.8"/><circle cx="1093.8" cy="506.6" r="9.8"/><circle cx="1357.9" cy="520.9" r="9.8"/><circle cx="993.4" cy="736.6" r="9.8"/><circle cx="1380.7" cy="527.4" r="9.8"/><circle cx="1163.0" cy="437.3" r="9.8"/><circle cx="876.5" cy="558.0" r="9.8"/><circle cx="1160.2" cy="799.9" r="9.8"/><circle cx="1519.4" cy="558.5" r="9.8"/><circle cx="989.0" cy="728.2" r="9.8"/><circle cx="987.5" cy="761.7" r="9.8"/><circle cx="1328.6" cy="520.9" r="9.8"/><circle cx="1476.7" cy="823.2" r="9.8"/><circle cx="868.1" cy="554.1" r="9.8"/><circle cx="1483.2" cy="765.5" r="9.8"/><circle cx="1423.0" cy="554.8" r="9.8"/><circle cx="934.5" cy="702.1" r="9.8"/><circle cx="948.1" cy="829.7" r="9.8"/><circle cx="1025.1" cy="494.0" r="9.8"/><circle cx="1162.7" cy="478.9" r="9.8"/><circle cx="943.9" cy="698.5" r="9.8"/><circle cx="1005.6" cy="497.7" r="9.8"/><circle cx="1340.3" cy="435.9" r="9.8"/><circle cx="1481.5" cy="586.9" r="9.8"/><circle cx="985.0" cy="529.3" r="9.8"/><circle cx="1205.8" cy="822.3" r="9.8"/><circle cx="1279.5" cy="436.4" r="9.8"/><circle cx="1306.0" cy="865.6" r="9.8"/><circle cx="942.0" cy="546.3" r="9.8"/><circle cx="1420.7" cy="842.8" r="9.8"/><circle cx="1034.6" cy="522.1" r="9.8"/><circle cx="868.2" cy="529.0" r="9.8"/><circle cx="1435.7" cy="825.1" r="9.8"/><circle cx="1175.0" cy="855.1" r="9.8"/><circle cx="1525.7" cy="775.2" r="9.8"/><circle cx="1227.7" cy="475.2" r="9.8"/><circle cx="935.5" cy="687.8" r="9.8"/><circle cx="1096.5" cy="816.0" r="9.8"/><circle cx="939.3" cy="746.4" r="9.8"/><circle cx="1293.7" cy="450.7" r="9.8"/><circle cx="1470.1" cy="600.6" r="9.8"/><circle cx="1007.8" cy="787.7" r="9.8"/><circle cx="953.4" cy="488.6" r="9.8"/><circle cx="1083.6" cy="808.4" r="9.8"/><circle cx="1457.9" cy="743.5" r="9.8"/><circle cx="1034.2" cy="509.2" r="9.8"/><circle cx="1142.6" cy="815.4" r="9.8"/><circle cx="1201.8" cy="420.2" r="9.8"/><circle cx="1395.5" cy="534.6" r="9.8"/><circle cx="1011.4" cy="770.3" r="9.8"/><circle cx="1276.3" cy="470.9" r="9.8"/><circle cx="921.8" cy="651.2" r="9.8"/><circle cx="1184.4" cy="802.5" r="9.8"/><circle cx="1040.3" cy="505.0" r="9.8"/><circle cx="856.5" cy="512.0" r="9.8"/><circle cx="1185.8" cy="837.7" r="9.8"/><circle cx="968.1" cy="749.0" r="9.8"/><circle cx="1284.1" cy="778.1" r="9.8"/><circle cx="1172.1" cy="431.8" r="9.8"/><circle cx="879.3" cy="581.6" r="9.8"/><circle cx="959.4" cy="742.9" r="9.8"/><circle cx="912.8" cy="810.9" r="9.8"/><circle cx="939.0" cy="735.3" r="9.8"/><circle cx="1286.3" cy="811.9" r="9.8"/><circle cx="996.8" cy="529.0" r="9.8"/><circle cx="879.7" cy="517.1" r="9.8"/><circle cx="1554.9" cy="553.2" r="9.8"/><circle cx="1333.3" cy="796.1" r="9.8"/><circle cx="869.9" cy="544.7" r="9.8"/><circle cx="1558.6" cy="632.8" r="9.8"/><circle cx="1486.7" cy="733.1" r="9.8"/><circle cx="1490.9" cy="738.7" r="9.8"/><circle cx="1497.7" cy="812.1" r="9.8"/><circle cx="1313.2" cy="780.1" r="9.8"/><circle cx="1071.5" cy="815.6" r="9.8"/><circle cx="1412.4" cy="825.5" r="9.8"/><circle cx="1220.2" cy="838.9" r="9.8"/><circle cx="1349.5" cy="846.3" r="9.8"/><circle cx="966.9" cy="724.2" r="9.8"/><circle cx="1287.9" cy="806.4" r="9.8"/><circle cx="1358.8" cy="516.3" r="9.8"/><circle cx="1256.6" cy="803.4" r="9.8"/><circle cx="866.8" cy="723.9" r="9.8"/><circle cx="1472.2" cy="668.2" r="9.8"/><circle cx="952.1" cy="761.8" r="9.8"/><circle cx="1092.8" cy="857.6" r="9.8"/><circle cx="1492.2" cy="560.5" r="9.8"/><circle cx="1079.2" cy="486.8" r="9.8"/><circle cx="879.8" cy="713.0" r="9.8"/><circle cx="935.5" cy="566.2" r="9.8"/><circle cx="1421.7" cy="805.2" r="9.8"/><circle cx="1468.9" cy="622.5" r="9.8"/><circle cx="870.2" cy="642.8" r="9.8"/><circle cx="1473.3" cy="798.6" r="9.8"/><circle cx="1451.7" cy="770.0" r="9.8"/><circle cx="1292.8" cy="484.3" r="9.8"/><circle cx="1052.0" cy="518.4" r="9.8"/><circle cx="951.5" cy="747.5" r="9.8"/><circle cx="1481.9" cy="707.2" r="9.8"/><circle cx="1504.8" cy="599.4" r="9.8"/><circle cx="1302.1" cy="510.7" r="9.8"/><circle cx="890.6" cy="658.5" r="9.8"/><circle cx="917.0" cy="533.7" r="9.8"/><circle cx="1178.4" cy="479.7" r="9.8"/><circle cx="1015.2" cy="796.0" r="9.8"/><circle cx="1502.8" cy="811.7" r="9.8"/><circle cx="1324.4" cy="506.4" r="9.8"/><circle cx="871.6" cy="627.9" r="9.8"/><circle cx="1382.3" cy="530.6" r="9.8"/><circle cx="1328.7" cy="509.6" r="9.8"/><circle cx="1460.4" cy="666.6" r="9.8"/><circle cx="1251.1" cy="491.9" r="9.8"/><circle cx="1527.8" cy="719.0" r="9.8"/><circle cx="899.7" cy="598.6" r="9.8"/><circle cx="1439.6" cy="485.7" r="9.8"/><circle cx="852.6" cy="658.1" r="9.8"/><circle cx="841.3" cy="556.1" r="9.8"/><circle cx="905.0" cy="529.0" r="9.8"/><circle cx="957.3" cy="732.5" r="9.8"/><circle cx="805.9" cy="595.1" r="9.8"/><circle cx="929.4" cy="535.8" r="9.8"/><circle cx="1472.4" cy="726.6" r="9.8"/><circle cx="1023.5" cy="448.6" r="9.8"/><circle cx="887.8" cy="557.1" r="9.8"/><circle cx="1516.7" cy="676.9" r="9.8"/><circle cx="1306.7" cy="476.7" r="9.8"/><circle cx="1098.4" cy="515.0" r="9.8"/><circle cx="1544.6" cy="648.8" r="9.8"/><circle cx="1327.7" cy="797.6" r="9.8"/><circle cx="1412.3" cy="494.0" r="9.8"/><circle cx="1451.9" cy="572.8" r="9.8"/><circle cx="1016.2" cy="798.0" r="9.8"/><circle cx="1493.2" cy="788.5" r="9.8"/><circle cx="1224.8" cy="791.0" r="9.8"/><circle cx="1283.8" cy="464.5" r="9.8"/><circle cx="1491.9" cy="638.2" r="9.8"/><circle cx="932.0" cy="663.5" r="9.8"/><circle cx="1443.6" cy="496.8" r="9.8"/><circle cx="905.4" cy="582.8" r="9.8"/><circle cx="1225.0" cy="460.3" r="9.8"/><circle cx="1505.7" cy="762.7" r="9.8"/><circle cx="1136.3" cy="794.9" r="9.8"/><circle cx="1499.2" cy="755.6" r="9.8"/><circle cx="1510.7" cy="659.5" r="9.8"/><circle cx="1313.0" cy="808.7" r="9.8"/><circle cx="917.3" cy="531.7" r="9.8"/><circle cx="989.3" cy="729.1" r="9.8"/><circle cx="918.2" cy="497.7" r="9.8"/><circle cx="1409.0" cy="546.5" r="9.8"/><circle cx="1454.3" cy="803.4" r="9.8"/><circle cx="1469.7" cy="661.9" r="9.8"/><circle cx="980.1" cy="748.1" r="9.8"/><circle cx="1471.6" cy="629.3" r="9.8"/><circle cx="1236.2" cy="791.1" r="9.8"/><circle cx="933.0" cy="790.5" r="9.8"/><circle cx="1218.9" cy="822.5" r="9.8"/><circle cx="946.0" cy="727.9" r="9.8"/><circle cx="1060.9" cy="514.7" r="9.8"/><circle cx="1277.4" cy="492.7" r="9.8"/><circle cx="909.6" cy="539.4" r="9.8"/><circle cx="839.9" cy="731.8" r="9.8"/><circle cx="980.4" cy="826.8" r="9.8"/><circle cx="1461.6" cy="542.5" r="9.8"/><circle cx="1411.8" cy="775.9" r="9.8"/><circle cx="1495.5" cy="644.5" r="9.8"/><circle cx="1519.6" cy="696.7" r="9.8"/><circle cx="788.6" cy="619.5" r="9.8"/><circle cx="1202.0" cy="452.6" r="9.8"/><circle cx="1528.2" cy="528.0" r="9.8"/><circle cx="896.7" cy="630.2" r="9.8"/><circle cx="1251.8" cy="850.8" r="9.8"/><circle cx="1480.0" cy="671.8" r="9.8"/><circle cx="1132.2" cy="475.4" r="9.8"/><circle cx="1008.4" cy="752.4" r="9.8"/><circle cx="1542.6" cy="571.1" r="9.8"/><circle cx="1537.5" cy="643.8" r="9.8"/><circle cx="1367.5" cy="544.8" r="9.8"/><circle cx="918.0" cy="746.1" r="9.8"/><circle cx="847.8" cy="532.8" r="9.8"/><circle cx="1162.3" cy="822.4" r="9.8"/><circle cx="1531.8" cy="574.7" r="9.8"/><circle cx="1469.3" cy="607.5" r="9.8"/><circle cx="985.3" cy="502.7" r="9.8"/><circle cx="1147.3" cy="819.5" r="9.8"/><circle cx="836.5" cy="643.6" r="9.8"/><circle cx="1089.0" cy="496.2" r="9.8"/><circle cx="1526.8" cy="719.7" r="9.8"/><circle cx="970.0" cy="506.1" r="9.8"/><circle cx="950.0" cy="560.3" r="9.8"/><circle cx="1554.2" cy="650.1" r="9.8"/><circle cx="962.6" cy="496.5" r="9.8"/><circle cx="1563.1" cy="536.4" r="9.8"/><circle cx="946.7" cy="739.2" r="9.8"/><circle cx="994.0" cy="804.4" r="9.8"/><circle cx="932.5" cy="768.4" r="9.8"/><circle cx="1448.6" cy="643.8" r="9.8"/><circle cx="1453.2" cy="672.1" r="9.8"/><circle cx="1397.8" cy="539.4" r="9.8"/><circle cx="1478.3" cy="803.4" r="9.8"/><circle cx="909.1" cy="596.9" r="9.8"/><circle cx="868.7" cy="610.4" r="9.8"/><circle cx="836.9" cy="648.6" r="9.8"/><circle cx="928.3" cy="737.6" r="9.8"/><circle cx="1291.1" cy="788.5" r="9.8"/><circle cx="1474.8" cy="544.2" r="9.8"/><circle cx="1523.0" cy="556.9" r="9.8"/><circle cx="1001.0" cy="730.9" r="9.8"/><circle cx="1350.8" cy="505.8" r="9.8"/><circle cx="1468.9" cy="586.4" r="9.8"/><circle cx="919.3" cy="628.3" r="9.8"/><circle cx="937.9" cy="826.7" r="9.8"/><circle cx="925.7" cy="820.2" r="9.8"/><circle cx="1379.8" cy="463.5" r="9.8"/><circle cx="1203.1" cy="424.2" r="9.8"/><circle cx="1322.1" cy="791.0" r="9.8"/><circle cx="1273.9" cy="836.5" r="9.8"/><circle cx="1274.4" cy="783.9" r="9.8"/><circle cx="1468.7" cy="652.1" r="9.8"/><circle cx="1435.0" cy="509.0" r="9.8"/><circle cx="1553.9" cy="768.6" r="9.8"/><circle cx="1434.0" cy="769.3" r="9.8"/><circle cx="1003.3" cy="738.7" r="9.8"/><circle cx="1188.9" cy="488.5" r="9.8"/><circle cx="1458.0" cy="566.3" r="9.8"/><circle cx="858.0" cy="514.9" r="9.8"/><circle cx="1312.6" cy="806.4" r="9.8"/><circle cx="1466.3" cy="550.8" r="9.8"/><circle cx="1074.9" cy="804.9" r="9.8"/><circle cx="1157.5" cy="504.0" r="9.8"/><circle cx="1081.6" cy="450.6" r="9.8"/><circle cx="921.9" cy="644.6" r="9.8"/><circle cx="1086.1" cy="485.3" r="9.8"/><circle cx="1473.8" cy="583.7" r="9.8"/><circle cx="1316.5" cy="463.0" r="9.8"/><circle cx="1251.4" cy="792.5" r="9.8"/><circle cx="1248.7" cy="819.9" r="9.8"/><circle cx="904.0" cy="649.6" r="9.8"/><circle cx="1412.4" cy="526.0" r="9.8"/><circle cx="867.9" cy="560.5" r="9.8"/><circle cx="1211.2" cy="477.1" r="9.8"/><circle cx="1308.9" cy="508.2" r="9.8"/><circle cx="1499.0" cy="571.9" r="9.8"/><circle cx="1217.0" cy="808.3" r="9.8"/><circle cx="902.2" cy="740.4" r="9.8"/><circle cx="1590.6" cy="648.4" r="9.8"/><circle cx="990.5" cy="830.3" r="9.8"/><circle cx="1012.1" cy="498.1" r="9.8"/><circle cx="1506.8" cy="550.2" r="9.8"/><circle cx="1290.1" cy="498.7" r="9.8"/><circle cx="971.3" cy="537.0" r="9.8"/><circle cx="1544.4" cy="551.8" r="9.8"/><circle cx="872.5" cy="794.3" r="9.8"/><circle cx="1490.5" cy="594.2" r="9.8"/><circle cx="922.4" cy="712.0" r="9.8"/><circle cx="1180.5" cy="789.8" r="9.8"/><circle cx="1123.4" cy="833.7" r="9.8"/><circle cx="868.2" cy="614.0" r="9.8"/><circle cx="1315.7" cy="536.4" r="9.8"/><circle cx="917.9" cy="639.5" r="9.8"/><circle cx="1189.9" cy="499.4" r="9.8"/><circle cx="903.7" cy="616.1" r="9.8"/><circle cx="1024.5" cy="861.7" r="9.8"/><circle cx="1143.9" cy="890.3" r="9.8"/><circle cx="740.7" cy="682.0" r="9.8"/><circle cx="1596.6" cy="526.7" r="9.8"/><circle cx="1341.7" cy="423.0" r="9.8"/><circle cx="859.0" cy="790.9" r="9.8"/><circle cx="1659.5" cy="681.9" r="9.8"/><circle cx="1502.6" cy="473.1" r="9.8"/><circle cx="717.1" cy="755.9" r="9.8"/><circle cx="1053.8" cy="872.3" r="9.8"/><circle cx="1627.5" cy="484.7" r="9.8"/><circle cx="910.3" cy="419.0" r="9.8"/><circle cx="1473.1" cy="450.5" r="9.8"/><circle cx="1138.6" cy="868.7" r="9.8"/><circle cx="1626.1" cy="603.4" r="9.8"/><circle cx="771.3" cy="509.2" r="9.8"/><circle cx="1628.0" cy="570.1" r="9.8"/><circle cx="1633.3" cy="660.8" r="9.8"/><circle cx="1650.3" cy="806.4" r="9.8"/><circle cx="1564.4" cy="497.0" r="9.8"/><circle cx="1719.8" cy="614.1" r="9.8"/><circle cx="762.1" cy="608.4" r="9.8"/><circle cx="931.9" cy="856.5" r="9.8"/><circle cx="1557.1" cy="475.1" r="9.8"/><circle cx="1671.2" cy="619.4" r="9.8"/><circle cx="1295.7" cy="428.3" r="9.8"/><circle cx="1045.6" cy="870.0" r="9.8"/><circle cx="954.6" cy="863.8" r="9.8"/><circle cx="1459.6" cy="859.8" r="9.8"/><circle cx="1444.3" cy="419.0" r="9.8"/><circle cx="1641.2" cy="643.8" r="9.8"/><circle cx="844.6" cy="467.9" r="9.8"/><circle cx="833.8" cy="789.8" r="9.8"/><circle cx="1499.1" cy="847.8" r="9.8"/><circle cx="1694.8" cy="648.3" r="9.8"/><circle cx="1415.8" cy="460.8" r="9.8"/><circle cx="950.2" cy="406.9" r="9.8"/><circle cx="1583.3" cy="519.3" r="9.8"/><circle cx="765.7" cy="510.6" r="9.8"/><circle cx="1231.7" cy="869.5" r="9.8"/><circle cx="1423.8" cy="376.5" r="9.8"/><circle cx="1072.6" cy="416.9" r="9.8"/><circle cx="1495.6" cy="472.8" r="9.8"/><circle cx="1430.9" cy="868.8" r="9.8"/><circle cx="906.2" cy="860.4" r="9.8"/><circle cx="1635.0" cy="624.7" r="9.8"/><circle cx="790.7" cy="554.0" r="9.8"/><circle cx="743.8" cy="673.1" r="9.8"/><circle cx="716.3" cy="726.8" r="9.8"/><circle cx="1215.5" cy="867.3" r="9.8"/><circle cx="1083.3" cy="871.6" r="9.8"/><circle cx="942.3" cy="450.7" r="9.8"/><circle cx="1168.2" cy="900.4" r="9.8"/><circle cx="1078.6" cy="864.0" r="9.8"/><circle cx="1634.3" cy="785.0" r="9.8"/><circle cx="1528.0" cy="820.0" r="9.8"/><circle cx="1551.6" cy="481.2" r="9.8"/><circle cx="1268.5" cy="885.4" r="9.8"/><circle cx="1651.0" cy="652.0" r="9.8"/><circle cx="784.4" cy="757.1" r="9.8"/><circle cx="1647.7" cy="749.5" r="9.8"/><circle cx="1265.8" cy="896.5" r="9.8"/><circle cx="705.2" cy="565.8" r="9.8"/><circle cx="666.4" cy="593.3" r="9.8"/><circle cx="1628.5" cy="745.5" r="9.8"/><circle cx="757.4" cy="553.4" r="9.8"/><circle cx="1697.1" cy="669.0" r="9.8"/><circle cx="1590.5" cy="501.9" r="9.8"/><circle cx="744.3" cy="707.3" r="9.8"/><circle cx="1454.3" cy="841.1" r="9.8"/><circle cx="751.9" cy="519.8" r="9.8"/><circle cx="1450.7" cy="456.7" r="9.8"/><circle cx="762.9" cy="772.3" r="9.8"/><circle cx="898.5" cy="862.5" r="9.8"/><circle cx="827.6" cy="742.1" r="9.8"/><circle cx="1331.1" cy="428.4" r="9.8"/><circle cx="773.7" cy="679.6" r="9.8"/><circle cx="835.9" cy="820.8" r="9.8"/><circle cx="1651.3" cy="571.7" r="9.8"/><circle cx="1149.1" cy="886.3" r="9.8"/><circle cx="1662.5" cy="697.9" r="9.8"/><circle cx="1275.4" cy="893.1" r="9.8"/><circle cx="1225.8" cy="875.7" r="9.8"/><circle cx="1491.5" cy="432.9" r="9.8"/><circle cx="1646.3" cy="732.8" r="9.8"/><circle cx="1568.2" cy="492.6" r="9.8"/><circle cx="1476.1" cy="432.0" r="9.8"/><circle cx="1420.9" cy="866.8" r="9.8"/><circle cx="1429.3" cy="447.1" r="9.8"/><circle cx="1642.7" cy="663.9" r="9.8"/><circle cx="1648.7" cy="785.2" r="9.8"/><circle cx="1574.4" cy="456.2" r="9.8"/><circle cx="821.6" cy="757.3" r="9.8"/><circle cx="1405.8" cy="386.0" r="9.8"/><circle cx="1132.0" cy="895.3" r="9.8"/><circle cx="1151.6" cy="892.0" r="9.8"/><circle cx="842.9" cy="439.5" r="9.8"/><circle cx="1419.0" cy="379.5" r="9.8"/><circle cx="1022.1" cy="400.4" r="9.8"/><circle cx="1629.8" cy="718.0" r="9.8"/><circle cx="1660.2" cy="546.7" r="9.8"/><circle cx="831.0" cy="440.2" r="9.8"/><circle cx="1561.9" cy="486.9" r="9.8"/><circle cx="1582.0" cy="795.4" r="9.8"/><circle cx="1572.5" cy="447.2" r="9.8"/><circle cx="789.9" cy="787.1" r="9.8"/><circle cx="769.4" cy="519.0" r="9.8"/><circle cx="1543.6" cy="455.0" r="9.8"/><circle cx="1524.1" cy="470.4" r="9.8"/><circle cx="1262.8" cy="889.3" r="9.8"/><circle cx="817.7" cy="752.5" r="9.8"/><circle cx="946.7" cy="416.2" r="9.8"/><circle cx="1628.1" cy="661.1" r="9.8"/><circle cx="734.1" cy="732.5" r="9.8"/><circle cx="978.7" cy="440.9" r="9.8"/><circle cx="1588.6" cy="763.4" r="9.8"/><circle cx="1140.6" cy="872.6" r="9.8"/><circle cx="1615.2" cy="718.4" r="9.8"/><circle cx="939.2" cy="447.3" r="9.8"/><circle cx="1412.4" cy="462.1" r="9.8"/><circle cx="730.9" cy="699.0" r="9.8"/><circle cx="1592.7" cy="496.6" r="9.8"/><circle cx="941.6" cy="849.4" r="9.8"/><circle cx="1645.0" cy="669.9" r="9.8"/><circle cx="1494.9" cy="834.4" r="9.8"/><circle cx="1212.6" cy="882.6" r="9.8"/><circle cx="1077.4" cy="423.7" r="9.8"/><circle cx="1308.3" cy="391.8" r="9.8"/><circle cx="1595.8" cy="764.3" r="9.8"/><circle cx="1412.2" cy="461.4" r="9.8"/><circle cx="1531.8" cy="423.0" r="9.8"/><circle cx="1081.8" cy="412.6" r="9.8"/><circle cx="1476.7" cy="458.7" r="9.8"/><circle cx="765.7" cy="528.3" r="9.8"/><circle cx="668.1" cy="651.1" r="9.8"/><circle cx="1620.8" cy="482.8" r="9.8"/><circle cx="1606.3" cy="801.4" r="9.8"/><circle cx="1318.7" cy="419.9" r="9.8"/><circle cx="744.7" cy="637.6" r="9.8"/><circle cx="766.5" cy="516.5" r="9.8"/><circle cx="789.4" cy="471.5" r="9.8"/><circle cx="1195.7" cy="874.0" r="9.8"/><circle cx="1618.3" cy="755.2" r="9.8"/><circle cx="1650.1" cy="747.8" r="9.8"/><circle cx="1361.5" cy="390.9" r="9.8"/><circle cx="1331.6" cy="429.8" r="9.8"/><circle cx="1640.0" cy="794.5" r="9.8"/><circle cx="762.9" cy="735.5" r="9.8"/><circle cx="738.9" cy="596.0" r="9.8"/><circle cx="686.9" cy="586.4" r="9.8"/><circle cx="1402.9" cy="400.2" r="9.8"/><circle cx="754.7" cy="493.9" r="9.8"/><circle cx="723.6" cy="600.6" r="9.8"/><circle cx="1597.3" cy="460.9" r="9.8"/><circle cx="1592.2" cy="530.9" r="9.8"/><circle cx="1522.6" cy="489.0" r="9.8"/><circle cx="1638.5" cy="717.6" r="9.8"/><circle cx="1463.1" cy="440.4" r="9.8"/><circle cx="1650.7" cy="721.0" r="9.8"/><circle cx="699.0" cy="587.3" r="9.8"/><circle cx="1668.1" cy="559.4" r="9.8"/><circle cx="1741.2" cy="664.1" r="9.8"/><circle cx="753.8" cy="612.8" r="9.8"/><circle cx="1554.8" cy="439.5" r="9.8"/><circle cx="967.6" cy="858.7" r="9.8"/><circle cx="821.2" cy="487.3" r="9.8"/><circle cx="782.5" cy="770.7" r="9.8"/><circle cx="1471.0" cy="854.4" r="9.8"/><circle cx="850.3" cy="759.7" r="9.8"/><circle cx="1589.2" cy="782.1" r="9.8"/><circle cx="788.3" cy="746.0" r="9.8"/><circle cx="727.0" cy="738.2" r="9.8"/><circle cx="1645.3" cy="721.9" r="9.8"/><circle cx="1485.4" cy="852.4" r="9.8"/><circle cx="849.9" cy="495.9" r="9.8"/><circle cx="1065.7" cy="398.0" r="9.8"/><circle cx="802.2" cy="778.0" r="9.8"/><circle cx="1013.2" cy="880.5" r="9.8"/><circle cx="1418.4" cy="442.2" r="9.8"/><circle cx="1614.3" cy="529.9" r="9.8"/><circle cx="1496.6" cy="851.1" r="9.8"/><circle cx="964.1" cy="865.4" r="9.8"/><circle cx="1385.3" cy="864.1" r="9.8"/><circle cx="1656.7" cy="668.8" r="9.8"/><circle cx="1130.8" cy="888.9" r="9.8"/><circle cx="924.3" cy="444.7" r="9.8"/><circle cx="1639.1" cy="556.3" r="9.8"/><circle cx="1411.1" cy="433.2" r="9.8"/><circle cx="1584.4" cy="533.1" r="9.8"/><circle cx="721.6" cy="663.1" r="9.8"/><circle cx="1701.4" cy="621.9" r="9.8"/><circle cx="1726.3" cy="573.6" r="9.8"/><circle cx="1590.8" cy="457.4" r="9.8"/><circle cx="1344.4" cy="406.6" r="9.8"/><circle cx="1569.6" cy="800.7" r="9.8"/><circle cx="1581.3" cy="515.6" r="9.8"/><circle cx="724.8" cy="675.7" r="9.8"/><circle cx="1649.5" cy="519.6" r="9.8"/><circle cx="928.8" cy="862.6" r="9.8"/><circle cx="726.6" cy="642.8" r="9.8"/><circle cx="1551.1" cy="461.2" r="9.8"/><circle cx="1464.1" cy="392.5" r="9.8"/><circle cx="735.3" cy="710.2" r="9.8"/><circle cx="1697.5" cy="567.3" r="9.8"/><circle cx="1634.9" cy="563.6" r="9.8"/><circle cx="783.9" cy="701.6" r="9.8"/><circle cx="1580.1" cy="810.4" r="9.8"/><circle cx="1004.5" cy="421.1" r="9.8"/><circle cx="1158.6" cy="875.7" r="9.8"/><circle cx="1335.7" cy="394.6" r="9.8"/><circle cx="1642.6" cy="708.5" r="9.8"/><circle cx="1311.2" cy="421.5" r="9.8"/><circle cx="1060.0" cy="858.7" r="9.8"/><circle cx="1499.7" cy="427.1" r="9.8"/><circle cx="706.0" cy="668.7" r="9.8"/><circle cx="890.8" cy="849.0" r="9.8"/><circle cx="1529.1" cy="470.8" r="9.8"/><circle cx="839.1" cy="768.5" r="9.8"/><circle cx="1561.8" cy="806.8" r="9.8"/><circle cx="1038.5" cy="866.8" r="9.8"/><circle cx="1500.1" cy="451.6" r="9.8"/><circle cx="1630.9" cy="613.1" r="9.8"/><circle cx="803.3" cy="801.5" r="9.8"/><circle cx="1042.2" cy="427.4" r="9.8"/><circle cx="766.7" cy="604.8" r="9.8"/><circle cx="1260.6" cy="880.3" r="9.8"/><circle cx="1542.4" cy="468.8" r="9.8"/><circle cx="792.7" cy="439.4" r="9.8"/><circle cx="702.9" cy="687.6" r="9.8"/><circle cx="1678.2" cy="612.0" r="9.8"/><circle cx="1584.4" cy="495.4" r="9.8"/><circle cx="1311.2" cy="412.3" r="9.8"/><circle cx="817.7" cy="500.7" r="9.8"/><circle cx="717.3" cy="664.4" r="9.8"/><circle cx="1647.3" cy="576.9" r="9.8"/><circle cx="1291.3" cy="373.8" r="9.8"/><circle cx="1462.9" cy="854.3" r="9.8"/><circle cx="1628.8" cy="674.1" r="9.8"/><circle cx="1501.3" cy="479.1" r="9.8"/><circle cx="1558.9" cy="465.4" r="9.8"/><circle cx="1408.6" cy="445.0" r="9.8"/><circle cx="1145.1" cy="891.9" r="9.8"/><circle cx="1044.3" cy="857.0" r="9.8"/><circle cx="1010.1" cy="414.3" r="9.8"/><circle cx="817.6" cy="472.4" r="9.8"/><circle cx="1392.4" cy="866.5" r="9.8"/><circle cx="961.9" cy="862.7" r="9.8"/><circle cx="1591.5" cy="508.4" r="9.8"/><circle cx="1352.4" cy="381.1" r="9.8"/><circle cx="777.0" cy="506.3" r="9.8"/><circle cx="1266.3" cy="390.6" r="9.8"/><circle cx="1299.8" cy="393.9" r="9.8"/><circle cx="731.7" cy="696.9" r="9.8"/><circle cx="1530.6" cy="472.8" r="9.8"/><circle cx="742.1" cy="767.3" r="9.8"/><circle cx="1601.2" cy="755.8" r="9.8"/><circle cx="1403.9" cy="404.6" r="9.8"/><circle cx="1449.5" cy="844.4" r="9.8"/><circle cx="1431.3" cy="450.5" r="9.8"/><circle cx="1413.8" cy="408.9" r="9.8"/><circle cx="854.8" cy="761.4" r="9.8"/><circle cx="1657.4" cy="644.1" r="9.8"/><circle cx="749.3" cy="488.4" r="9.8"/><circle cx="1693.2" cy="693.3" r="9.8"/><circle cx="1644.0" cy="541.5" r="9.8"/><circle cx="1441.8" cy="459.2" r="9.8"/><circle cx="1408.9" cy="857.0" r="9.8"/><circle cx="794.4" cy="552.0" r="9.8"/><circle cx="1603.8" cy="754.9" r="9.8"/><circle cx="1653.7" cy="663.0" r="9.8"/><circle cx="677.1" cy="645.1" r="9.8"/><circle cx="1078.3" cy="888.5" r="9.8"/><circle cx="662.7" cy="664.0" r="9.8"/><circle cx="1287.7" cy="410.6" r="9.8"/><circle cx="1270.8" cy="383.4" r="9.8"/><circle cx="1416.0" cy="862.2" r="9.8"/><circle cx="1632.5" cy="650.7" r="9.8"/><circle cx="1167.7" cy="891.8" r="9.8"/><circle cx="1603.5" cy="490.4" r="9.8"/><circle cx="1643.0" cy="555.9" r="9.8"/><circle cx="724.2" cy="697.5" r="9.8"/><circle cx="1533.2" cy="440.7" r="9.8"/><circle cx="760.2" cy="541.1" r="9.8"/><circle cx="1398.2" cy="866.1" r="9.8"/><circle cx="1602.6" cy="505.6" r="9.8"/><circle cx="1608.7" cy="811.3" r="9.8"/><circle cx="825.1" cy="443.2" r="9.8"/><circle cx="1590.3" cy="775.6" r="9.8"/><circle cx="1496.5" cy="474.4" r="9.8"/><circle cx="756.8" cy="689.1" r="9.8"/><circle cx="1038.1" cy="400.4" r="9.8"/><circle cx="1643.4" cy="626.0" r="9.8"/><circle cx="1635.3" cy="671.5" r="9.8"/><circle cx="851.2" cy="458.7" r="9.8"/><circle cx="762.6" cy="571.1" r="9.8"/><circle cx="1384.0" cy="384.2" r="9.8"/><circle cx="940.0" cy="851.1" r="9.8"/><circle cx="1524.6" cy="477.1" r="9.8"/><circle cx="1583.9" cy="505.3" r="9.8"/><circle cx="833.8" cy="465.4" r="9.8"/><circle cx="1587.5" cy="474.1" r="9.8"/><circle cx="727.7" cy="593.0" r="9.8"/><circle cx="1470.8" cy="394.6" r="9.8"/><circle cx="1465.7" cy="431.7" r="9.8"/><circle cx="1529.4" cy="867.7" r="9.8"/><circle cx="763.7" cy="567.8" r="9.8"/><circle cx="1569.1" cy="809.4" r="9.8"/><circle cx="1507.9" cy="452.4" r="9.8"/><circle cx="744.0" cy="616.0" r="9.8"/><circle cx="1277.7" cy="371.6" r="9.8"/><circle cx="1482.6" cy="436.3" r="9.8"/><circle cx="1669.6" cy="705.8" r="9.8"/><circle cx="1645.8" cy="555.8" r="9.8"/><circle cx="1437.8" cy="448.2" r="9.8"/><circle cx="813.2" cy="778.5" r="9.8"/><circle cx="995.8" cy="883.3" r="9.8"/><circle cx="1580.3" cy="494.2" r="9.8"/><circle cx="1792.9" cy="643.1" r="9.8"/><circle cx="1057.3" cy="414.0" r="9.8"/><circle cx="825.8" cy="410.1" r="9.8"/><circle cx="876.5" cy="411.7" r="9.8"/><circle cx="918.0" cy="403.0" r="9.8"/><circle cx="847.1" cy="421.3" r="9.8"/><circle cx="843.6" cy="430.4" r="9.8"/><circle cx="889.6" cy="426.9" r="9.8"/><circle cx="913.9" cy="423.3" r="9.8"/><circle cx="793.4" cy="429.4" r="9.8"/><circle cx="810.6" cy="431.4" r="9.8"/><circle cx="821.8" cy="438.5" r="9.8"/><circle cx="783.3" cy="441.9" r="9.8"/><circle cx="759.0" cy="448.6" r="9.8"/><circle cx="769.1" cy="454.3" r="9.8"/><circle cx="762.0" cy="459.7" r="9.8"/><circle cx="803.9" cy="453.1" r="9.8"/><circle cx="824.8" cy="451.6" r="9.8"/><circle cx="829.9" cy="459.7" r="9.8"/><circle cx="855.2" cy="460.8" r="9.8"/><circle cx="873.4" cy="451.6" r="9.8"/><circle cx="885.6" cy="441.5" r="9.8"/><circle cx="896.7" cy="447.6" r="9.8"/><circle cx="905.8" cy="457.7" r="9.8"/><circle cx="833.9" cy="467.8" r="9.8"/><circle cx="871.4" cy="464.8" r="9.8"/><circle cx="915.9" cy="466.8" r="9.8"/><circle cx="748.9" cy="477.0" r="9.8"/><circle cx="760.0" cy="475.3" r="9.8"/><circle cx="747.8" cy="483.0" r="9.8"/><circle cx="759.0" cy="488.5" r="9.8"/><circle cx="797.5" cy="473.9" r="9.8"/><circle cx="809.6" cy="475.9" r="9.8"/><circle cx="814.7" cy="491.1" r="9.8"/><circle cx="837.0" cy="482.0" r="9.8"/><circle cx="857.2" cy="473.9" r="9.8"/><circle cx="855.2" cy="488.1" r="9.8"/><circle cx="891.6" cy="474.9" r="9.8"/><circle cx="881.5" cy="487.1" r="9.8"/><circle cx="865.3" cy="481.0" r="9.8"/><circle cx="903.8" cy="485.1" r="9.8"/><circle cx="913.9" cy="497.2" r="9.8"/><circle cx="775.2" cy="512.0" r="9.8"/><circle cx="702.3" cy="520.1" r="9.8"/><circle cx="696.2" cy="536.1" r="9.8"/><circle cx="725.0" cy="529.6" r="9.8"/><circle cx="741.2" cy="521.5" r="9.8"/><circle cx="748.9" cy="528.6" r="9.8"/><circle cx="757.0" cy="530.6" r="9.8"/><circle cx="786.3" cy="533.7" r="9.8"/><circle cx="802.5" cy="529.6" r="9.8"/><circle cx="834.9" cy="509.4" r="9.8"/><circle cx="830.9" cy="519.5" r="9.8"/><circle cx="853.2" cy="505.3" r="9.8"/><circle cx="891.6" cy="501.3" r="9.8"/><circle cx="818.7" cy="537.7" r="9.8"/><circle cx="845.1" cy="521.5" r="9.8"/><circle cx="865.3" cy="513.4" r="9.8"/><circle cx="875.4" cy="525.6" r="9.8"/><circle cx="710.8" cy="557.4" r="9.8"/><circle cx="674.9" cy="566.5" r="9.8"/><circle cx="685.5" cy="571.5" r="9.8"/><circle cx="741.8" cy="558.0" r="9.8"/><circle cx="749.9" cy="553.9" r="9.8"/><circle cx="757.0" cy="549.9" r="9.8"/><circle cx="778.2" cy="553.9" r="9.8"/><circle cx="755.9" cy="574.2" r="9.8"/><circle cx="739.1" cy="580.9" r="9.8"/><circle cx="792.4" cy="547.8" r="9.8"/><circle cx="764.1" cy="562.0" r="9.8"/><circle cx="772.2" cy="572.2" r="9.8"/><circle cx="784.3" cy="562.0" r="9.8"/><circle cx="693.2" cy="590.4" r="9.8"/><circle cx="700.3" cy="587.3" r="9.8"/><circle cx="709.4" cy="591.4" r="9.8"/><circle cx="724.6" cy="593.4" r="9.8"/><circle cx="752.9" cy="593.4" r="9.8"/><circle cx="666.4" cy="598.5" r="9.8"/><circle cx="673.9" cy="621.8" r="9.8"/><circle cx="683.0" cy="615.7" r="9.8"/><circle cx="689.5" cy="612.3" r="9.8"/><circle cx="720.5" cy="608.6" r="9.8"/><circle cx="727.6" cy="620.8" r="9.8"/><circle cx="748.9" cy="612.7" r="9.8"/><circle cx="733.7" cy="602.5" r="9.8"/><circle cx="764.1" cy="598.5" r="9.8"/><circle cx="772.2" cy="614.7" r="9.8"/><circle cx="640.9" cy="641.0" r="9.8"/><circle cx="647.0" cy="637.0" r="9.8"/><circle cx="675.9" cy="652.2" r="9.8"/><circle cx="681.6" cy="646.7" r="9.8"/><circle cx="712.4" cy="655.2" r="9.8"/><circle cx="720.5" cy="634.9" r="9.8"/><circle cx="739.7" cy="638.0" r="9.8"/><circle cx="745.8" cy="647.1" r="9.8"/><circle cx="727.6" cy="657.2" r="9.8"/><circle cx="755.9" cy="657.2" r="9.8"/><circle cx="768.1" cy="628.9" r="9.8"/><circle cx="772.2" cy="643.0" r="9.8"/><circle cx="660.4" cy="674.0" r="9.8"/><circle cx="678.0" cy="686.0" r="9.8"/><circle cx="696.2" cy="670.4" r="9.8"/><circle cx="699.2" cy="682.5" r="9.8"/><circle cx="708.4" cy="687.6" r="9.8"/><circle cx="723.5" cy="667.3" r="9.8"/><circle cx="743.8" cy="683.5" r="9.8"/><circle cx="753.9" cy="689.6" r="9.8"/><circle cx="725.6" cy="707.8" r="9.8"/><circle cx="748.9" cy="713.9" r="9.8"/><circle cx="675.9" cy="718.0" r="9.8"/><circle cx="733.7" cy="693.7" r="9.8"/><circle cx="784.3" cy="693.7" r="9.8"/><circle cx="810.6" cy="699.7" r="9.8"/><circle cx="788.4" cy="709.9" r="9.8"/><circle cx="764.1" cy="673.4" r="9.8"/><circle cx="774.2" cy="683.5" r="9.8"/><circle cx="568.2" cy="848.7" r="9.8"/><circle cx="655.7" cy="772.5" r="9.8"/><circle cx="677.0" cy="764.8" r="9.8"/><circle cx="712.4" cy="729.2" r="9.8"/><circle cx="726.6" cy="729.2" r="9.8"/><circle cx="732.7" cy="736.3" r="9.8"/><circle cx="733.7" cy="743.4" r="9.8"/><circle cx="711.4" cy="752.7" r="9.8"/><circle cx="726.6" cy="754.5" r="9.8"/><circle cx="756.4" cy="735.9" r="9.8"/><circle cx="800.5" cy="725.1" r="9.8"/><circle cx="777.2" cy="751.5" r="9.8"/><circle cx="786.7" cy="745.0" r="9.8"/><circle cx="750.9" cy="764.6" r="9.8"/><circle cx="764.7" cy="773.3" r="9.8"/><circle cx="731.0" cy="779.4" r="9.8"/><circle cx="729.6" cy="782.8" r="9.8"/><circle cx="700.3" cy="793.6" r="9.8"/><circle cx="701.7" cy="800.1" r="9.8"/><circle cx="725.0" cy="798.4" r="9.8"/><circle cx="749.3" cy="790.3" r="9.8"/><circle cx="758.0" cy="794.4" r="9.8"/><circle cx="784.3" cy="785.3" r="9.8"/><circle cx="792.4" cy="773.7" r="9.8"/><circle cx="798.5" cy="765.6" r="9.8"/><circle cx="805.6" cy="784.9" r="9.8"/><circle cx="815.7" cy="761.6" r="9.8"/><circle cx="820.8" cy="772.7" r="9.8"/><circle cx="837.0" cy="761.6" r="9.8"/><circle cx="835.9" cy="779.8" r="9.8"/><circle cx="844.1" cy="785.9" r="9.8"/><circle cx="849.1" cy="761.6" r="9.8"/><circle cx="824.8" cy="735.3" r="9.8"/><circle cx="845.1" cy="743.4" r="9.8"/><circle cx="855.2" cy="745.4" r="9.8"/><circle cx="687.9" cy="822.7" r="9.8"/><circle cx="716.1" cy="838.7" r="9.8"/><circle cx="799.1" cy="810.6" r="9.8"/><circle cx="802.5" cy="829.4" r="9.8"/><circle cx="799.1" cy="846.0" r="9.8"/><circle cx="821.8" cy="838.5" r="9.8"/><circle cx="829.9" cy="826.0" r="9.8"/><circle cx="828.9" cy="814.2" r="9.8"/><circle cx="835.9" cy="807.2" r="9.8"/><circle cx="846.1" cy="811.2" r="9.8"/><circle cx="853.2" cy="810.2" r="9.8"/><circle cx="853.8" cy="835.5" r="9.8"/><circle cx="841.0" cy="849.7" r="9.8"/><circle cx="878.5" cy="822.3" r="9.8"/><circle cx="895.7" cy="845.6" r="9.8"/><circle cx="884.6" cy="869.3" r="9.8"/><circle cx="896.7" cy="866.9" r="9.8"/><circle cx="910.9" cy="860.2" r="9.8"/><circle cx="851.7" cy="877.0" r="9.8"/><circle cx="706.9" cy="877.6" r="9.8"/><circle cx="782.3" cy="882.1" r="9.8"/><circle cx="860.3" cy="902.9" r="9.8"/><circle cx="847.1" cy="919.6" r="9.8"/><circle cx="853.8" cy="926.6" r="9.8"/><circle cx="882.1" cy="927.1" r="9.8"/><circle cx="918.0" cy="934.7" r="9.8"/><circle cx="919.0" cy="950.9" r="9.8"/><circle cx="865.3" cy="796.0" r="9.8"/><circle cx="875.4" cy="806.1" r="9.8"/><circle cx="901.8" cy="824.4" r="9.8"/><circle cx="911.9" cy="836.5" r="9.8"/><circle cx="918.0" cy="816.3" r="9.8"/><circle cx="895.7" cy="783.9" r="9.8"/><circle cx="913.9" cy="785.9" r="9.8"/><circle cx="865.3" cy="773.7" r="9.8"/><circle cx="885.6" cy="765.6" r="9.8"/><circle cx="998.1" cy="286.3" r="9.8"/><circle cx="1089.3" cy="281.8" r="9.8"/><circle cx="1068.0" cy="320.5" r="9.8"/><circle cx="1104.1" cy="335.9" r="9.8"/><circle cx="1077.1" cy="345.6" r="9.8"/><circle cx="1097.6" cy="354.3" r="9.8"/><circle cx="1003.4" cy="344.8" r="9.8"/><circle cx="1167.8" cy="338.7" r="9.8"/><circle cx="1227.6" cy="348.1" r="9.8"/><circle cx="1180.0" cy="360.2" r="9.8"/><circle cx="1178.0" cy="372.6" r="9.8"/><circle cx="1157.3" cy="373.0" r="9.8"/><circle cx="1117.6" cy="371.6" r="9.8"/><circle cx="1111.5" cy="390.6" r="9.8"/><circle cx="1025.1" cy="362.0" r="9.8"/><circle cx="1019.0" cy="375.0" r="9.8"/><circle cx="994.3" cy="375.0" r="9.8"/><circle cx="996.3" cy="386.1" r="9.8"/><circle cx="944.7" cy="373.0" r="9.8"/><circle cx="863.0" cy="370.9" r="9.8"/><circle cx="820.1" cy="362.2" r="9.8"/><circle cx="868.5" cy="347.7" r="9.8"/><circle cx="854.9" cy="344.6" r="9.8"/><circle cx="1046.9" cy="383.5" r="9.8"/><circle cx="1060.5" cy="380.1" r="9.8"/><circle cx="1071.6" cy="382.7" r="9.8"/><circle cx="1077.7" cy="397.3" r="9.8"/><circle cx="1045.3" cy="404.4" r="9.8"/><circle cx="1060.5" cy="406.4" r="9.8"/><circle cx="1073.7" cy="409.4" r="9.8"/><circle cx="1110.7" cy="418.5" r="9.8"/><circle cx="1142.5" cy="410.4" r="9.8"/><circle cx="973.0" cy="395.9" r="9.8"/><circle cx="977.5" cy="406.4" r="9.8"/><circle cx="986.6" cy="415.5" r="9.8"/><circle cx="998.7" cy="417.5" r="9.8"/><circle cx="1020.0" cy="410.4" r="9.8"/><circle cx="1014.9" cy="414.5" r="9.8"/><circle cx="933.3" cy="403.4" r="9.8"/><circle cx="944.5" cy="415.5" r="9.8"/><circle cx="946.1" cy="423.6" r="9.8"/><circle cx="958.2" cy="420.6" r="9.8"/><circle cx="928.9" cy="435.8" r="9.8"/><circle cx="942.0" cy="449.9" r="9.8"/><circle cx="957.2" cy="447.9" r="9.8"/><circle cx="972.4" cy="454.0" r="9.8"/><circle cx="978.5" cy="441.8" r="9.8"/><circle cx="992.7" cy="429.7" r="9.8"/><circle cx="1002.8" cy="439.8" r="9.8"/><circle cx="1033.2" cy="425.6" r="9.8"/><circle cx="1051.4" cy="429.7" r="9.8"/><circle cx="1083.8" cy="425.6" r="9.8"/><circle cx="1073.7" cy="437.8" r="9.8"/><circle cx="1216.5" cy="386.1" r="9.8"/><circle cx="1229.6" cy="393.2" r="9.8"/><circle cx="1253.9" cy="389.2" r="9.8"/><circle cx="1205.3" cy="397.3" r="9.8"/><circle cx="1174.9" cy="399.3" r="9.8"/><circle cx="1164.8" cy="401.3" r="9.8"/><circle cx="1158.7" cy="407.4" r="9.8"/><circle cx="1185.1" cy="401.3" r="9.8"/><circle cx="1276.2" cy="334.1" r="9.8"/><circle cx="1268.1" cy="349.1" r="9.8"/><circle cx="1352.4" cy="325.0" r="9.8"/><circle cx="1330.3" cy="349.5" r="9.8"/><circle cx="1401.8" cy="348.7" r="9.8"/><circle cx="1403.8" cy="360.8" r="9.8"/><circle cx="1397.7" cy="372.0" r="9.8"/><circle cx="1387.6" cy="377.0" r="9.8"/><circle cx="1384.6" cy="381.7" r="9.8"/><circle cx="1413.9" cy="381.1" r="9.8"/><circle cx="1414.9" cy="393.2" r="9.8"/><circle cx="1412.9" cy="403.4" r="9.8"/><circle cx="1422.0" cy="404.4" r="9.8"/><circle cx="1410.9" cy="413.5" r="9.8"/><circle cx="1429.1" cy="415.5" r="9.8"/><circle cx="1443.3" cy="419.6" r="9.8"/><circle cx="1352.4" cy="388.4" r="9.8"/><circle cx="1279.8" cy="374.0" r="9.8"/><circle cx="1286.3" cy="380.1" r="9.8"/><circle cx="1276.2" cy="388.8" r="9.8"/><circle cx="1279.2" cy="397.3" r="9.8"/><circle cx="1304.6" cy="388.2" r="9.8"/><circle cx="1307.6" cy="391.2" r="9.8"/><circle cx="1305.6" cy="400.3" r="9.8"/><circle cx="1292.4" cy="409.4" r="9.8"/><circle cx="1298.5" cy="422.6" r="9.8"/><circle cx="1266.1" cy="424.6" r="9.8"/><circle cx="1319.7" cy="417.5" r="9.8"/><circle cx="1323.8" cy="424.6" r="9.8"/><circle cx="1332.5" cy="404.4" r="9.8"/><circle cx="1343.0" cy="405.4" r="9.8"/><circle cx="1347.1" cy="413.5" r="9.8"/><circle cx="1365.9" cy="411.9" r="9.8"/><circle cx="1357.2" cy="423.6" r="9.8"/><circle cx="1378.5" cy="427.7" r="9.8"/><circle cx="1377.5" cy="437.8" r="9.8"/><circle cx="1399.7" cy="435.8" r="9.8"/><circle cx="1414.3" cy="433.3" r="9.8"/><circle cx="1467.6" cy="366.9" r="9.8"/><circle cx="1465.6" cy="374.0" r="9.8"/><circle cx="1472.1" cy="386.1" r="9.8"/><circle cx="1463.5" cy="403.4" r="9.8"/><circle cx="1457.5" cy="408.4" r="9.8"/><circle cx="1467.6" cy="409.8" r="9.8"/><circle cx="1569.3" cy="357.8" r="9.8"/><circle cx="1513.8" cy="402.7" r="9.8"/><circle cx="1513.2" cy="412.5" r="9.8"/><circle cx="1526.3" cy="415.5" r="9.8"/><circle cx="1539.5" cy="421.6" r="9.8"/><circle cx="1557.3" cy="420.0" r="9.8"/><circle cx="1557.7" cy="431.7" r="9.8"/><circle cx="1562.8" cy="430.1" r="9.8"/><circle cx="1586.5" cy="400.9" r="9.8"/><circle cx="1595.6" cy="413.5" r="9.8"/><circle cx="1492.5" cy="421.0" r="9.8"/><circle cx="1478.3" cy="436.8" r="9.8"/><circle cx="1484.4" cy="437.2" r="9.8"/><circle cx="1456.5" cy="434.7" r="9.8"/><circle cx="1446.3" cy="439.8" r="9.8"/><circle cx="1438.2" cy="442.8" r="9.8"/><circle cx="1442.3" cy="449.9" r="9.8"/><circle cx="1447.3" cy="447.9" r="9.8"/><circle cx="1501.0" cy="447.9" r="9.8"/><circle cx="1539.9" cy="440.8" r="9.8"/><circle cx="1567.8" cy="451.6" r="9.8"/><circle cx="1604.3" cy="454.6" r="9.8"/><circle cx="1469.6" cy="457.0" r="9.8"/><circle cx="1476.7" cy="465.1" r="9.8"/><circle cx="1526.3" cy="460.1" r="9.8"/><circle cx="1503.0" cy="470.2" r="9.8"/><circle cx="1513.2" cy="468.2" r="9.8"/><circle cx="1549.6" cy="464.1" r="9.8"/><circle cx="1552.7" cy="477.3" r="9.8"/><circle cx="1578.0" cy="468.2" r="9.8"/><circle cx="1571.9" cy="482.3" r="9.8"/><circle cx="1592.2" cy="466.1" r="9.8"/><circle cx="1598.2" cy="476.3" r="9.8"/><circle cx="1607.3" cy="486.4" r="9.8"/><circle cx="1614.4" cy="498.5" r="9.8"/><circle cx="1569.9" cy="496.5" r="9.8"/><circle cx="1575.9" cy="497.5" r="9.8"/><circle cx="1592.2" cy="510.7" r="9.8"/><circle cx="1604.3" cy="511.7" r="9.8"/><circle cx="1596.2" cy="504.6" r="9.8"/><circle cx="1626.6" cy="486.4" r="9.8"/><circle cx="1636.7" cy="492.5" r="9.8"/><circle cx="1647.2" cy="475.3" r="9.8"/><circle cx="1644.8" cy="480.3" r="9.8"/><circle cx="1654.9" cy="487.4" r="9.8"/><circle cx="1648.9" cy="498.5" r="9.8"/><circle cx="1662.0" cy="502.6" r="9.8"/><circle cx="1683.9" cy="466.1" r="9.8"/><circle cx="1702.5" cy="472.2" r="9.8"/><circle cx="1708.2" cy="488.4" r="9.8"/><circle cx="1731.9" cy="467.2" r="9.8"/><circle cx="1740.0" cy="462.1" r="9.8"/><circle cx="1738.0" cy="421.6" r="9.8"/><circle cx="1727.8" cy="518.8" r="9.8"/><circle cx="1681.3" cy="522.8" r="9.8"/><circle cx="1688.4" cy="523.9" r="9.8"/><circle cx="1626.6" cy="529.9" r="9.8"/><circle cx="1649.9" cy="529.9" r="9.8"/><circle cx="1613.4" cy="529.9" r="9.8"/><circle cx="1571.9" cy="518.8" r="9.8"/><circle cx="1578.0" cy="524.9" r="9.8"/><circle cx="1557.7" cy="514.7" r="9.8"/><circle cx="1551.6" cy="506.6" r="9.8"/><circle cx="1543.5" cy="488.4" r="9.8"/><circle cx="1521.3" cy="478.3" r="9.8"/><circle cx="1488.9" cy="478.3" r="9.8"/><circle cx="1401.8" cy="443.9" r="9.8"/><circle cx="1405.8" cy="454.0" r="9.8"/><circle cx="1418.0" cy="466.1" r="9.8"/><circle cx="1438.2" cy="466.1" r="9.8"/><circle cx="1761.0" cy="411.7" r="9.8"/><circle cx="1771.5" cy="446.4" r="9.8"/><circle cx="1749.9" cy="493.0" r="9.8"/><circle cx="1791.4" cy="509.4" r="9.8"/><circle cx="1798.5" cy="523.5" r="9.8"/><circle cx="1761.6" cy="533.7" r="9.8"/><circle cx="1770.1" cy="547.0" r="9.8"/><circle cx="1815.1" cy="561.4" r="9.8"/><circle cx="1828.5" cy="570.5" r="9.8"/><circle cx="1839.0" cy="578.8" r="9.8"/><circle cx="1937.6" cy="543.8" r="9.8"/><circle cx="1966.0" cy="623.0" r="9.8"/><circle cx="1842.4" cy="607.8" r="9.8"/><circle cx="1824.8" cy="634.5" r="9.8"/><circle cx="1780.9" cy="622.8" r="9.8"/><circle cx="1774.2" cy="627.8" r="9.8"/><circle cx="1773.2" cy="643.0" r="9.8"/><circle cx="1791.4" cy="645.1" r="9.8"/><circle cx="1795.4" cy="649.1" r="9.8"/><circle cx="1790.8" cy="660.9" r="9.8"/><circle cx="1760.6" cy="568.1" r="9.8"/><circle cx="1767.1" cy="574.2" r="9.8"/><circle cx="1777.8" cy="573.6" r="9.8"/><circle cx="1737.3" cy="568.1" r="9.8"/><circle cx="1739.7" cy="603.1" r="9.8"/><circle cx="1722.1" cy="620.2" r="9.8"/><circle cx="1704.9" cy="548.9" r="9.8"/><circle cx="1715.4" cy="555.3" r="9.8"/><circle cx="1693.2" cy="563.4" r="9.8"/><circle cx="1671.3" cy="560.6" r="9.8"/><circle cx="1660.8" cy="568.1" r="9.8"/><circle cx="1709.4" cy="576.2" r="9.8"/><circle cx="1727.6" cy="580.3" r="9.8"/><circle cx="1648.6" cy="583.3" r="9.8"/><circle cx="1653.7" cy="586.3" r="9.8"/><circle cx="1695.2" cy="591.4" r="9.8"/><circle cx="1703.3" cy="603.1" r="9.8"/><circle cx="1723.5" cy="601.5" r="9.8"/><circle cx="1678.0" cy="596.5" r="9.8"/><circle cx="1654.7" cy="539.7" r="9.8"/><circle cx="1613.2" cy="548.9" r="9.8"/><circle cx="1638.5" cy="558.0" r="9.8"/><circle cx="1633.4" cy="567.1" r="9.8"/><circle cx="1617.2" cy="568.5" r="9.8"/><circle cx="1640.5" cy="541.8" r="9.8"/><circle cx="1713.4" cy="636.6" r="9.8"/><circle cx="1729.6" cy="650.1" r="9.8"/><circle cx="1729.6" cy="661.3" r="9.8"/><circle cx="1745.4" cy="660.3" r="9.8"/><circle cx="1745.8" cy="673.4" r="9.8"/><circle cx="1747.8" cy="678.5" r="9.8"/><circle cx="1708.4" cy="664.3" r="9.8"/><circle cx="1701.3" cy="669.4" r="9.8"/><circle cx="1682.4" cy="686.2" r="9.8"/><circle cx="1683.4" cy="697.3" r="9.8"/><circle cx="1740.4" cy="699.7" r="9.8"/><circle cx="1773.2" cy="698.3" r="9.8"/><circle cx="1810.6" cy="714.9" r="9.8"/><circle cx="1797.5" cy="714.9" r="9.8"/><circle cx="1862.3" cy="714.9" r="9.8"/><circle cx="1707.3" cy="714.9" r="9.8"/><circle cx="1655.7" cy="645.1" r="9.8"/><circle cx="1639.5" cy="645.1" r="9.8"/><circle cx="1671.9" cy="654.2" r="9.8"/><circle cx="1686.1" cy="648.1" r="9.8"/><circle cx="1655.7" cy="666.3" r="9.8"/><circle cx="1650.6" cy="677.5" r="9.8"/><circle cx="1663.8" cy="689.6" r="9.8"/><circle cx="1660.8" cy="699.7" r="9.8"/><circle cx="1638.5" cy="699.7" r="9.8"/><circle cx="1631.4" cy="673.4" r="9.8"/><circle cx="1617.2" cy="677.5" r="9.8"/><circle cx="1660.8" cy="714.9" r="9.8"/><circle cx="1596.5" cy="537.7" r="9.8"/><circle cx="1709.9" cy="587.3" r="9.8"/><circle cx="1722.0" cy="590.4" r="9.8"/><circle cx="1679.5" cy="605.6" r="9.8"/><circle cx="1671.4" cy="611.6" r="9.8"/><circle cx="1653.2" cy="609.6" r="9.8"/><circle cx="1643.0" cy="621.8" r="9.8"/><circle cx="1630.9" cy="623.8" r="9.8"/><circle cx="1622.8" cy="609.6" r="9.8"/><circle cx="1691.6" cy="625.8" r="9.8"/><circle cx="1699.7" cy="633.9" r="9.8"/><circle cx="1681.5" cy="621.8" r="9.8"/><circle cx="1624.8" cy="649.1" r="9.8"/><circle cx="1634.9" cy="658.2" r="9.8"/><circle cx="1699.7" cy="646.1" r="9.8"/><circle cx="1622.8" cy="704.8" r="9.8"/><circle cx="1630.9" cy="682.5" r="9.8"/><circle cx="1722.0" cy="732.8" r="9.8"/><circle cx="1685.2" cy="747.3" r="9.8"/><circle cx="1653.2" cy="719.0" r="9.8"/><circle cx="1663.3" cy="727.1" r="9.8"/><circle cx="1670.4" cy="732.2" r="9.8"/><circle cx="1651.1" cy="741.3" r="9.8"/><circle cx="1661.3" cy="746.3" r="9.8"/><circle cx="1639.0" cy="747.3" r="9.8"/><circle cx="1625.8" cy="746.3" r="9.8"/><circle cx="1632.9" cy="718.0" r="9.8"/><circle cx="1612.7" cy="721.0" r="9.8"/><circle cx="1600.5" cy="725.1" r="9.8"/><circle cx="1586.3" cy="721.0" r="9.8"/><circle cx="1583.3" cy="743.3" r="9.8"/><circle cx="1589.4" cy="747.3" r="9.8"/><circle cx="1596.5" cy="759.5" r="9.8"/><circle cx="1621.4" cy="762.5" r="9.8"/><circle cx="1714.3" cy="764.2" r="9.8"/><circle cx="1707.8" cy="773.7" r="9.8"/><circle cx="1673.4" cy="773.7" r="9.8"/><circle cx="1680.5" cy="779.3" r="9.8"/><circle cx="1695.7" cy="777.7" r="9.8"/><circle cx="1701.8" cy="783.8" r="9.8"/><circle cx="1720.0" cy="789.9" r="9.8"/><circle cx="1762.1" cy="776.1" r="9.8"/><circle cx="1840.5" cy="769.6" r="9.8"/><circle cx="1840.5" cy="788.9" r="9.8"/><circle cx="1637.0" cy="791.9" r="9.8"/><circle cx="1655.2" cy="791.9" r="9.8"/><circle cx="1588.4" cy="773.7" r="9.8"/><circle cx="1568.1" cy="783.8" r="9.8"/><circle cx="1580.3" cy="794.9" r="9.8"/><circle cx="1532.7" cy="791.9" r="9.8"/><circle cx="1421.7" cy="1022.2" r="9.8"/><circle cx="1453.1" cy="961.5" r="9.8"/><circle cx="1461.6" cy="973.8" r="9.8"/><circle cx="1414.8" cy="926.6" r="9.8"/><circle cx="1414.8" cy="930.7" r="9.8"/><circle cx="1433.4" cy="937.8" r="9.8"/><circle cx="1463.6" cy="929.3" r="9.8"/><circle cx="1566.5" cy="905.0" r="9.8"/><circle cx="1568.1" cy="928.9" r="9.8"/><circle cx="1748.4" cy="885.1" r="9.8"/><circle cx="1733.6" cy="829.4" r="9.8"/><circle cx="1636.6" cy="873.6" r="9.8"/><circle cx="1553.3" cy="878.2" r="9.8"/><circle cx="1585.3" cy="864.3" r="9.8"/><circle cx="1590.0" cy="851.7" r="9.8"/><circle cx="1563.0" cy="854.1" r="9.8"/><circle cx="1534.7" cy="852.7" r="9.8"/><circle cx="1542.8" cy="850.7" r="9.8"/><circle cx="1521.5" cy="869.5" r="9.8"/><circle cx="1513.4" cy="863.9" r="9.8"/><circle cx="1501.3" cy="876.0" r="9.8"/><circle cx="1502.3" cy="879.1" r="9.8"/><circle cx="1489.1" cy="868.9" r="9.8"/><circle cx="1478.0" cy="857.4" r="9.8"/><circle cx="1501.3" cy="845.6" r="9.8"/><circle cx="1501.3" cy="854.7" r="9.8"/><circle cx="1461.8" cy="850.7" r="9.8"/><circle cx="1454.7" cy="841.6" r="9.8"/><circle cx="1450.6" cy="846.6" r="9.8"/><circle cx="1437.5" cy="854.1" r="9.8"/><circle cx="1411.7" cy="865.5" r="9.8"/><circle cx="1435.4" cy="868.9" r="9.8"/><circle cx="1437.5" cy="883.5" r="9.8"/><circle cx="1435.4" cy="895.3" r="9.8"/><circle cx="1408.1" cy="898.9" r="9.8"/><circle cx="1400.0" cy="855.8" r="9.8"/><circle cx="1629.5" cy="825.4" r="9.8"/><circle cx="1614.7" cy="808.2" r="9.8"/><circle cx="1622.8" cy="810.2" r="9.8"/><circle cx="1642.0" cy="801.1" r="9.8"/><circle cx="1656.2" cy="807.2" r="9.8"/><circle cx="1584.9" cy="825.8" r="9.8"/><circle cx="1564.1" cy="827.4" r="9.8"/><circle cx="1553.9" cy="831.5" r="9.8"/><circle cx="1572.2" cy="810.2" r="9.8"/><circle cx="1572.2" cy="798.0" r="9.8"/><circle cx="1532.7" cy="820.3" r="9.8"/><circle cx="1535.7" cy="809.2" r="9.8"/><circle cx="1510.4" cy="829.4" r="9.8"/><circle cx="1497.2" cy="825.4" r="9.8"/><circle cx="1513.4" cy="821.3" r="9.8"/><circle cx="1483.0" cy="813.2" r="9.8"/><circle cx="1469.9" cy="813.2" r="9.8"/><circle cx="1458.7" cy="815.3" r="9.8"/><circle cx="1454.7" cy="825.4" r="9.8"/><circle cx="1426.3" cy="829.4" r="9.8"/><circle cx="1422.3" cy="821.3" r="9.8"/><circle cx="1412.2" cy="839.6" r="9.8"/><circle cx="1406.1" cy="825.4" r="9.8"/><circle cx="1440.5" cy="803.1" r="9.8"/><circle cx="1511.4" cy="807.2" r="9.8"/><circle cx="1373.7" cy="1021.8" r="9.8"/><circle cx="1261.7" cy="1002.6" r="9.8"/><circle cx="1293.1" cy="990.4" r="9.8"/><circle cx="1049.0" cy="997.5" r="9.8"/><circle cx="1026.9" cy="968.2" r="9.8"/><circle cx="1044.6" cy="965.1" r="9.8"/><circle cx="1047.6" cy="930.7" r="9.8"/><circle cx="1012.6" cy="914.5" r="9.8"/><circle cx="1032.8" cy="907.0" r="9.8"/><circle cx="963.5" cy="891.2" r="9.8"/><circle cx="972.3" cy="902.3" r="9.8"/><circle cx="1319.4" cy="940.2" r="9.8"/><circle cx="1355.4" cy="927.3" r="9.8"/><circle cx="1372.7" cy="925.6" r="9.8"/><circle cx="1278.5" cy="919.6" r="9.8"/><circle cx="1287.6" cy="928.7" r="9.8"/><circle cx="1379.1" cy="900.3" r="9.8"/><circle cx="1220.4" cy="904.4" r="9.8"/><circle cx="1189.4" cy="913.5" r="9.8"/><circle cx="1194.4" cy="911.1" r="9.8"/><circle cx="1120.9" cy="902.7" r="9.8"/><circle cx="1150.9" cy="901.3" r="9.8"/><circle cx="1163.0" cy="903.4" r="9.8"/><circle cx="1149.9" cy="889.2" r="9.8"/><circle cx="1166.7" cy="890.2" r="9.8"/><circle cx="1134.7" cy="886.5" r="9.8"/><circle cx="1088.1" cy="893.2" r="9.8"/><circle cx="1097.2" cy="887.2" r="9.8"/><circle cx="1109.4" cy="881.1" r="9.8"/><circle cx="1112.4" cy="884.1" r="9.8"/><circle cx="1075.9" cy="881.1" r="9.8"/><circle cx="1087.1" cy="883.1" r="9.8"/><circle cx="1077.6" cy="870.9" r="9.8"/><circle cx="1248.7" cy="901.3" r="9.8"/><circle cx="1260.3" cy="893.2" r="9.8"/><circle cx="1273.4" cy="893.2" r="9.8"/><circle cx="1295.3" cy="894.8" r="9.8"/><circle cx="1310.9" cy="892.8" r="9.8"/><circle cx="1270.4" cy="882.1" r="9.8"/><circle cx="1284.6" cy="874.0" r="9.8"/><circle cx="1297.7" cy="877.0" r="9.8"/><circle cx="1379.1" cy="878.0" r="9.8"/><circle cx="1371.6" cy="864.9" r="9.8"/><circle cx="1377.7" cy="855.8" r="9.8"/><circle cx="1391.9" cy="859.8" r="9.8"/><circle cx="1193.4" cy="878.0" r="9.8"/><circle cx="1203.5" cy="874.0" r="9.8"/><circle cx="1207.6" cy="878.0" r="9.8"/><circle cx="1221.8" cy="873.0" r="9.8"/><circle cx="1225.8" cy="870.9" r="9.8"/><circle cx="1183.3" cy="863.9" r="9.8"/><circle cx="1158.0" cy="866.9" r="9.8"/><circle cx="1136.7" cy="866.9" r="9.8"/><circle cx="1122.5" cy="861.8" r="9.8"/><circle cx="1106.3" cy="855.8" r="9.8"/><circle cx="1084.1" cy="849.7" r="9.8"/><circle cx="1034.4" cy="859.4" r="9.8"/><circle cx="1051.2" cy="866.9" r="9.8"/><circle cx="1055.7" cy="861.8" r="9.8"/><circle cx="1049.6" cy="853.7" r="9.8"/><circle cx="1011.1" cy="865.9" r="9.8"/><circle cx="1007.1" cy="869.9" r="9.8"/><circle cx="1002.4" cy="881.5" r="9.8"/><circle cx="973.7" cy="868.9" r="9.8"/><circle cx="986.2" cy="874.4" r="9.8"/><circle cx="948.4" cy="860.2" r="9.8"/><circle cx="960.5" cy="853.7" r="9.8"/><circle cx="964.6" cy="845.6" r="9.8"/><circle cx="931.1" cy="853.7" r="9.8"/><circle cx="920.0" cy="847.7" r="9.8"/><circle cx="943.3" cy="839.6" r="9.8"/><circle cx="974.7" cy="833.5" r="9.8"/><circle cx="994.9" cy="843.6" r="9.8"/><circle cx="1009.1" cy="839.6" r="9.8"/><circle cx="1031.4" cy="839.6" r="9.8"/><circle cx="1053.7" cy="842.6" r="9.8"/><circle cx="1240.0" cy="851.7" r="9.8"/><circle cx="1252.2" cy="859.8" r="9.8"/><circle cx="1262.3" cy="857.8" r="9.8"/><circle cx="1276.5" cy="869.9" r="9.8"/><circle cx="1290.6" cy="853.7" r="9.8"/><circle cx="1298.7" cy="839.6" r="9.8"/><circle cx="1310.9" cy="853.7" r="9.8"/><circle cx="1327.1" cy="851.7" r="9.8"/><circle cx="1339.2" cy="849.7" r="9.8"/><circle cx="1353.4" cy="851.7" r="9.8"/><circle cx="1203.5" cy="847.7" r="9.8"/><circle cx="1223.8" cy="835.5" r="9.8"/></g>
<g fill="#E97132"><circle cx="521.6" cy="481.4" r="9.8"/><circle cx="596.4" cy="502.7" r="9.8"/><circle cx="537.8" cy="536.1" r="9.8"/><circle cx="576.7" cy="555.9" r="9.8"/><circle cx="607.1" cy="554.5" r="9.8"/><circle cx="488.2" cy="602.5" r="9.8"/><circle cx="572.9" cy="620.8" r="9.8"/><circle cx="492.1" cy="640.6" r="9.8"/><circle cx="572.1" cy="655.8" r="9.8"/><circle cx="625.3" cy="664.3" r="9.8"/><circle cx="552.8" cy="700.2" r="9.8"/><circle cx="692.2" cy="434.8" r="9.8"/><circle cx="734.3" cy="429.6" r="9.8"/><circle cx="719.1" cy="456.9" r="9.8"/><circle cx="671.3" cy="475.9" r="9.8"/><circle cx="693.2" cy="485.1" r="9.8"/><circle cx="700.7" cy="493.6" r="9.8"/><circle cx="671.9" cy="512.6" r="9.8"/><circle cx="641.5" cy="567.7" r="9.8"/><circle cx="654.3" cy="567.7" r="9.8"/><circle cx="643.5" cy="576.6" r="9.8"/><circle cx="615.8" cy="589.4" r="9.8"/><circle cx="621.3" cy="594.8" r="9.8"/><circle cx="635.0" cy="610.0" r="9.8"/><circle cx="642.9" cy="623.8" r="9.8"/><circle cx="562.9" cy="728.4" r="9.8"/><circle cx="585.0" cy="750.4" r="9.8"/><circle cx="499.5" cy="786.3" r="9.8"/><circle cx="501.8" cy="814.4" r="9.8"/><circle cx="272.6" cy="1422.7" r="9.8"/></g>
<circle cx="272.6" cy="1422.7" r="10.15" fill="#E97132"/>
<path d="M732.9 284.6H948.1V342.0H822.5L758.8 449.1L769.8 342.0H732.9Z" fill="#fff" stroke="#BFBFBF" stroke-width="2.2" stroke-linejoin="miter"/><text transform="translate(744.61,326.00) scale(0.9576,1)" font-size="36.0" fill="#595959" stroke="#595959" stroke-width="0.35" filter="url(#g)" xml:space="preserve">123.34, 4.95</text>
<path d="M557.6 339.4H773.1V397.5H737.1L692.2 435.9L683.1 397.5H557.6Z" fill="#fff" stroke="#BFBFBF" stroke-width="2.2" stroke-linejoin="miter"/><text transform="translate(569.61,381.30) scale(0.9593,1)" font-size="36.0" fill="#595959" stroke="#595959" stroke-width="0.35" filter="url(#g)" xml:space="preserve">106.37, 5.02</text>
</svg></body></html>
